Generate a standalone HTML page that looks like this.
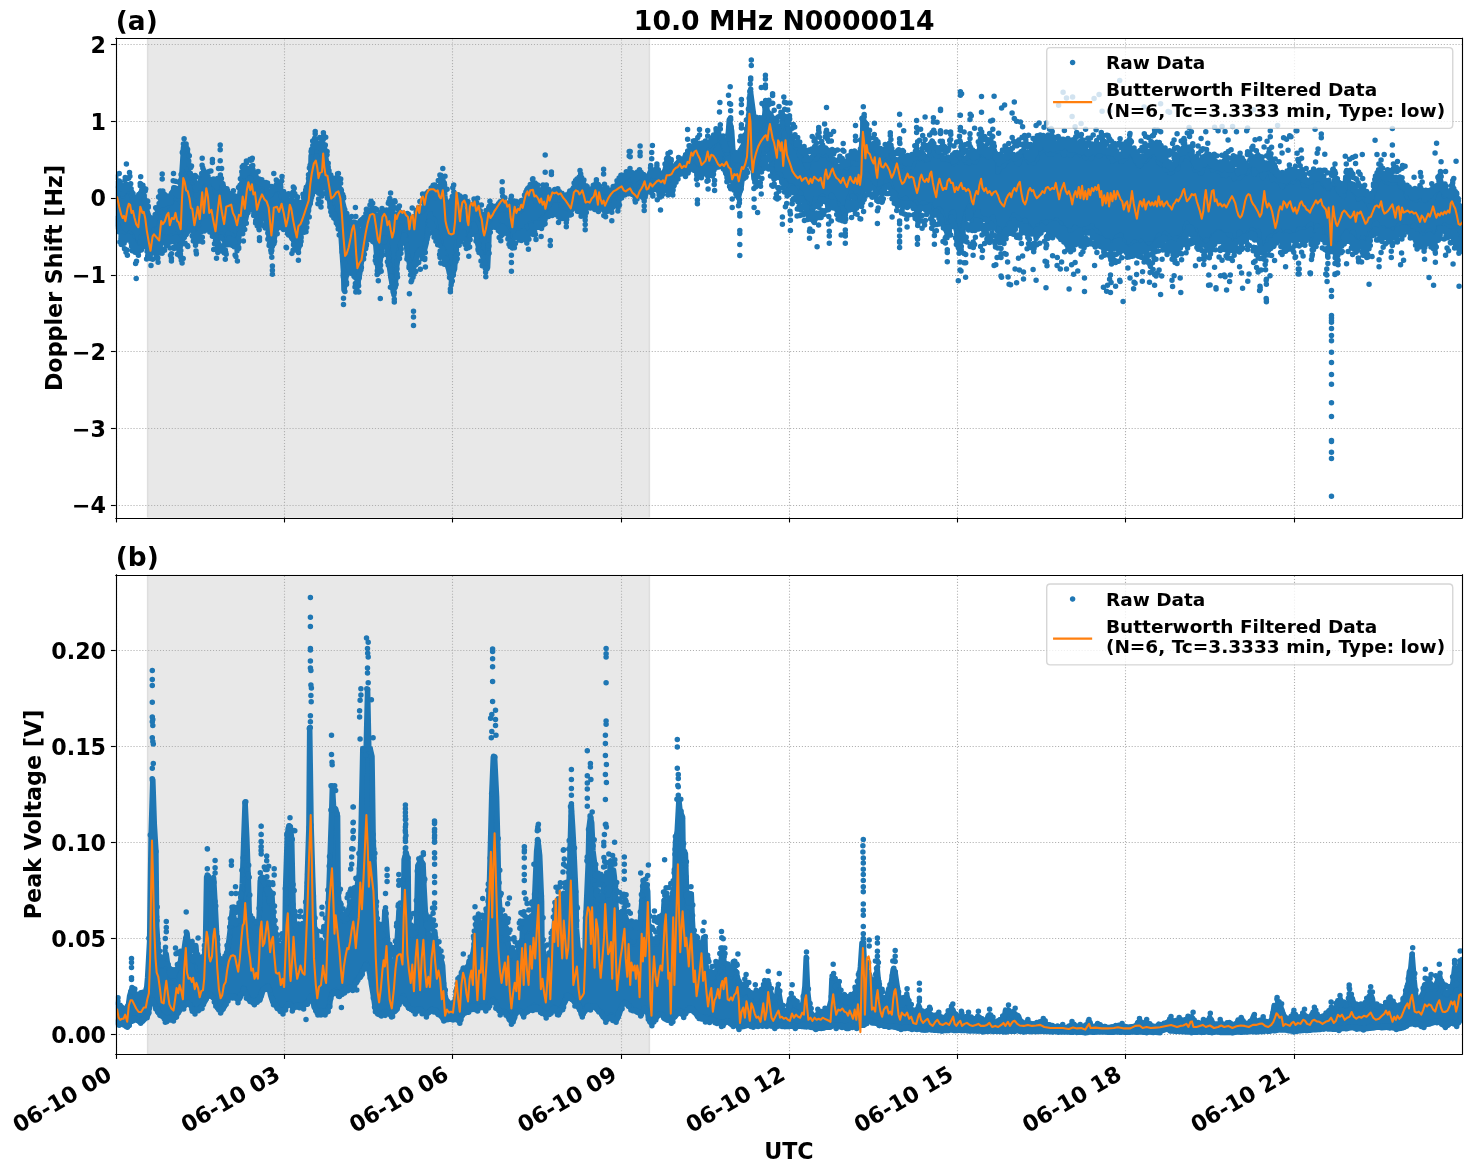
<!DOCTYPE html>
<html lang="en"><head><meta charset="utf-8"><title>10.0 MHz N0000014</title>
<style>html,body{margin:0;padding:0;background:#fff}body{width:1471px;height:1172px;overflow:hidden}svg{display:block}</style>
</head><body>
<svg width="1471" height="1172" viewBox="-0.0161 0.1890 1059.1200 843.8400"><defs><style type="text/css">*{stroke-linejoin: round; stroke-linecap: butt}</style></defs><g id="figure_1"><g id="patch_1"><path d="M 0 845.731138 L 1059.823914 845.731138 L 1059.823914 0 L 0 0 z " style="fill: #ffffff"/></g><g id="axes_1"><g id="patch_2"><path d="M 83.362837 372.871117 L 1052.623914 372.871117 L 1052.623914 27.789 L 83.362837 27.789 z " style="fill: #ffffff"/></g><g id="patch_3"><path d="M 106.1839 372.871117 L 467.6239 372.871117 L 467.6239 27.789 L 106.1839 27.789 z " clip-path="url(#p6ab9ace3d1)" style="fill: #808080; fill-opacity: 0.18; stroke: #808080; stroke-opacity: 0.18; stroke-linejoin: miter"/></g><g id="matplotlib.axis_1"><g id="xtick_1"><g id="line2d_1"><path d="M 83.8639 372.871117 L 83.8639 27.789" clip-path="url(#p6ab9ace3d1)" style="fill: none; stroke-dasharray: 0.8,1.32; stroke-dashoffset: 0; stroke: #b0b0b0; stroke-width: 0.8"/></g><g id="line2d_2"><defs><path id="m1504cfccaf" d="M 0 0 L 0 3.5 " style="stroke: #000000; stroke-width: 0.8"/></defs><g><use href="#m1504cfccaf" x="83.8639" y="372.871117" style="stroke: #000000; stroke-width: 0.8"/></g></g></g><g id="xtick_2"><g id="line2d_3"><path d="M 204.8239 372.871117 L 204.8239 27.789" clip-path="url(#p6ab9ace3d1)" style="fill: none; stroke-dasharray: 0.8,1.32; stroke-dashoffset: 0; stroke: #b0b0b0; stroke-width: 0.8"/></g><g id="line2d_4"><g><use href="#m1504cfccaf" x="204.8239" y="372.871117" style="stroke: #000000; stroke-width: 0.8"/></g></g></g><g id="xtick_3"><g id="line2d_5"><path d="M 325.7839 372.871117 L 325.7839 27.789" clip-path="url(#p6ab9ace3d1)" style="fill: none; stroke-dasharray: 0.8,1.32; stroke-dashoffset: 0; stroke: #b0b0b0; stroke-width: 0.8"/></g><g id="line2d_6"><g><use href="#m1504cfccaf" x="325.7839" y="372.871117" style="stroke: #000000; stroke-width: 0.8"/></g></g></g><g id="xtick_4"><g id="line2d_7"><path d="M 447.4639 372.871117 L 447.4639 27.789" clip-path="url(#p6ab9ace3d1)" style="fill: none; stroke-dasharray: 0.8,1.32; stroke-dashoffset: 0; stroke: #b0b0b0; stroke-width: 0.8"/></g><g id="line2d_8"><g><use href="#m1504cfccaf" x="447.4639" y="372.871117" style="stroke: #000000; stroke-width: 0.8"/></g></g></g><g id="xtick_5"><g id="line2d_9"><path d="M 568.4239 372.871117 L 568.4239 27.789" clip-path="url(#p6ab9ace3d1)" style="fill: none; stroke-dasharray: 0.8,1.32; stroke-dashoffset: 0; stroke: #b0b0b0; stroke-width: 0.8"/></g><g id="line2d_10"><g><use href="#m1504cfccaf" x="568.4239" y="372.871117" style="stroke: #000000; stroke-width: 0.8"/></g></g></g><g id="xtick_6"><g id="line2d_11"><path d="M 689.3839 372.871117 L 689.3839 27.789" clip-path="url(#p6ab9ace3d1)" style="fill: none; stroke-dasharray: 0.8,1.32; stroke-dashoffset: 0; stroke: #b0b0b0; stroke-width: 0.8"/></g><g id="line2d_12"><g><use href="#m1504cfccaf" x="689.3839" y="372.871117" style="stroke: #000000; stroke-width: 0.8"/></g></g></g><g id="xtick_7"><g id="line2d_13"><path d="M 810.3439 372.871117 L 810.3439 27.789" clip-path="url(#p6ab9ace3d1)" style="fill: none; stroke-dasharray: 0.8,1.32; stroke-dashoffset: 0; stroke: #b0b0b0; stroke-width: 0.8"/></g><g id="line2d_14"><g><use href="#m1504cfccaf" x="810.3439" y="372.871117" style="stroke: #000000; stroke-width: 0.8"/></g></g></g><g id="xtick_8"><g id="line2d_15"><path d="M 932.0239 372.871117 L 932.0239 27.789" clip-path="url(#p6ab9ace3d1)" style="fill: none; stroke-dasharray: 0.8,1.32; stroke-dashoffset: 0; stroke: #b0b0b0; stroke-width: 0.8"/></g><g id="line2d_16"><g><use href="#m1504cfccaf" x="932.0239" y="372.871117" style="stroke: #000000; stroke-width: 0.8"/></g></g></g></g><g id="matplotlib.axis_2"><g id="ytick_1"><g id="line2d_17"><path d="M 83.362837 364.1490 L 1052.623914 364.1490" clip-path="url(#p6ab9ace3d1)" style="fill: none; stroke-dasharray: 0.8,1.32; stroke-dashoffset: 0; stroke: #b0b0b0; stroke-width: 0.8"/></g><g id="line2d_18"><defs><path id="m5d545ce8f8" d="M 0 0 L -3.5 0 " style="stroke: #000000; stroke-width: 0.8"/></defs><g><use href="#m5d545ce8f8" x="83.362837" y="364.1490" style="stroke: #000000; stroke-width: 0.8"/></g></g><g id="text_1"><text style="font-weight: 700; font-size: 16px; font-family: 'DejaVu Sans', 'Liberation Sans', sans-serif; text-anchor: end" x="76.362837" y="369.760129">−4</text></g></g><g id="ytick_2"><g id="line2d_19"><path d="M 83.362837 308.7090 L 1052.623914 308.7090" clip-path="url(#p6ab9ace3d1)" style="fill: none; stroke-dasharray: 0.8,1.32; stroke-dashoffset: 0; stroke: #b0b0b0; stroke-width: 0.8"/></g><g id="line2d_20"><g><use href="#m5d545ce8f8" x="83.362837" y="308.7090" style="stroke: #000000; stroke-width: 0.8"/></g></g><g id="text_2"><text style="font-weight: 700; font-size: 16px; font-family: 'DejaVu Sans', 'Liberation Sans', sans-serif; text-anchor: end" x="76.362837" y="314.50013">−3</text></g></g><g id="ytick_3"><g id="line2d_21"><path d="M 83.362837 253.2690 L 1052.623914 253.2690" clip-path="url(#p6ab9ace3d1)" style="fill: none; stroke-dasharray: 0.8,1.32; stroke-dashoffset: 0; stroke: #b0b0b0; stroke-width: 0.8"/></g><g id="line2d_22"><g><use href="#m5d545ce8f8" x="83.362837" y="253.2690" style="stroke: #000000; stroke-width: 0.8"/></g></g><g id="text_3"><text style="font-weight: 700; font-size: 16px; font-family: 'DejaVu Sans', 'Liberation Sans', sans-serif; text-anchor: end" x="76.362837" y="259.240131">−2</text></g></g><g id="ytick_4"><g id="line2d_23"><path d="M 83.362837 198.5490 L 1052.623914 198.5490" clip-path="url(#p6ab9ace3d1)" style="fill: none; stroke-dasharray: 0.8,1.32; stroke-dashoffset: 0; stroke: #b0b0b0; stroke-width: 0.8"/></g><g id="line2d_24"><g><use href="#m5d545ce8f8" x="83.362837" y="198.5490" style="stroke: #000000; stroke-width: 0.8"/></g></g><g id="text_4"><text style="font-weight: 700; font-size: 16px; font-family: 'DejaVu Sans', 'Liberation Sans', sans-serif; text-anchor: end" x="76.362837" y="203.980132">−1</text></g></g><g id="ytick_5"><g id="line2d_25"><path d="M 83.362837 143.1090 L 1052.623914 143.1090" clip-path="url(#p6ab9ace3d1)" style="fill: none; stroke-dasharray: 0.8,1.32; stroke-dashoffset: 0; stroke: #b0b0b0; stroke-width: 0.8"/></g><g id="line2d_26"><g><use href="#m5d545ce8f8" x="83.362837" y="143.1090" style="stroke: #000000; stroke-width: 0.8"/></g></g><g id="text_5"><text style="font-weight: 700; font-size: 16px; font-family: 'DejaVu Sans', 'Liberation Sans', sans-serif; text-anchor: end" x="76.362837" y="148.720132">0</text></g></g><g id="ytick_6"><g id="line2d_27"><path d="M 83.362837 87.6690 L 1052.623914 87.6690" clip-path="url(#p6ab9ace3d1)" style="fill: none; stroke-dasharray: 0.8,1.32; stroke-dashoffset: 0; stroke: #b0b0b0; stroke-width: 0.8"/></g><g id="line2d_28"><g><use href="#m5d545ce8f8" x="83.362837" y="87.6690" style="stroke: #000000; stroke-width: 0.8"/></g></g><g id="text_6"><text style="font-weight: 700; font-size: 16px; font-family: 'DejaVu Sans', 'Liberation Sans', sans-serif; text-anchor: end" x="76.362837" y="93.460133">1</text></g></g><g id="ytick_7"><g id="line2d_29"><path d="M 83.362837 32.2290 L 1052.623914 32.2290" clip-path="url(#p6ab9ace3d1)" style="fill: none; stroke-dasharray: 0.8,1.32; stroke-dashoffset: 0; stroke: #b0b0b0; stroke-width: 0.8"/></g><g id="line2d_30"><g><use href="#m5d545ce8f8" x="83.362837" y="32.2290" style="stroke: #000000; stroke-width: 0.8"/></g></g><g id="text_7"><text style="font-weight: 700; font-size: 16px; font-family: 'DejaVu Sans', 'Liberation Sans', sans-serif; text-anchor: end" x="76.362837" y="38.200134">2</text></g></g><g id="text_8"><text style="font-weight: 700; font-size: 16px; font-family: 'DejaVu Sans', 'Liberation Sans', sans-serif; text-anchor: middle" x="44.495337" y="200.330059" transform="rotate(-90 44.495337 200.330059)">Doppler Shift [Hz]</text></g></g><g id="rawA"><defs><path id="m3a58cf84ba" d="M 0 1.5 C 0.397805 1.5 0.77937 1.341951 1.06066 1.06066 C 1.341951 0.77937 1.5 0.397805 1.5 0 C 1.5 -0.397805 1.341951 -0.77937 1.06066 -1.06066 C 0.77937 -1.341951 0.397805 -1.5 0 -1.5 C -0.397805 -1.5 -0.77937 -1.341951 -1.06066 -1.06066 C -1.341951 -0.77937 -1.5 -0.397805 -1.5 0 C -1.5 0.397805 -1.341951 0.77937 -1.06066 1.06066 C -0.77937 1.341951 -0.397805 1.5 0 1.5 z " style="stroke: #1f77b4"/></defs><g clip-path="url(#p6ab9ace3d1)"><g transform="scale(0.72) translate(-0.0224 0.2625)"><path d="M117.2 190.2 118 187.1 120.3 190.7 121.1 193.1 123 196 123.9 192.1 126.1 190.4 126.7 190.5 127.9 186 129.3 188.5 131.3 192.9 133.6 205.2 134.3 203.9 136.6 205.7 138.2 204.3 138.2 200.1 140.6 192.5 141.9 191.9 144.1 196.1 144.2 200.2 146.5 209.6 147.2 211.5 149.6 218.6 150.6 226.6 153.2 226 154.5 223.5 155.6 218.5 157.2 215.7 157.7 212 159.9 206.5 162 206 163.5 206.1 165 208.5 165.2 206.6 166.9 206.2 169.4 203.9 170.9 202.5 172.4 199.4 173.8 187.7 174.5 193 177.1 198.6 178.5 198.8 180.4 201.6 180.8 188.6 182.6 162.9 183.5 148.2 186.2 148.6 187.5 152.3 187.7 170 190.1 174.5 192.1 177.8 192.9 182 195.4 187.5 196 195.6 198.3 191.3 199.7 191.1 200.1 187.7 201.7 176.6 203.8 173.9 204.3 180.9 206.7 183.4 207.5 182.7 208.7 181 211.6 181.1 211.7 181.3 214.6 185.5 216.1 193.1 216.5 190.7 218.7 184.3 220.6 182.6 222.3 184.7 223.6 198.7 224.6 198.3 225.4 201.8 227.8 205 228.6 202.1 229.8 202.8 231.4 203.6 233.6 203.8 234.2 203.3 236 205.5 238.2 205.2 239.3 198.2 240.7 186.9 243.3 177.6 244.7 176 244.9 175.6 246.2 173.6 248.2 171.7 249.9 173.2 252.2 170.8 253.4 174.2 255.1 174.9 256.5 178.8 257.4 181.7 258.7 186.2 260.6 186.4 262.1 183.3 262.8 184 265.9 188 266.1 188.5 267.9 193.7 269.6 195.7 270.4 194.3 271.8 193.4 273.9 190.7 275.7 188.8 277.9 187.1 278.5 189.7 279.7 190 281.7 197.1 283.3 194.9 284.6 198.4 286.3 201.3 288.2 201.2 289.2 201.9 290.4 203.7 291.2 201.8 293.6 202.9 295.6 205.7 296.9 208.7 298.5 209 298.9 210.3 301.2 208 302 206 303.9 203.6 306.2 198.1 306.4 190.5 308.8 181.9 310.8 171.6 311.1 155.9 312.3 151.4 315.4 150.5 316.1 145.8 317.9 149.3 319.5 151.2 321.4 153.4 322 154.8 324.3 145.3 324.4 147.1 325.7 156.8 327.3 167.3 330.1 179 330.5 182.2 333.4 182.6 333.6 186.8 336.3 185.6 336.2 187.8 339.3 187.3 340 189.4 341.3 197 343.9 207.1 344.5 218.7 346.7 227.6 347.3 223.7 349.4 223.2 350.6 227.6 351.6 230.5 352.8 226.6 354.9 227.2 356.2 231.6 358.6 233.1 359.1 232.6 360.7 231.1 363 229.8 364.2 226.8 366.4 221.3 366.2 217.7 369.2 213.8 369.3 213.5 370.8 212.2 372.4 211.5 374.2 218.8 375.2 221.4 377.7 227 379.5 231.1 379.7 224.1 382.6 221.1 382.8 220.4 385.6 216.1 387.5 215.4 387.7 216.9 388.8 211.3 391.8 208.3 391.9 209.6 393.6 213.6 395.5 219.9 397.2 218 397.9 223.2 400.9 217 401 220.9 403.9 216.9 405.2 218.1 405.4 225.3 407 223.2 409.9 223.9 411.2 225.2 412.5 222.3 413 222.5 414.5 218.7 417.2 215.1 418.8 213.1 418.7 211.3 420.3 210.2 421.9 211.6 423.9 209.6 425.9 202.7 427 198.4 428.3 195.7 429.8 193.9 431.2 193 433 196.4 435.3 197.7 435.4 196.7 437 195.5 439.4 191.8 441 182.7 441.8 183.5 444.1 182.5 444.8 195.5 445.7 203.6 448.7 204.6 450.1 207 450.9 203.4 452.7 201.9 454.7 201.5 454.9 210.5 456.4 211.9 458.8 208.8 459.4 207.3 461.6 205.8 463 209.8 465.2 212.7 466.7 212.9 468.1 210.5 468.9 213.7 471.1 210.2 472.7 206.5 474.3 208.6 475.5 211.6 475.9 211.9 478.9 212.8 480.2 218.4 480.9 217.2 482.2 221.1 484.4 225.2 484.8 223 487.5 220 488.4 215.4 489.2 215.1 490.9 214.1 492.3 210.7 493.8 212 496.5 208.1 498 207.1 499.9 209.5 501.3 205.4 502.1 201.3 503.5 203.3 504.3 209.5 505.8 208.9 508.9 208.5 509.1 210.3 511.5 208.9 512 210 514.5 211.2 515.9 214.5 516.6 209.2 518.1 211.6 520.2 210.7 521.9 209.5 522.9 205.1 523.9 200.2 525.7 204.7 527.6 195 528.5 194.8 530.8 196.3 532.6 191.1 534.3 192 535.8 201.4 536.4 194.7 538.7 194.4 538.9 197.5 540.4 195.9 542.3 195.8 543.5 194.5 545.2 194.3 547 194.5 548 193.7 550.3 194.7 552 193.6 553.8 195.4 553.9 195.6 556.1 194.6 557.1 195.6 559.3 196.1 560 200 562.3 196.4 562.9 198.9 564.2 198.4 566.8 199.7 567.7 199.4 570.3 199.6 571.1 195.6 571.7 192.4 574.9 188.8 576 190 577.4 187.7 579.4 181 579.2 179.9 582 183.6 582.3 185.8 584.7 189.4 585.6 190.7 587.2 191.2 588.7 193.3 591.1 191 592.1 193.5 593 188.9 595.3 187.6 597 186.8 598.9 190.1 599.3 189.1 600.7 192.1 602.8 190.3 603.5 191.3 606.3 191.6 606.5 193.3 609.1 192.2 610 192.8 611.4 192.6 613.8 190.3 615.4 189.1 615.5 186.6 617.4 184.1 619.4 182.8 620.8 180.4 621.5 179.8 623.2 179.8 625.6 177.4 626.9 177.8 627.7 177.4 630.1 175.6 630.3 179.6 632.6 179.6 633.9 181.1 635.2 179.7 637.5 177.9 638.6 177.6 640 177.7 642.4 178.2 642.9 178.7 644.4 180.4 646.2 180.5 647.4 178.9 649.3 176.3 649.9 172.4 651.3 173.9 652.7 175.4 654.7 175.5 656.3 173.7 658.1 175 659.9 178.6 661.7 177.8 662 176.7 663.9 174.8 665.5 168.1 667.6 160.9 668.7 165.1 670.2 160.8 670.7 166.4 673 168.5 674.8 166.7 676.8 166.6 677.4 163.6 679.3 161.7 681 161.6 681.6 159.7 684 159.9 685.3 160.7 687 158.8 687.3 153.4 688.8 150.9 691.8 149.5 691.7 148.4 694.6 146.9 695 148.4 697.9 146.5 697.8 145.4 699.5 146.2 700.9 151.4 702.2 149.9 704.7 150.6 706 151.1 706.8 151.2 708.3 148.7 710.7 148.5 712.5 144.4 713.6 144.9 714.3 143 715.8 140.2 718.3 134.1 719.1 134.9 721.5 142.1 723.4 145.9 723.9 147.7 725 150.1 726.8 153.4 727.9 138.6 729.3 119.5 731.7 131.1 733.5 161.1 733.9 167.2 736.4 165 738.4 169 738.6 170.6 740.3 153.6 741.5 148.2 743.3 145 744.7 140.1 746.2 136 748.7 119.5 749.7 99.8 750.5 91.7 753.4 113.2 754 129.6 756.2 132.4 756.9 132.7 759.2 129.1 760.5 126.4 762.3 125.9 763.7 121.1 764.7 115.5 765.5 105.6 767 109.1 768.6 118.3 771.2 123.6 772.2 122.2 773 126.3 774.7 129.1 775.8 132.9 778.7 136.3 779.2 131 780.8 129.6 782.2 122.5 783.5 118.7 784.8 120 787.2 124.7 787.9 128.9 789.8 132.2 791 140.9 792.5 139.5 793.9 142.7 795.3 147.3 797.6 147.6 799.2 150.9 799.7 155.1 801.2 157.6 802.7 157.8 804.5 160.7 807.4 167.3 808.5 161.8 808.9 162.9 811.2 158.5 812.1 159.9 813.8 154.7 816.2 158.6 817.5 153.6 818.4 151.6 819.4 154.2 822.3 152.5 823.3 154.8 823.9 151.9 825.9 149.5 828.1 155.1 829.2 158.7 830.9 158.7 832.4 160.1 833.3 159.1 834.7 163 836 168.1 837.2 175.8 839.9 171.3 840.8 167.9 843.1 165 843.6 165.7 845.4 164 847.2 167.8 848.9 163.6 850.2 163.7 852.4 158.8 852.8 157.6 854.6 157.5 855.4 163.9 858.4 162.4 858.6 163.5 861.1 151 862.8 131.8 862.8 117.7 865.9 125.6 867.3 135 868.2 140 869.5 148.8 871.4 147 873.3 147.8 873.5 143.5 874.8 143.3 876.9 151.9 879.3 152.4 880.9 157.7 882.4 155.4 882.6 161.3 884 157.2 885.3 156.4 888.2 156.3 889.4 150.6 890.7 151.1 892.8 155.2 892.8 158.2 895.6 159.9 897.2 166 898.6 160.7 899.6 159.7 901.9 165.7 903.3 164.5 904.6 163.6 905.4 163.9 906.8 167.1 907.7 170.1 910.5 164.5 912.2 167.1 913.6 162 914.4 158.6 916.5 152.4 917.9 156.8 919.9 158.4 921.2 156.4 921.2 156.8 924.4 159.6 924.2 158 925.9 158.4 928.9 156.4 928.7 159 930.7 148.9 932.1 141.1 933.7 146.4 935.8 155.5 936.8 155.5 939.1 155.7 940.3 155.3 941.9 155.2 942.7 159 945.4 158.8 945.3 158 948.1 158.1 948.4 159.6 951.3 158.5 952.5 160.4 953.8 163.4 954.3 161.9 956.4 162.2 957.2 157.9 960.1 157.2 961.9 149.3 961.8 158.2 963.7 158.4 965.2 161.7 966.2 159.1 969.2 163 969.2 156.4 972.4 158.3 973.8 160.9 974.9 162.2 976.3 160.8 977.1 158.7 979 150.9 980.3 145.7 982.4 153.2 983.7 154.6 985.7 153.8 986.7 154.8 988 156.5 990.2 156.4 990.7 153.7 991.9 146.7 994.4 150.6 995.7 156.7 997.8 161 997.8 171.7 999.8 167.6 1001.9 166 1003.5 165.9 1005.2 161.2 1006.1 161.6 1008.3 160.3 1009.5 157 1010.3 157.1 1012.3 155.7 1014 158 1015.5 160.3 1016.8 162.3 1018.8 163.6 1019.8 158.7 1020.6 156.5 1022.8 156.6 1024.7 153.2 1025.3 156.3 1026.8 158.4 1029.2 162.1 1029.4 159.7 1031.6 160.5 1033.8 163 1034.5 157.5 1036.4 159.3 1037.6 151.3 1039.7 152.4 1040.1 149.4 1041.7 150.7 1043.2 149.6 1044.3 147.5 1046 149.1 1048.2 153.6 1049.9 154.1 1050.8 151.6 1052.8 153.6 1053.4 149.6 1055.3 150.8 1057.3 150.7 1058.5 150 1059.9 149.5 1061.7 149 1063.9 155.1 1064.6 149 1065.2 147.9 1067.6 149.5 1069 152.9 1070.3 155.1 1072.8 153 1074 150.2 1074.2 151.7 1077.1 151.7 1078.9 150.6 1080 154.4 1081.2 153.5 1081.7 151.6 1084.6 155.9 1085.6 157.7 1086.3 153.6 1088.4 155.5 1089.7 153.9 1091.3 158.4 1092.6 154.9 1095.2 152.4 1095.2 151 1097.3 152.1 1098.8 155.9 1100.5 155.2 1102.4 151.1 1103.9 152.2 1105.9 151.4 1105.9 152.6 1108.1 153.8 1108.8 156.1 1111.8 154.7 1112.7 161 1114.3 157.1 1115 156.1 1116.4 159 1119.2 158.4 1120.5 159.5 1120.8 161.3 1122.5 160.9 1125.3 157.7 1126.4 155.3 1127 157.4 1129.6 151.9 1130.4 152.3 1131.7 154.7 1134.2 156.8 1134.7 159 1136.1 162.1 1137.6 163.1 1140.4 165.3 1140.4 165.2 1142.6 161.2 1143.6 160.6 1145.6 160.8 1146.3 160 1147.8 154.7 1149.3 156.3 1151.2 152.6 1153.5 150.8 1154.8 149.5 1155.4 156.6 1157.8 155 1158.9 162.6 1160.9 160.2 1161.7 164.6 1163.7 163.9 1165.7 167.5 1165.7 169.9 1168.4 167 1169.1 169.5 1170.2 172.8 1172.3 171.7 1174.3 167.4 1174.7 165.5 1177.7 168.3 1178.6 160.4 1180.9 158.6 1180.8 160.2 1182.7 152.4 1184.1 152.8 1185.7 155.3 1187.9 156.5 1189.4 152.8 1190 156.4 1192.1 159.7 1194.1 161.1 1194.9 170 1197.2 167.4 1197.7 168.2 1200.4 173 1201 172.9 1203.2 166.4 1204.1 164.5 1205.6 163.2 1207 164.1 1208.4 164.3 1209.4 165.8 1212.4 167.4 1212.5 169.8 1213.7 166.8 1216.1 166.5 1217.4 170.4 1218.9 169.4 1220.2 171 1222.6 173.7 1222.8 175 1225.4 171 1225.8 175.6 1227.5 169.2 1230.4 174.2 1231.4 172.9 1233.2 173.5 1234.2 178.6 1236.3 170.2 1237.6 172 1238.8 176.3 1239.3 177.6 1241.7 175.4 1242.6 172.4 1243.9 173.5 1246.9 172.7 1247.8 169.2 1249.2 165.3 1250.9 164.3 1251.9 165.6 1253.9 164.7 1254.4 174.2 1256.9 167.6 1258 169.5 1259 170.9 1261.3 171.7 1262.8 177.6 1264.5 174.3 1265.1 171.2 1266.4 168.9 1267.9 169.2 1270.3 171.7 1270.9 174 1272.3 179.4 1273.7 174.4 1276.2 177.1 1277.7 181.1 1279.5 180.8 1280.5 182.6 1282.4 186.7 1283.6 183.9 1285.4 182.7 1286.4 182.8 1288.5 181.5 1289.2 181.1 1291.6 179.8 1292.4 179.7 1293.6 181.6 1295.8 176.2 1297.3 177.8 1299.1 176.8 1300.7 178 1302.2 179.9 1303.2 183.2 1303.7 185.1 1305.2 181.9 1307.7 184.7 1309.1 182.3 1311.1 187.1 1311.2 181.6 1312.7 179.6 1314.6 180.4 1316.7 178 1318.4 178 1320.1 178.9 1321.4 179.8 1322.7 182 1323.2 184.1 1325.2 186 1327.7 186.7 1328.5 189 1329.6 186.4 1331.2 183.9 1333.9 184 1334.2 180.5 1336.6 185 1337.7 188.1 1339.3 190.9 1340.5 193.4 1341.8 194.6 1343.6 196.4 1345 186.8 1345.8 176.9 1348.4 180.4 1349.3 183.7 1350.6 187.8 1352.8 188.1 1353.3 189.9 1356.3 194.7 1357.4 195.6 1358.5 198.9 1359.5 198.4 1361.7 192.3 1362.3 195 1364.5 197 1365.4 199.9 1366.8 201.3 1368.8 202.3 1370.3 209 1371.9 200.2 1373.8 192.4 1375.7 184.9 1376.1 183.9 1378.5 180.1 1379.9 174.6 1381 174.5 1383 177.2 1383.8 177.3 1385.1 181.1 1386.7 182 1388.8 182.8 1390.5 183.2 1392.4 182.3 1393.5 182.7 1395.2 182.1 1395.7 182 1397.5 180.2 1399.6 184.1 1401.2 186.9 1401.7 185.1 1403.2 187.5 1405 188.8 1407.3 197.2 1408.7 192 1408.7 196.3 1410.3 196.7 1412.9 198.5 1414.2 198.7 1416.3 199.8 1416.4 197.6 1419 196.9 1419.5 191.4 1421.2 199.5 1423 197.1 1425 200.5 1426.5 198.6 1427.8 198.8 1429.1 198.4 1430 196.2 1432.3 201.4 1434.4 193.5 1435.1 192 1436.1 191.5 1437.7 188.6 1439 185.9 1441.2 185.8 1443.3 189.7 1444.6 196 1445.3 194.4 1446.9 195 1448.1 195.5 1450 193.8 1451.2 195.1 1453.8 193.6 1455.1 200.6 1455.2 200.9 1457.4 204.1 1460 206.2 1460 210 1460.3 238.4 1458.4 242.5 1458.4 238.1 1455.9 231.1 1454.1 233 1453.4 232.1 1451.2 231.5 1450.2 227 1447.8 229.5 1446.8 228.5 1444.7 225 1443.9 229.2 1442.1 226.7 1440.5 227.6 1439 227.6 1438.9 229.2 1436.7 235.1 1434.2 241.9 1433.8 237.7 1432.5 237.9 1431.2 234.5 1429.9 231.6 1428 230.9 1426.3 236.4 1425.4 237.1 1423.6 237.7 1421.3 234.8 1420.2 235.2 1418.5 230 1417.8 233.4 1414.9 227.3 1413.6 225.4 1411.7 231.1 1410.3 228.9 1409.2 227.6 1407.9 226.9 1406.8 227.1 1404.4 227.7 1403.7 227.9 1402.8 227 1400.5 227.3 1399.9 224.2 1397.1 228.2 1395.4 229.4 1394.7 230.4 1392.9 229.3 1392 235.6 1390.3 230.5 1388.7 231 1387.5 230 1384.7 229.6 1383.2 228.9 1382.9 228.1 1380.5 229.4 1379.8 228.5 1378.1 228.3 1376.9 223.6 1374.5 224.7 1373.3 230.4 1372.3 234.2 1371 230.9 1368.4 238.8 1368.2 237.6 1365.3 242.6 1363.8 243 1362.8 237.8 1361.6 240.3 1360.6 244.3 1357.7 244.6 1357 243.1 1355 239.5 1353.4 239.5 1353.3 232 1351.2 237.7 1348.8 232.5 1348.3 232.9 1347 231 1345.3 234.7 1343.6 238.4 1341.3 238 1340.7 241.3 1339.1 244.6 1336.8 247.9 1336.9 246.1 1334 246.2 1332.4 242.2 1331.6 243.9 1330 245.4 1328.2 242.9 1326.6 242.6 1325.4 238.4 1324.9 236.8 1321.9 234.5 1321.7 228.7 1319.7 229.7 1317.5 225.9 1316.9 229.7 1314.6 234.3 1314.1 241.9 1311.2 244.7 1310.9 224.6 1308.6 226.4 1307.2 229.7 1306.7 229.4 1303.8 231.4 1303.7 229.5 1300.9 230.9 1299.8 230.3 1299.1 229.2 1297.2 233.1 1295.4 235.5 1293.3 237 1292.8 236.3 1290.5 235.4 1289.6 233 1287.2 231.8 1286.3 236.1 1284.3 235.2 1282.8 234.3 1281.8 235.5 1280.7 235.1 1279.6 231 1277.9 231.4 1276.7 232.8 1274.1 235.7 1273.6 236.4 1271.5 236.4 1269.8 237.5 1268.2 239.5 1267.2 242.8 1265.1 246.6 1263.3 243.6 1263.3 244.6 1260.2 243.5 1259.5 241.3 1258.2 231.6 1257.2 237 1254.3 234 1254.2 231.3 1252 229.8 1250.8 234 1248.3 233.1 1247.7 235.1 1245.6 235.9 1244.9 236.7 1242.5 235.7 1241.3 238.5 1239.4 232.3 1238.8 239.6 1237.5 239.2 1236.1 240.8 1234.9 242.5 1233.3 241.7 1231.4 242.6 1229.8 234.7 1227.2 238.8 1226.1 239.4 1225.9 234.9 1222.8 236.2 1221.9 234.7 1219.9 232.1 1219.4 231.7 1218.4 232.1 1216.6 234 1214.7 235.5 1212.8 236.2 1212.2 238 1209.5 241.8 1208.4 243.7 1206.6 240.4 1205.8 244.4 1204.1 244.3 1203.2 243.6 1201.1 244.5 1199.5 239.1 1197.3 238.3 1196.4 234.7 1195 229.7 1193.5 229.9 1192.2 228.7 1190.4 226.8 1188.3 227.4 1186.9 223.6 1185.4 227.7 1184.5 232 1183.1 234 1181.5 236.8 1179.8 239 1178.5 239.5 1176.4 238.2 1176.1 242.6 1173.2 240.6 1172.4 242.6 1171.4 239.6 1169.5 241.6 1167.3 235.6 1165.7 238.9 1164.8 233.5 1163.8 237.4 1162 237 1159.7 237.6 1158.9 235.5 1157.2 239.4 1155.6 242.3 1155.3 244.3 1152.3 244.2 1151.4 243.8 1150 245.6 1148.1 244.5 1146.2 247.2 1144.9 245.7 1143.5 243.8 1142.5 244.6 1141.2 241.6 1140 244 1137.6 243.9 1136.8 245.5 1135 242.2 1134.2 242.3 1132 246.1 1131.1 248.6 1129.9 247.7 1128.2 246.9 1125.8 248.6 1124 246.3 1123.7 241.4 1120.8 239.3 1120.7 235.3 1118.6 236.6 1117 236.7 1115.6 242.9 1113.5 242.1 1111.8 243 1111.4 244.1 1109.8 244.6 1107.8 241.2 1105.8 241.9 1105.7 241.7 1103.2 240.3 1101.3 238.7 1101 238.7 1098.3 232.8 1096.8 234 1096.2 230.8 1094.8 233.7 1093.7 232.5 1091.9 226.1 1089.4 230.5 1089.4 227.8 1086.7 229.4 1085.3 231.7 1084.5 229.2 1082.9 232.9 1081.5 232.6 1078.8 230.7 1078.1 228.9 1076.9 231.2 1074.9 227.3 1073 233 1071.9 231.1 1069.7 233.2 1068.7 231.3 1067.1 230.3 1066.5 231.2 1063.8 230.5 1063.5 228.3 1061.3 226.8 1060.4 223.3 1057.9 222.5 1057.2 224.3 1056.4 220.1 1054.5 221.8 1053.5 223.3 1050.9 222 1050.1 223 1048 224.9 1046.5 222.3 1044.4 228.9 1043.6 225.7 1041.8 223.1 1040.2 227 1039.5 226.6 1037.8 225.9 1036.8 228.8 1034.6 232.9 1033.9 233.9 1032.4 231.6 1030.1 228.6 1028.6 226.5 1026.3 225.1 1024.9 220.4 1024.7 223.5 1022 225.4 1021.8 225.1 1019.7 223.3 1017.9 217.7 1016.7 217.2 1015.5 218.8 1013.7 215.3 1011.3 221.1 1009.8 223 1008.9 224.5 1008.2 225.9 1006.3 230.5 1004.5 233.1 1002.2 233.5 1002.1 235 1000.3 234.4 999 228.9 997.6 231.2 995.3 226.2 994.2 226.2 992.9 217 990.3 220.9 990.4 222.7 988.1 221.7 986.9 221.3 985.7 219.4 982.7 219.1 981.3 220.8 980.9 217.8 978.9 219.7 978.1 211.8 975.2 220.3 974.9 224.1 972.4 224.3 970.9 213.5 970.8 202.3 969.3 207.1 966.2 213.2 965 220.6 963.7 223.6 963.2 229.4 961.3 239.2 958.9 248.8 957.2 240.5 956.6 231.2 954.3 223.5 953.3 211.9 951.3 214.5 951 217.4 949.9 220.6 947.6 228.1 945.9 230.3 944.2 224.1 943.3 218.2 940.9 211.2 940.3 214.1 938.9 209.2 937.2 211.1 936.2 211.1 933.9 211.9 933.3 212.2 930.3 207.4 930.1 204.7 928.2 205.7 926.8 207 924.5 205.6 924.4 203.2 922.9 202.8 920 205.8 919.7 208.3 917.7 218.7 916.3 207.1 915.4 202.3 912.7 204 911.3 204.7 910.9 203.8 908.3 204.1 907.9 202.6 905.5 198.1 904.2 201.9 901.8 200.5 900.3 202.4 898.9 204.9 898.6 200.1 895.9 195.6 895.7 193.7 893.3 193.5 892.1 190.8 891 187 889.7 181.9 887.2 182.1 886.3 181.6 885.2 186.6 883.6 186.8 881.1 189.6 879.9 189.2 878.4 190.9 877 193.9 874.7 185.7 874.5 179.8 872 183.2 871.3 187.9 869.9 180.1 867.3 175.2 866.8 173.8 865.4 179.4 862.7 195.3 862 200.6 861.3 203.4 859.7 203.6 857 196.6 856.3 200.5 853.8 198.1 853.3 196.6 850.9 193 850.5 195.8 849.4 197.2 847.9 202.9 846.2 211.7 844.1 215.6 842.2 215.1 841.9 207.8 839.3 209.8 838.1 204 837.1 206.3 834.7 200.8 834.1 200.1 831.5 195.2 830.2 200.9 828.6 209.6 826.8 201.2 826 197.8 825.4 198.9 822.7 196.2 821.4 196.8 819.5 199.7 818 198.9 817.6 199 815.5 198.8 813.5 206.9 811.7 212 810.3 211.6 809.3 212.2 808 207.8 807.2 203.7 804.2 201.9 803.3 200.7 802 199.2 800.3 192.6 799.9 193.6 797.7 193.8 796.8 187.8 794.1 190.6 793.3 188.2 791.9 186.3 789.2 189.9 789.3 186.5 787.2 185.9 784.7 181 784 183 781.8 182.6 781.9 179.6 780.4 174.6 777.4 174.5 776.3 175.4 775 178.3 774 179.3 771.5 165.8 771.4 158.5 768.4 151 767.6 146.9 766.6 150.4 764.9 149.2 762.8 158.3 762.2 163.5 759.2 168.2 759.2 169.5 758 170.5 755.6 177.5 754 178.9 753.1 167.6 751.1 160.6 749.2 157.5 747.4 156.7 746.3 163.6 744.5 168.2 744 173.4 742.4 176.3 741.3 186.1 738.3 197.8 737.8 193.4 735.7 186 734.1 184.8 733.5 181.2 731.4 180.3 730.2 173.1 729.1 173.5 727.6 172.1 725.7 172.1 724.4 166.2 722.5 162.3 721.1 157.7 719.9 160 717.8 159.7 716.5 162.9 715.7 165.1 712.9 164.8 712.2 167.7 710.6 168.2 709.3 168 707.4 170 705.9 166.7 704.3 167.2 703.5 162.4 701.8 167.2 699.7 167.7 697.7 170.7 697 174.3 696.3 169.6 693.8 166.2 692.2 163.9 690.6 162.4 689.8 165.3 688 165.9 686.1 169.6 685.1 171.5 683.5 170.2 682.5 171.7 681.1 171.1 679.6 172.4 676.7 175.3 676.3 178.4 673.7 178.5 673.5 186.2 671.7 186.1 670 185.8 668.2 184.2 666.8 184.9 665.2 187 663.6 186.6 662.4 187.2 660.8 188.6 659.5 189.9 658.1 190.1 657.1 187.5 655.3 189.5 653.7 188.7 651.8 187.7 651.3 189.7 649.3 189.9 648.4 190.7 646.9 190 644.9 194.7 643.4 194.1 641.3 190.9 639.8 186.8 639.4 189.6 637.4 193.2 635 195.4 633.5 195 631.8 189.6 630.4 189.6 630.4 187.4 627.5 190.2 626.7 190.8 624.4 189.7 623.5 191.2 621.3 191.2 620.6 193.3 618.4 197.5 616.7 202.6 616.1 199.8 613.9 200.8 612.9 203.7 611.9 206.6 610.2 203.4 609 205 607.5 206.5 606.1 209 604.2 208.1 602.4 203.8 601.9 206.5 600.3 204.3 598.1 204.4 597.2 203 595.7 199.9 593.2 201 592.7 204 591 201.2 588.7 205.9 586.8 205.4 586.4 207.1 584.3 206 583 207.8 581 206.8 580.3 201.7 578.1 201.6 576.2 201.1 574.8 203.2 573.8 205.9 573 206.8 571.8 209.9 569.8 212.5 568.4 213.3 566.5 214.8 564.4 211.8 563.3 209.2 562.7 211.3 561.2 211.2 558.5 210.5 556.7 210.3 555.2 204.6 555.2 204.8 553.9 209.1 551.4 210.2 550 213.1 549.4 213.1 546.8 214.8 544.7 217.6 543.3 217 542.3 220 540.6 219.7 539.1 222.1 538.3 222.2 536.6 222.9 535.6 222.7 532.9 225.3 532.8 222.7 530.1 227.6 529.9 223.8 528.2 229.7 526.9 226.7 525.3 230.7 523.7 230.9 521.9 232.1 520.3 231.7 518.2 232.3 517.9 232.1 514.7 228 514.8 232.3 512.6 235.8 511.6 242.8 509.2 235.4 508.3 233.4 507.1 228.4 504.4 228.2 502.7 227.4 502 226.6 499.7 231.4 499.9 227.3 498.1 222.7 495.7 219.9 494.3 221 492.9 224 491.5 227.4 489.2 228.2 488.8 240.7 487.6 267.5 485.3 265.5 484.3 258.9 483 256.8 481.4 253.5 479.5 250.5 477.4 242.6 476.3 233.5 474.3 225.1 472.9 224.3 471.3 229.7 470.1 234.6 468.3 239.6 466.9 244.5 466.3 238.1 464.1 234.3 463.4 231.3 462.4 232.2 460.3 237.1 459.3 241.3 457.1 241.6 455.4 254.4 454.6 268.9 452.4 274.5 451.8 277.2 449.3 272.7 447.8 264.7 446.1 256.4 444.2 255.1 444.1 251.6 442.6 248.3 440.7 242.3 439.8 235.5 437.9 236 435.9 229.5 434.8 220.6 433.9 219.4 431.9 221.6 430.3 214.1 428.4 223.1 427.3 230.9 426.3 242.7 423.9 252.1 423.4 250.8 421 248.9 418.9 250.5 417.4 253.5 417.1 254.5 415.6 260.2 413.4 269.1 412.6 268.1 410 266.4 408.2 257.1 407.4 253.9 405.2 234.8 404.4 232.4 403.1 238.5 400.9 243.4 400.7 244.5 398.7 252.6 396.8 265.5 395.4 283.1 393.2 292.6 392.7 287 390.9 277.4 389.1 264.3 388.6 253.7 387.4 245.5 385.4 237.9 382.7 238.2 381.7 250.1 380.5 258.3 378.6 271.7 377.9 268.7 376.7 255.8 375.4 240.3 373.3 232.8 371.1 226.9 369.7 232.1 369.2 234.4 366.6 238.1 364.9 242.1 364.1 246.2 362.9 255.6 361.5 261.4 359.9 272.3 357.8 283.6 357.2 280.6 354.9 270.5 352.9 262.8 351.7 262.8 350.1 258.5 348.9 258 347.6 264.1 345.5 280.6 344 290.2 343.6 273.6 341.5 242.7 340.7 230.2 337.9 222.3 337.1 220.1 336.4 218.8 333.7 215.2 332.5 206.4 330.6 207.6 329.7 201.6 328.6 196.8 326.5 186.5 325.3 185.1 323.6 185.6 322.8 184.6 321.1 180.5 319.8 185.8 317.2 182.2 316.2 179.7 315.5 174.6 312.9 184.2 311.8 191.6 310.7 200.4 308.5 208.3 307.4 214.8 305.7 219.8 304.9 223.9 302 228.4 300.4 237.6 300.4 242.5 298.4 248.6 296.4 244.8 295 242.5 293.7 241 291.6 234 289.8 227.5 288.5 227.6 286.9 218.1 285.7 221.9 285.4 220.7 283.5 219.5 281.1 218.2 279.8 220.6 279.2 218.7 276.2 223.8 275.8 227.4 274.8 235.4 273.2 244.4 270.5 240.7 268.9 236.1 268.8 226.8 266.1 221.9 265.2 217.9 263 216.2 261.2 215.3 261 216.8 259.4 224 257 219.4 256.4 214.1 255 211.4 253.2 207.8 251.5 201.5 250.3 202.1 248.2 204.4 247.9 208.1 245.7 219 243.7 222.8 243.4 226.1 241.6 225.3 240.1 225 238.3 242.7 237.2 247.3 235.2 242.3 233.5 239 231.6 234.8 230.2 234.9 228.3 233.5 227.6 237.5 225.4 241.5 225.4 243.7 223.5 238.1 221.4 234.3 220.5 235 218.5 236.1 217 242.2 216.4 239.1 213.6 232.7 212.5 223.4 211.8 221.8 209.3 221.1 207.9 218.6 206.9 220.1 204.6 221.6 203 223.8 201.3 226.4 200.6 224.3 199 232.7 197.6 234 196.9 233.5 193.9 232.5 192.5 229.3 191.7 221.9 190.1 220.7 187.7 226 187.4 229.6 185.6 234.9 183.9 233.5 182.5 239.3 180.3 246.6 179.2 244.3 178.7 237.1 176.1 237.1 175.2 234.3 173.1 238.8 171.9 236.3 170.5 239.5 168.9 239.4 167.8 237.5 166.6 237 164 237.5 162.4 236.6 161.4 239.9 160.9 242.6 159.1 248.6 157.1 245 155.6 247.6 153.7 247.1 153 250 151.4 253.3 149.1 250 147.4 247.2 146.9 243.8 144.7 236.9 142.7 236.8 141.7 237.8 141.4 236.3 139.8 247.3 138.1 247.1 135.3 250.3 135 243.6 132.7 241 132.2 236.6 129.6 233.5 128.7 235.4 126.8 236.6 125.8 234.8 124.6 238 123.4 233.8 121.6 233.9 119 228.4 117.2 223.8 117 215.6Z" style="fill:#1f77b4;stroke:#1f77b4;stroke-width:5.50;stroke-linejoin:round"/><path d="M115.8 177.3h0m0 41.3h0m.7 4.1h0m.4-39.5h0m.1 42.1h0m.2-39.8h0m.1 41.7h0m.3-.5h0m0-40.6h0m.1-2.8h0m.3 41.6h0m.6-36.9h0m.6-14.4h0m.1 7.3h0m0 51.2h0m.4-47.6h0m.2 57.5h0m.2-59.2h0m.2 5.4h0m.6-.6h0m.1 50.9h0m.1-2.3h0m.2 8.4h0m.8-3.8h0m.4-52.2h0m.1 5.3h0m0-.4h0m.7 48.9h0m.3-56.8h0m.2 3.8h0m.2-2.5h0m.1 56.3h0m.4 5.5h0m.3-58h0m.1-10.3h0m.2 57.2h0m.1-60h0m.5 61.5h0m.3 13.1h0m.4-88.1h0m.2 20.5h0m.1 55.5h0m.2-50.9h0m.1 60.8h0m.1-10h0m.3 15.2h0m.3-66.8h0m.1 47.8h0m.8-57.9h0m.3 59.2h0m.4-52.1h0m.2-12.8h0m.4 3.6h0m.3 61.5h0m0-1h0m.4-52.9h0m.1-.1h0m.4 59.1h0m0-54h0m.5 57.4h0m.2-53.2h0m0-1.1h0m.4 58.9h0m.4-10.1h0m.4-47.1h0m.3 7.7h0m.3-1.5h0m.2 44.1h0m.8-40h0m.3 42.5h0m.2 5.8h0m0-50h0m.1 43.7h0m0-48.8h0m.4 66.3h0m0-64.4h0m.1 6.9h0m.5 72.5h0m0-25.8h0m.3 8.7h0m.2-62.1h0m.3 49.5h0m0-48.6h0m.2 3.3h0m.6 44.6h0m.5-45.4h0m.1 52.7h0m.1-3.6h0m.2-2.7h0m.1-54.4h0m.4 2.3h0m.9 45.1h0m.1-58.4h0m.1 2.2h0m.4-9.1h0m.6 73.2h0m.5-60.4h0m0 .2h0m.4-2.9h0m.1 55h0m.4 3.9h0m.2-7.9h0m0-52.6h0m.3 60.6h0m.4-50.6h0m0 42.6h0m.4-42.8h0m1 4.7h0m.3-8.9h0m.3 53.1h0m.1-55h0m0 53.4h0m0 4.8h0m.5-43.4h0m.4 55.2h0m.1-56.2h0m.1 4.3h0m.3 44.5h0m.1-6h0m.5 10.3h0m0-54.5h0m.2 51h0m.4-46h0m0 .9h0m.2 43.4h0m.4 1.6h0m.9 1.8h0m0-36.6h0m.2 1.4h0m.2 38.5h0m.4 1.2h0m.2-40.7h0m.2 47.6h0m.3-40h0m.1-5h0m.2 38.4h0m.9-38h0m.2 38.4h0m.3-8.1h0m0-26.4h0m.2 27.3h0m.3-2h0m.2-1h0m.3-25.9h0m.2 24.7h0m0-23.6h0m.4-5h0m.6 33.5h0m0-38.3h0m.5-6.6h0m.3 46.7h0m0-37.7h0m.3 41h0m0-49.7h0m.5 .4h0m.2 .9h0m.1 38.9h0m.7 9.8h0m.3-6.4h0m0 10.6h0m.5-65.4h0m.2 56.4h0m.3-47.5h0m0-2.2h0m.7 47.8h0m.1-6.1h0m.1-49.9h0m.2-4.3h0m0 55.7h0m.1-51.4h0m.1 3.6h0m.9-1.6h0m.6 4.5h0m.2 51.3h0m.1-4.2h0m0-75h0m0 5.1h0m.6 12h0m.1 5h0m.1 46.6h0m.1-37.9h0m0 33.3h0m.2-36.5h0m.6 38.1h0m.3-40.3h0m0-5.3h0m.4 46.7h0m0 9.4h0m.3-51.6h0m.7 41.4h0m.2-39.2h0m.6 2.8h0m.2 42h0m.6-49.6h0m.1 1h0m.3 41.6h0m.1 7h0m.2-48.7h0m.3 43.7h0m.2-.3h0m.2-1.1h0m.2-42.6h0m.4 42.3h0m.1-35.8h0m.8 44.9h0m.1-5.9h0m.2-43.1h0m.1 56.2h0m.5-53.3h0m.2-7.3h0m.2 2.7h0m0 61h0m0 2.7h0m.1-67.8h0m0 47.6h0m0 12.9h0m1.1-61.8h0m.2 46.7h0m.4-57.9h0m.3-7.1h0m.4 73.7h0m.2 1.3h0m.1-60.6h0m.1-7.1h0m.1 61.2h0m.5-2.9h0m.4-51.3h0m.1-6.6h0m.5 55.7h0m.1-47.2h0m.6 5h0m.6 43.2h0m.1-47.1h0m.1 63.4h0m0-8.1h0m.5-6.6h0m0-45.6h0m.6 2.1h0m.1-14.1h0m.4 68.8h0m0-54.8h0m.5 56.4h0m.1-64.5h0m.6 68.7h0m.2-2.5h0m.1-73.7h0m.3 70.1h0m0-66.7h0m.3-9.3h0m.2 85.8h0m.7-2.4h0m.1 5.1h0m.2-110.5h0m.6-.9h0m.3 106.9h0m.2-114.4h0m.1 3.5h0m.1 95.6h0m.5-94.9h0m0-9.5h0m.2 98.8h0m.4 6.2h0m.4-.5h0m.3-9.4h0m.7 .5h0m0-90.3h0m0 2h0m.5 87.3h0m.4-84.8h0m.4 97h0m.2-96h0m.2 96.8h0m.3-15h0m.6-70.5h0m.1 68.1h0m.3-64.4h0m.2-8.8h0m.5 70.3h0m.4 1.5h0m.1-54.4h0m.5-5.8h0m.5 10.6h0m.2-2.7h0m0 54.5h0m0-63.7h0m.7 69.6h0m0-5.6h0m.5 6.5h0m.4-5.5h0m.2 9.8h0m.1-64h0m.4-.1h0m0 56.9h0m.7 .3h0m.1-53.8h0m.1 6.6h0m.4-11.2h0m.4 69.7h0m.2-6.6h0m.2-48.4h0m0 52.5h0m.1 8.3h0m.3-74.4h0m.1 77.1h0m.7-70.5h0m.3 51.4h0m0-51h0m.1 3.7h0m.6 47.4h0m.4-49.8h0m.6 49.2h0m0-46.3h0m.3-1h0m0 49.7h0m.3 4.4h0m.7-10.5h0m.1-50h0m.2 .4h0m.1 51.2h0m.3-49.2h0m.6-9.4h0m.3 56.3h0m.1-55.9h0m0-8.7h0m.1-6.9h0m.1 78.9h0m.3 4.7h0m.2-13.5h0m0-60.5h0m.5 55.5h0m.4-53.1h0m.1 1.2h0m.6 59.6h0m0-53h0m.1 2.6h0m.9 40.9h0m.3-45.2h0m.6 49.7h0m.3-51h0m.2 3.7h0m.2 44.9h0m.1 4.9h0m.6-48.3h0m.3-4h0m.1 44.7h0m0-43.1h0m0 51.1h0m.9-57.4h0m.6 56.1h0m.2 4.4h0m.3-52.6h0m0 .8h0m.8-9.3h0m.1 55.3h0m.2-3.3h0m.1 1.8h0m.4-44.5h0m.2 .1h0m.1-1h0m.4-19.8h0m0 2.8h0m0 73.8h0m.3-3.6h0m.2-52.5h0m.8 69.5h0m.1-70.5h0m.7 6.2h0m0 58.4h0m.1-60.3h0m.3 .7h0m.3 59.8h0m.3-3.4h0m.3-60.8h0m.3 .8h0m.4 77.8h0m.3-70.9h0m.7-9h0m.1 68.2h0m0-3.7h0m.2 9.7h0m0-68.6h0m.3 65.9h0m.3-66.4h0m.1-15h0m.1 74.8h0m1.1 6.9h0m.2-67.2h0m.3-38.1h0m0 4.9h0m0 10.9h0m.2 14.2h0m.4 61.9h0m.5 9.4h0m.1-67.7h0m.2-10h0m.1 14.2h0m.3 55.8h0m.3 12.8h0m.4-5.5h0m.2-62h0m.4 2h0m0 63.8h0m.5-62.2h0m.3 7.3h0m.2 58.3h0m.1-55.4h0m0 47.5h0m0-52.3h0m.9 57.3h0m0 9.2h0m.2-64.3h0m.2 4.4h0m0-2.6h0m.1 55.7h0m.4 1.8h0m.7-65.5h0m.2 53h0m.3-51.6h0m.2 54.6h0m.1-52.8h0m.4 50.4h0m.6-4.2h0m.4-40.5h0m.4 2.5h0m.1 37.7h0m.2 4.9h0m.2-49.2h0m.2 51.2h0m.5-3.8h0m.3-42.8h0m.3 1.2h0m.2 42h0m.1-40.7h0m.9 44.7h0m.2-5.7h0m.2-39.8h0m.5-9.2h0m.4 49.6h0m.4 6.4h0m.4-50.9h0m0 46.1h0m.5-44.5h0m0 57.5h0m.2-12.6h0m.4-43.8h0m.2 2.9h0m0 55.1h0m1.2-5.8h0m.2-52.4h0m0 1.6h0m.1 61h0m.5-13.4h0m.3-47.7h0m.3-12.2h0m.1 10.7h0m.1 50.3h0m0-1.2h0m.8-60.9h0m.2 47.5h0m.1-46.9h0m.3-1.8h0m.1 47.8h0m.2-54.3h0m.1 49.8h0m.3 .1h0m.4-42.1h0m.4 42.7h0m.2-57.5h0m.3 54.6h0m.1-59.4h0m0 8.1h0m0 1.2h0m.5 57.4h0m.6-68.2h0m.1 75.5h0m.4-69h0m.6 1.7h0m.3 55.8h0m.2-54.9h0m.1 45.6h0m.2-44.8h0m1.1 47.8h0m0-55h0m.1-7.1h0m0 2h0m1.3 48.1h0m.1-1.9h0m0-36.6h0m.3 39.9h0m.3-4.3h0m.1-39.5h0m.3 37.6h0m.6 .6h0m.7-47.8h0m.3 48.9h0m.3-47.8h0m.8 47.4h0m.1-41.7h0m.1-6.2h0m.4 49.7h0m.2-51.2h0m.5 7.2h0m.2 4.1h0m0 38.8h0m.6 2.7h0m.1 4.4h0m.1-2.7h0m.1-38.5h0m.8 38.8h0m.6-38h0m.3 47.9h0m.1-2.2h0m.2-48.4h0m0 4h0m.1-3.2h0m1.2 52.6h0m.5-.4h0m.2-43.1h0m.2-10.8h0m.2 9.5h0m0 .8h0m.1-.4h0m.4 47.1h0m.3-49.6h0m0 47.9h0m.1 3h0m.3 8h0m0 2.7h0m.3-56.8h0m.2 37h0m.4 .4h0m.5-37.4h0m.3-.6h0m.1 34.2h0m.3-35.3h0m0 32.5h0m.1 1.5h0m.1-36.3h0m.3 2.3h0m.8 2.1h0m.2 40.9h0m1-40.9h0m.1 32.4h0m.3 10.1h0m.1-8.7h0m.1-32.8h0m.2-.3h0m.4 43.2h0m.7-45.4h0m.4 41.3h0m.1-.4h0m.2 4.6h0m.3-39.4h0m.5 4h0m0-9.8h0m.3 50.1h0m.1 6.3h0m.3-48h0m.7-5.3h0m.2 59.4h0m.1-.6h0m.2-3.7h0m.2-46.9h0m1.1 .8h0m.1 55.2h0m.4 2.4h0m.4-4.6h0m.2-61.6h0m0 70.8h0m0-6.6h0m.3-59.3h0m.2 55.2h0m.1 19.6h0m0 4.1h0m0 4.1h0m.2-85.1h0m.5-.8h0m.1 55.4h0m.4-55.1h0m.2-15.1h0m0 68.7h0m0-53.9h0m.2 55.1h0m.4-55.6h0m.2 53.3h0m.7-51.9h0m0 41.2h0m.5-1.1h0m.5-49.5h0m.1 4.6h0m.1 45h0m.3-5.8h0m.2-41.6h0m.2 51.6h0m1.1-10.3h0m0-.7h0m.2-33.6h0m.3-2.1h0m.3 37h0m.9-36.9h0m.1-.1h0m.1 39.8h0m.1 .7h0m.3-42.8h0m.2 2.3h0m.8 34h0m0-40h0m.3 41.6h0m.1-46.2h0m.4 50.7h0m.1-34.7h0m.8 32.8h0m.1-30.7h0m.1 35.1h0m.1-38.1h0m.2 35.3h0m.3-30.3h0m.1 1.6h0m.6 25.2h0m.3 1.2h0m.4-25.6h0m.1 29.3h0m.4-1.4h0m.1 20.5h0m.4-51.5h0m0 51.9h0m.4-52.1h0m.6 34.1h0m0 3.8h0m0-33.7h0m0 1.5h0m.4 28.9h0m.5-36.4h0m.2 41.2h0m.3-5h0m.2-35.6h0m.5 6.9h0m.4 .6h0m.5-7.9h0m.1 42.1h0m0-3h0m.6 3h0m.1-36h0m.2 37.3h0m.3-38.4h0m.1 54.4h0m.1-55.9h0m0 40.9h0m1.1 11.8h0m.2-58.4h0m0-4.8h0m.2 57.7h0m.1-.4h0m.2-48.8h0m.4-7.3h0m.4 57.5h0m0 3.4h0m.1 .9h0m.1-56.3h0m0 8.3h0m1.1 3.7h0m.2 43.4h0m.8 1h0m.1-49.9h0m.2 3.5h0m.3-6.6h0m.4 52.8h0m.2 .4h0m0-46.4h0m.3 56.4h0m.1-7.8h0m.5-45.3h0m0 38.2h0m1-40.2h0m.3 39.9h0m.1-41h0m.1-.1h0m.2 34.1h0m.3 3.2h0m.1-38.7h0m0 34.9h0m1.3-33.8h0m.4 26.8h0m.2-36.3h0m0 36.6h0m.6-33.1h0m.1 4.1h0m.2 25.3h0m.4 5.1h0m0-30.1h0m.1 26.5h0m1 2.3h0m0-8.6h0m.3-32.3h0m.3 41.7h0m.2-39.3h0m.1-5.2h0m.4 40.2h0m0-37.2h0m.1 31.5h0m.2 .9h0m.5-32h0m1-15.9h0m0 3.7h0m.1 32.2h0m.6-30.9h0m0 37.3h0m.2-49.1h0m.1 35.4h0m.6-.1h0m0-37.9h0m.1 3.5h0m.1 34.6h0m.8-52h0m.4-1.8h0m.1 47.3h0m.2-44.6h0m.5 42.7h0m0-.6h0m.4-53.5h0m.1 4.6h0m0 44.4h0m.2-.6h0m.5-48.8h0m.5 46.6h0m.2-41.3h0m.3-.3h0m.2-7.3h0m.2 47.5h0m.3-54.1h0m0 2.1h0m.3 12.1h0m.1-6.9h0m.6 52.7h0m0-4.3h0m.1 3.2h0m.7-43.2h0m0 38.5h0m.2-42.8h0m.1 42.1h0m.6 18.6h0m.7-4.8h0m.1-5.7h0m.1-45.9h0m.2 43.6h0m.5-48.1h0m.1 3.6h0m.2-8.9h0m.3 52.4h0m.7-40.8h0m0 40.1h0m.2 12.7h0m0 5.2h0m0-60.1h0m.1 43.5h0m.8 5.5h0m.6-9.5h0m.1-40.7h0m0-6.3h0m.4 3.4h0m.3 43.8h0m.1-54h0m0 6.4h0m.3 48.3h0m0 6.3h0m0-58h0m1.5 51.5h0m.1-42.3h0m.2 40.7h0m0 1.5h0m.2-49.8h0m1.3 17.4h0m0 37h0m.1-40.3h0m.2 41.7h0m.1 5h0m.4-32.4h0m.4 30.2h0m0-32.7h0m0 3.7h0m.1 29h0m.5-18.9h0m.2-6.3h0m.9 36.4h0m.2-31.7h0m.2 28.3h0m.1 3.8h0m.4-32.5h0m0 36.7h0m.3-4.5h0m.2-26.7h0m.5 34.7h0m.3-36.3h0m0 3.1h0m0 28.6h0m.8 4.1h0m.3-36.7h0m.2 36.3h0m.2-30.2h0m.2 33.8h0m.5-38.8h0m.2 35h0m.5 3.6h0m0 0h0m.1-36.7h0m.1 5.5h0m.3 33h0m.1-35.1h0m.7 38.6h0m.6-38.1h0m.1 37.8h0m.2-45.4h0m.4-3.5h0m.1 51.3h0m.2-39.3h0m.2-4.5h0m0 44.1h0m.1 3.6h0m.2-55.4h0m.2 8.4h0m.6 53h0m1-56.1h0m0 51.1h0m.3-.2h0m.1-46.6h0m.1-4.1h0m.3 10.3h0m.4 1.1h0m.6 57.5h0m.1 3.9h0m.1-2.7h0m.5-54.7h0m.5 80.9h0m.2-1.9h0m0 3.6h0m.1-80.4h0m0 101.5h0m0 6.2h0m.1-106.2h0m.3 20.5h0m.3-2.5h0m.6-6.5h0m.1 81.7h0m.4-67.4h0m1 58.7h0m.2 1.6h0m0-1.8h0m.2-65.9h0m.1 58.4h0m0-61.5h0m.6 4.7h0m.9 49.2h0m.2-1.2h0m.6-7.5h0m.3-41.3h0m.2 2.8h0m.1 40.5h0m.3 9.7h0m.1-48.4h0m.1-5.1h0m.7 7.1h0m.2 36.6h0m0 3.6h0m.5 9.2h0m.1-56.8h0m.6 47.5h0m.3 6h0m.2-42.2h0m.3 43.2h0m.5-3.4h0m.1-42.2h0m.2-3.6h0m.1 54.3h0m.2-49.7h0m.2-4.2h0m.5 54.9h0m.1 9.9h0m.2-64h0m.2-15.7h0m0 76.1h0m.4-67.1h0m0 75.6h0m.6-64.1h0m.3 55.4h0m.2-60.3h0m.1 65.6h0m.2-5.5h0m.1-50.5h0m.7-5.7h0m.2 58.9h0m0-2.3h0m.4 2.2h0m.2 6.3h0m.4-14.2h0m.2-2.8h0m0-1.1h0m.4-43.2h0m.1 2.8h0m.5-12.8h0m.6 49h0m.3-49.8h0m.1 47.7h0m.5-42.5h0m.4-5.8h0m.6 39.5h0m.3-3.3h0m.4 3.6h0m.3-41.5h0m.4 6.7h0m.1 29.9h0m1.2-5.4h0m.1-.3h0m.1-27.6h0m.1-1.7h0m0-5.7h0m.4 32.3h0m.1-36.6h0m.1 35.1h0m.4-27.3h0m.4 0h0m0 20.4h0m.2 2.4h0m1.1-27.9h0m.1 22.3h0m.3 3.6h0m0-24.5h0m.4 26.3h0m.3-28.2h0m.3-6.5h0m.2 26.9h0m.5-21.8h0m.4-8.7h0m.1 3.8h0m.4 32.3h0m.3-5h0m0-24.6h0m.3 1h0m.4 1.8h0m.1-7.3h0m.1 38.1h0m.3-31.4h0m.1 25.2h0m.1-2.1h0m.7-21.2h0m1 31.3h0m0-34.7h0m0 34.4h0m0-34.4h0m.3 52h0m.3-4.1h0m.6 6.6h0m.2-53.8h0m.3 9.5h0m.2 4.3h0m.2 51.5h0m.1-59.2h0m.1 55.5h0m0 3.4h0m1 6.6h0m.2-54.2h0m.2 46h0m.5-1.2h0m0-48.7h0m.2 49.2h0m.2-51.9h0m.5 48.9h0m.1-56.6h0m.1 4h0m0 7h0m0 75.2h0m.3-33.3h0m.6 6.1h0m.5-19.6h0m.2-32.4h0m.1-10.9h0m0 47h0m.7-42.5h0m.3-2.9h0m.2 6.5h0m.2 25.2h0m.2 .1h0m.7-3.4h0m.3-25.2h0m0 28.2h0m.8 5.9h0m.1-33.5h0m.9 40.7h0m.1-44.6h0m.1 4.6h0m.4 1h0m.2 35.4h0m.2 10.9h0m.3-49.2h0m.5 2.5h0m.1 49.9h0m0-61.7h0m.2 54.7h0m.4-56.5h0m.5 63.1h0m0 .4h0m.2-.3h0m0-61.7h0m.2-4.4h0m.6 88.6h0m.1-83.8h0m.1-10.3h0m.3 83.2h0m.1-69.3h0m.6-5.6h0m.2 80.6h0m.3-78.5h0m.1 83.8h0m.7-81.7h0m.4 81.7h0m.5 5.5h0m.1 1.9h0m.4-1.9h0m0 6.4h0m0 2.8h0m.2-94h0m.2-7.2h0m.3 6.9h0m.1-5.9h0m.1 13.4h0m0 72.1h0m.9-2.8h0m.8-15.4h0m.1-52.3h0m.2 57.2h0m.2-56h0m.1 59h0m.1-62.8h0m.5-5h0m.2 8.3h0m.1-8.3h0m.3 44.1h0m.4 .7h0m.3-48h0m.1 52.4h0m.1-4.2h0m.1-35.9h0m.6 35h0m.6 .1h0m.2-40.6h0m.1 36.1h0m.9-33.6h0m.6 27.6h0m.2-29.4h0m.2 3.7h0m.1 21.2h0m.6 2.8h0m.2-6.1h0m.4-21.1h0m.1 1.4h0m.1 19.9h0m1.1-18.8h0m.2 23.7h0m.3-21.9h0m.1 21.8h0m.3-22.2h0m.3 41.1h0m.1-37.4h0m.3 35.2h0m0-43.2h0m.6 42.2h0m0-37.1h0m.7-4.2h0m.4 53.3h0m.1-1.5h0m.1-43.2h0m.2 70.7h0m.2-71h0m.1 42.8h0m.4-44.9h0m.3 1.3h0m.2 48.2h0m0 4.9h0m.2-56.5h0m.3 63.2h0m.1-12.8h0m.3 3.7h0m.2 7.6h0m.4-59.8h0m.1-12.5h0m.8 69.3h0m.1-56.8h0m.3-.7h0m.1 91.4h0m0 5.7h0m0 8.6h0m.5-51.2h0m.1-57.8h0m.2 55.6h0m0-53.3h0m.3 44.1h0m.4-45.4h0m.7 53.9h0m.1-55.8h0m.4-3.7h0m0 52.6h0m0-6.2h0m.1-46h0m.2-2h0m.8 43.6h0m.2-41h0m.8 .1h0m.3-5.6h0m.1 55h0m0-9h0m.2-1.3h0m.1-43h0m.2 44.7h0m.3-42h0m.4-10.4h0m.4 67.8h0m.3-19.2h0m.8-42.1h0m.1 48.1h0m0-45.6h0m.3 45.2h0m.1-2.7h0m.2 5.5h0m0-57.3h0m.2 53h0m.3-60h0m.9 59.1h0m.2-56.7h0m.2 5.5h0m.2 .9h0m.6 56.7h0m.1-1.4h0m.2-62.8h0m.3 48.7h0m0-1h0m0 9.5h0m.1 14.5h0m.5-65.4h0m.6-8.2h0m.2 42.8h0m.4 2.7h0m.3-44.5h0m.3 42.1h0m.1-42h0m.3-2.9h0m0 38.4h0m0 3.1h0m0-37.9h0m.7-3.2h0m.3 41.4h0m.2-12.6h0m.3 4.1h0m.6-33.3h0m.4 2.6h0m.5-3.6h0m.1-2.7h0m.1 39.5h0m.1-4.1h0m.5-35.8h0m.3 35.8h0m.4 9.3h0m.1-40.1h0m.4 35.8h0m.1-43.1h0m.4 41.2h0m.2-32.6h0m.2-2.6h0m.1 45.9h0m.4-45h0m.3-7.3h0m.3 46.3h0m.4 4h0m.4 6.1h0m.2-48.2h0m0 38.8h0m.6-42h0m.5-3h0m.1 53.2h0m.4 4.7h0m.5-49.9h0m.1-14.4h0m0 56.7h0m0-50.4h0m.2 54.2h0m.1-54.5h0m1 67.9h0m.1-9.4h0m.2-70.1h0m.1 70.7h0m.1 11.8h0m.1-6.3h0m.6 11.9h0m0-85.6h0m0-2.2h0m1.2 75.5h0m.3-2.8h0m.4-68.7h0m0 .6h0m.1 70.9h0m0-82.2h0m.5 88.8h0m.1-79.6h0m.4 6h0m.5-.1h0m0 69.5h0m0 11.1h0m.2-3.4h0m.1-75.7h0m.4-8.9h0m.2 13.7h0m1.3 69.4h0m.5 5.8h0m.1-75.9h0m.1 14.1h0m.6 63h0m.4-61.4h0m0-2.7h0m.1 65.7h0m.1-63.2h0m.8-.6h0m.3 73.5h0m.3-75.6h0m0 71.8h0m.3-69.8h0m.3 85h0m0 2.7h0m.7-6.8h0m.1-4.9h0m.1-76.8h0m0 79.9h0m.2-81.7h0m.2-1.4h0m.3 76.1h0m.3-79.6h0m0 84.6h0m.5-93.4h0m.5 79.9h0m.1 7.5h0m0-7h0m.3-83.2h0m.1 7.2h0m.5 4.7h0m.5 4.5h0m.2 61.3h0m.1-66.1h0m.7 60.1h0m0-52.2h0m.3 56.9h0m.2-63.4h0m.1 51.9h0m.1-44.9h0m.7 53.8h0m.3-4.8h0m.6-59.2h0m.4 4.3h0m.7 42.1h0m0 4.2h0m0-40.2h0m.3-1.5h0m.3 33.7h0m.2-41.3h0m.5 43.9h0m.2 2.2h0m.3-42h0m.2 31.5h0m.2 3.7h0m.6-33.4h0m.3 31h0m.1-1.1h0m.5-31.2h0m.3 .8h0m.2 33.3h0m.1-3h0m.6-30.2h0m.3-3.6h0m.5 41.4h0m.2-42.6h0m0 47.7h0m.3-41.3h0m.4 41h0m.6 4.5h0m0-47.3h0m.2 44.3h0m0-40.5h0m1.3-3.5h0m.1 45.7h0m.1-37.3h0m.1-2.7h0m0 36.3h0m.1 4.2h0m.2-39.1h0m.1-2h0m.1 40.4h0m.1 9.1h0m.3-47.7h0m.5 38.4h0m.4-40.1h0m.1 32.9h0m.1-4.5h0m.3-29.4h0m.7-.9h0m.2 1.3h0m.5 28.2h0m.1-3.6h0m.1-23.2h0m.7-1.4h0m.5-2h0m.3 19.7h0m.4-24.9h0m.2 5.1h0m0 22.5h0m.6-20h0m.1-5.2h0m.2 25.5h0m.4-26.1h0m.1 28.2h0m0 .3h0m.4 11.6h0m.2-37.3h0m.3 33.2h0m.2-31h0m.1-2.7h0m.3 33.1h0m.3-29h0m.2-9h0m.3 9.8h0m.1 41.2h0m.1 .8h0m.1-40.4h0m.3 34.2h0m.5 8.8h0m.1-.7h0m.4-38h0m.1-3.5h0m0 40.9h0m.6-40.6h0m.2 42.1h0m.5-35.9h0m.1-1.7h0m0 45.9h0m.2-8.3h0m.2-47.9h0m.4 13.1h0m.1 1.6h0m.3 46.2h0m.3-48.6h0m.7 39.6h0m.1 1h0m.4 4.4h0m.2-44h0m.1-3.7h0m0 47.6h0m.5 .4h0m0-46.5h0m.9 52.5h0m.1-52.4h0m.1 56.2h0m.1-51.4h0m.1 55.8h0m.3-66.3h0m.1 59.1h0m.3-1.5h0m.4 1.1h0m.2-51.5h0m.2 .4h0m.4-7.5h0m.7 34.8h0m.1-35.2h0m.2-2.3h0m0 3.7h0m.2 34.4h0m.2 7.3h0m.2-46.9h0m0 2.2h0m.5 22.8h0m.1-24.2h0m0-5.8h0m.4 30.9h0m.5-21.6h0m.2 16.1h0m.2 .9h0m.3-22h0m.2 21.1h0m.6-17.8h0m.6-1.5h0m.2 4.4h0m.4-4.5h0m.1 19.3h0m0-2.7h0m.1 1.3h0m.1-14h0m.6-.3h0m.1-1.4h0m.4 17.8h0m.4-1.9h0m.1-17h0m0 11.9h0m.6 .8h0m0-.2h0m.1-15h0m.3 .2h0m.5 18.5h0m.2 1.8h0m.9-21h0m0 20.5h0m.2-21.5h0m.1 26.1h0m.2-24.9h0m.2-2.2h0m.5 34h0m0-8.2h0m.8-26.7h0m0 .2h0m.1-1h0m.5 30.2h0m.2 8.9h0m.3-5.1h0m.6-3.9h0m.3-.7h0m.2 3.6h0m0-53h0m0 8h0m0 2.4h0m.1 9h0m.4-4.9h0m.1 30h0m.5 .8h0m0-23.9h0m.4-2.4h0m.2 26.7h0m.5 .7h0m.1-24h0m.2 .9h0m.1-7.3h0m.2 32h0m.6 1.7h0m.3-.4h0m.1 2.1h0m.3-26.9h0m.1 24.6h0m.1-27.6h0m.8-.3h0m.2 5.5h0m.2 25.5h0m.1-27.7h0m0 28.2h0m.1 4.7h0m.8-35.2h0m.3 40.3h0m.1-36.4h0m.2 1.7h0m.1 0h0m.5 31.5h0m.2 5.5h0m.7-47.2h0m.1 46h0m.1-37.2h0m.2 38.5h0m0-1.2h0m.2-40.9h0m0-8.3h0m0 59h0m0 7.2h0m0 8.8h0m.5-65.4h0m.5 42.2h0m.5-42.2h0m.3 41.3h0m0-38.3h0m.1 33h0m.6-33.9h0m.4-7h0m.1 46.9h0m.2-4.6h0m.7-7.4h0m.1 7.7h0m.2-6.2h0m.4-29.8h0m.2 2.1h0m0-6.7h0m.5 4.3h0m0 28.6h0m.4-34h0m.2 34.8h0m.4 .6h0m.5-4h0m.6-22.8h0m.2 29.7h0m0-7.4h0m.1-24.4h0m.3 27h0m.2-32.9h0m.5 32.5h0m0-25.6h0m1.2-1.4h0m0-3.8h0m.1 36.5h0m.2-40.1h0m.1 32.5h0m.7 6.4h0m.6-8.6h0m.1-30.6h0m.2 34h0m.3-29.4h0m.1-3.6h0m.1 29.6h0m.6 8.1h0m.1-43.8h0m.5 .7h0m.7 44h0m.2-47.8h0m.3 5.4h0m.1 43.1h0m.3-3.9h0m.2 6.3h0m0-53h0m.2 49.8h0m.3-4.8h0m0-40.5h0m.1 39.4h0m.3-45.3h0m.6 5h0m.1 41.4h0m0 14.4h0m.4-61.9h0m.1 51.8h0m.6-49.1h0m.4 41.8h0m.4-47.5h0m.3 47.8h0m.4-42.7h0m.3 35.7h0m.3-36.2h0m.3-2.9h0m.4 40.9h0m.2-47.7h0m0 49.3h0m.4-49.8h0m.2 55.6h0m0-51.4h0m.2 7.1h0m.5 38.9h0m.1-38.5h0m.3 36.8h0m.4-37.5h0m.1 42.5h0m.3-49.3h0m.1 5.5h0m.3 46.1h0m.3-7.6h0m.3 12.5h0m.1-16.5h0m.5-30.4h0m.1 34.4h0m.2-41.7h0m0 2.9h0m0 39.2h0m.8-42.4h0m.6 9.3h0m.2 29.4h0m.1-30.2h0m0 30.9h0m.5 .1h0m.1-1.7h0m.2 1h0m.3-33.9h0m.1 2h0m0-1h0m.6 36.9h0m.5-35.6h0m.2 2.5h0m0 41.7h0m.2-9.8h0m.2 2h0m.1-36.1h0m.3 30.9h0m1.1-35.3h0m0 32h0m0-35.2h0m.3 40.2h0m0-38h0m.4 6.9h0m.3 .2h0m.1-6.5h0m.3 34.5h0m.2-.7h0m.3-27.7h0m.2 25.5h0m0 4.5h0m0-32h0m.1-36.7h0m0 17.2h0m0 45.3h0m.6-31.1h0m.5-1.6h0m.2 31.1h0m.4-.6h0m.2-22.1h0m.2 22.8h0m.2-22.9h0m.2-2.2h0m.6 25.1h0m.1-2.2h0m.1 2.5h0m.5-27h0m.1 2.9h0m.3 2.1h0m0 18.5h0m0 1.8h0m.6-22.9h0m.3 48.7h0m0 5.1h0m.3-30.7h0m.5-2.5h0m.2-18.4h0m.1-22.1h0m0 2.5h0m0 37.1h0m.3-18.3h0m.5 22.3h0m.1-6h0m.4-17.1h0m.2-.6h0m.1 17.6h0m.4-15.6h0m.2 19.4h0m.4-2.1h0m.5-20h0m0 15.2h0m.1 2.1h0m.1-18.9h0m.7 15.8h0m.4-12.2h0m.4 13.7h0m.5-15.3h0m.1-2.3h0m.1 25.7h0m.3-3.4h0m0-21.4h0m.6-1.4h0m.3 2.3h0m.2 21.3h0m.2 10.1h0m.1-5.3h0m.1-.3h0m.6-25.4h0m.1 1.1h0m.1 .3h0m.4 19.9h0m.5-16.1h0m.8 21.9h0m0-23h0m.5-.4h0m.1 16.6h0m.1-18.5h0m.1 .4h0m.1 24.9h0m1.2-2.3h0m0-20.6h0m.1 18.2h0m.6-17.9h0m.5 17.6h0m0-16.1h0m.2 20.9h0m.2-20.9h0m.9-.2h0m.2 17.3h0m.3 7.9h0m0 4.4h0m.3-32h0m.1 24.6h0m.5-21.9h0m0-1.9h0m.3 20.2h0m.1-19.2h0m.6 18.5h0m.2-18.2h0m.6-3.7h0m.8-2.3h0m0 21.2h0m0-17.4h0m0 18.9h0m.6-1.9h0m0 3.4h0m.4-22.8h0m.3 2.9h0m0-3.2h0m.2 22.5h0m.6-8.8h0m.7-16.4h0m.1 1.4h0m.5 17.5h0m.3-20.4h0m.1 17.3h0m.5-22.1h0m.1 24.9h0m.1-2.3h0m.3-16.9h0m.7-5.5h0m.2 24.4h0m.1-27.1h0m.1 27.6h0m0-.9h0m.4-21.5h0m.9-6.7h0m0 30.2h0m.1-27.6h0m.3 29.7h0m.5-32.8h0m.1 27.8h0m.3 5.1h0m.1-33.1h0m.9-1.4h0m.7-6.3h0m.3 34.3h0m.2-27.2h0m0-.1h0m.1 27.9h0m.1-31.5h0m.4 42.3h0m.1-3.5h0m.4-35.4h0m.1 3.7h0m.1 25.8h0m.2 1.8h0m.3-26.4h0m.3 26.6h0m.5-26.2h0m.3 25.8h0m.1-25h0m.3 23.6h0m.1-27.2h0m.3 30.5h0m0-22.4h0m.2 0h0m.1 22.7h0m.5 2.9h0m.2 2.7h0m0 3.7h0m0 4.5h0m0 5.2h0m.1-41.3h0m.6 22.7h0m.2-25.3h0m.2 26.7h0m.5-4.9h0m.3-21.1h0m.3 21.4h0m0-18.5h0m1 1.1h0m.3 .4h0m.2 16.6h0m.9-2h0m.4-15h0m.1 .4h0m.1 17.2h0m.1-.5h0m1.3-4.5h0m.1 1.5h0m0-15.5h0m.2-.7h0m.5 2.3h0m.2 14.7h0m.5-20.1h0m.2 17.1h0m.2 5.8h0m.3-20.9h0m.4 16.2h0m.4 5.9h0m.7-21.8h0m0 .2h0m.4 17h0m.4-22.2h0m.1-2.8h0m.2 3.4h0m.4 1.2h0m.3 21.3h0m.4 1.2h0m.6-19.9h0m0-2.4h0m.1 2.5h0m0 24.4h0m.4-6h0m.1 1.9h0m.1-1.1h0m.5-18.4h0m0 .8h0m.1-2.4h0m1 20.7h0m.6-16.4h0m.1 .1h0m.4 15.9h0m.3 2.3h0m.6-18.2h0m.1 18h0m.2-19.4h0m.1 18.2h0m.1-18.6h0m.5-19.6h0m0 4.7h0m0 15.3h0m.1 19.8h0m.1 6.5h0m.1-24h0m.3 19.2h0m.3-26.5h0m.7 5.3h0m.4 21.3h0m0-19.3h0m0 25.1h0m.3-6.8h0m1.1-22.1h0m0 18.5h0m.1 5.1h0m0-21.1h0m.1 18.6h0m.1-18.3h0m.5 19.7h0m.4-19.8h0m.5 16.6h0m.3-15.9h0m.4 13.6h0m.4-12.3h0m.1 13.6h0m.5-.1h0m.3-13.9h0m.1 .9h0m.2 13.8h0m.1-14.9h0m.3 17.2h0m.3-19.3h0m.1 22.4h0m0 8.5h0m0-12.5h0m.8-1h0m.3-16.4h0m.2-1.9h0m.1 17.5h0m0-19.8h0m.6 .2h0m.2 2h0m.1 12.7h0m0 3.1h0m1-15.2h0m.5 15h0m.6-18h0m0 18.7h0m.3-1h0m.2-18h0m.3-5.4h0m.4 1.3h0m.2 22h0m.3 7.1h0m.2-3.7h0m0-23.4h0m.7 18.9h0m.3-25h0m.3 21.6h0m.1 5.6h0m0-25.9h0m.7 16.9h0m.7-20.9h0m0 5.9h0m.1 15.3h0m.6 1.7h0m.2-5.8h0m.4-12.1h0m0-2.8h0m.1-2.2h0m.7 17.3h0m.2 1.6h0m.2-17h0m.1 1h0m.7-.1h0m.1 15.9h0m.3-2.2h0m0-15.4h0m.2 18.8h0m.4-16.9h0m.7 12.2h0m0 3.2h0m.4-21.9h0m.1 5.4h0m.4-4.9h0m.8 3.8h0m.2 16.7h0m.4-20.1h0m.1 21.2h0m0-20.1h0m.9-22.3h0m0 4.5h0m.3 35.6h0m.1-.5h0m.2 2.6h0m.2-25.1h0m.1 3h0m.1-19.9h0m0 5.1h0m.1 18.3h0m.2-.7h0m0 .5h0m.6 15.4h0m.4-15.3h0m.1 15.5h0m0 1.1h0m.3 2.7h0m.7-21.5h0m.1 19.7h0m.5-18.6h0m0 19.4h0m.1 1.4h0m.1-.3h0m0-15h0m.2-2.5h0m.5-2.1h0m.9 25.2h0m.2-3.4h0m.2 5.6h0m.4-22.9h0m.1-4.4h0m.3 22.7h0m.2-4.4h0m.4-14.7h0m.2 20.5h0m.2-1.7h0m.2-25.2h0m.8 20.8h0m.2-15.3h0m.2 15.3h0m0-15.6h0m.3-.7h0m.6-6.8h0m.4 21h0m.1-15.2h0m.1-29.4h0m0 6.1h0m0 3.5h0m0 19.6h0m.3 17.4h0m.4 2.6h0m.1-.8h0m0-21h0m.3-1.1h0m.8 20.3h0m.3-.9h0m.1 5.3h0m.3 .4h0m.1-3.5h0m.4-15.3h0m.4-4.3h0m.5 25.2h0m0-3h0m.1 4.5h0m0 4.8h0m0 4.5h0m.6-30.3h0m.2-1.6h0m.2 18.5h0m.2-5.2h0m.1 3.1h0m.2-15.4h0m.2-.6h0m.7 .2h0m.3 12.2h0m.3-13.7h0m.1 0h0m.3 0h0m.1 12.9h0m.5 1.2h0m.2-16.3h0m.4 14.2h0m.4 .2h0m.5 .7h0m0-16.5h0m.6 14.7h0m.2-20.6h0m.2-2.5h0m.1 25.2h0m.1-20.8h0m.3 19.9h0m.2 2.9h0m.3-40.2h0m0 6.2h0m.3 30.3h0m.4-43.6h0m0 28.3h0m0 15.1h0m.3-17.5h0m.1 24.6h0m0-24.5h0m.1 23.6h0m.6-22.4h0m.3 16.9h0m.1-13.4h0m.7-4h0m.1-1.9h0m.3 1.8h0m.1 16.5h0m.1 .6h0m.6-20.2h0m.3 19.3h0m.4 1h0m.2-20.6h0m.2-4.8h0m0 1.7h0m.4 34.1h0m.8-26.3h0m.2-3.6h0m.4 20.1h0m.1 2h0m.1-15h0m.2 18.1h0m.7-3.2h0m.2-1.3h0m.1-11.8h0m.4-3.1h0m0 21.4h0m0 13h0m.2-15.9h0m.1-20.6h0m.6 16.7h0m.2 6h0m.2-21.3h0m1 19.3h0m.1-19.1h0m0 13.4h0m.2-11.4h0m.2 10.3h0m.1 1.1h0m0-13.5h0m.4-2.9h0m.3 .1h0m.5 16.1h0m.4-24.3h0m.4 24h0m.5-23.8h0m.1 26h0m.3-4.3h0m.1-.8h0m.1-26h0m.3 1.9h0m.3-3h0m.4 33h0m.2-4.4h0m.3-33.2h0m.1 41.5h0m.2-37.2h0m0 1.8h0m.1 31.1h0m0-1h0m1-29h0m0 30.1h0m.1-5.3h0m.1-26.2h0m.6-6.9h0m.3 35.4h0m.7-28.1h0m0 1.2h0m.5 27.7h0m.2-.9h0m.3 1.1h0m.2 1.4h0m0-23h0m.1 24.4h0m.3 3.4h0m.3-5h0m.2-21.7h0m.5 14.4h0m.2-16.5h0m0 19.2h0m.1 .3h0m.3-19.9h0m1.6 16.6h0m.2-17.4h0m.4-1.1h0m0 16.3h0m.1-1.4h0m.8-15h0m.1 12.5h0m.4 2.9h0m.1-16.3h0m0-.6h0m.3 12.9h0m.2-17.7h0m.5 3h0m0 2.1h0m.6 10.9h0m.4-12.1h0m.2-.3h0m0 11.6h0m.5-11.9h0m.1 13.3h0m.7-15h0m.2 12.5h0m.3-10.7h0m.1 10.4h0m.6-10.3h0m.2 12.2h0m.9-13.3h0m0 12.8h0m.1-12.9h0m.1 14.3h0m.3-3.1h0m.7-14.4h0m.3 1.4h0m.1 18.6h0m.1-21.8h0m.2 16.9h0m.2-16.2h0m.1 16.6h0m.8-3h0m0 1.4h0m.4-14.8h0m.3-26.1h0m0 9.8h0m.1 11.8h0m.1 18h0m.3 4h0m.5-21.2h0m.2-.1h0m.2 18.8h0m.1-24.9h0m.8 .1h0m.3 23.5h0m.5-4.9h0m.1-15.7h0m.4 17.1h0m.4-.3h0m.1-19.6h0m.3 20.5h0m.1-19.5h0m.8 .1h0m.2 18.9h0m.1-19.5h0m.1 .8h0m0-6.3h0m.2 27.2h0m.7-27.4h0m.1 29.9h0m1.3-25.1h0m.1-4.7h0m0 28.8h0m.3 0h0m.2-.8h0m0-26.4h0m.2 4h0m.1 32.9h0m.4-3.9h0m.5 9.3h0m0 15.4h0m0 3.7h0m.3-28.7h0m.1-37.6h0m.2 8.7h0m.5 28.3h0m.2-28.1h0m.3 26.9h0m.3-29.7h0m.1-.2h0m.1-13.9h0m0 5.4h0m.2 40.5h0m.4-5.3h0m.3-26h0m.3 28.3h0m.2-24.2h0m0-2.2h0m.5 31.8h0m.3-5.7h0m.7-29.2h0m.3 30.5h0m.1-5.5h0m.1 2.1h0m.6-22.7h0m.2 1.1h0m.1-4.8h0m.2 26.2h0m.3-22.3h0m.1-2.3h0m.1 23.9h0m.1-.9h0m.8 4.3h0m0-31.4h0m.6 2.5h0m.3 24.5h0m0 6.4h0m.7-32.4h0m0 39.2h0m.4-8.8h0m.3-42h0m0 5.4h0m0 38.9h0m.1 1.6h0m.1-31.3h0m.2 35.5h0m0 8.5h0m.7-45h0m.4 1.2h0m.1 28.6h0m0-4.7h0m.3-23.7h0m.1 27.2h0m.3-4.3h0m.7 2.8h0m.1-3.4h0m.1-27.2h0m.3 0h0m.6 27.9h0m.4 1.9h0m.4-27.4h0m0 32.9h0m.1-36.2h0m0-2.5h0m.8 37h0m.1-39.1h0m.2 35.4h0m.1-31h0m.3 44.9h0m.2-48.5h0m.1 32.9h0m.1 11.8h0m0 9.9h0m.4-53.8h0m0 4h0m.3 27.5h0m.7-39.5h0m.2 1.7h0m.5 34.1h0m.6-.6h0m.4-4.4h0m.2-27.4h0m.5-2.2h0m.2 2.5h0m.2 33.3h0m0-6.8h0m0 8.1h0m.2-4.4h0m.5-50.5h0m.4 16.3h0m0-25.9h0m.1 56.3h0m.3-29.8h0m0-4.3h0m.3 36.7h0m.3-23.3h0m.6 24h0m0-24.4h0m.8 26.3h0m.2-21.9h0m0 21h0m.3-24.2h0m.3-2.8h0m.2 31.6h0m.1 1.2h0m.2-2h0m.2 0h0m.4-21.3h0m.1 .9h0m.8 24.4h0m.1-27.7h0m.2 5.4h0m.2-2.5h0m.1 27.1h0m.6 .7h0m.3 .8h0m.3 7.1h0m.1-4.1h0m0-27.4h0m.3-1h0m0-.9h0m.7-9.5h0m.1-4.3h0m.4-39.3h0m.2 84.2h0m.3-48.1h0m.2 44.8h0m.4-72.7h0m0 82.9h0m.6-99.7h0m.4 94.4h0m0-76.9h0m0 6.5h0m0 7.1h0m0 8.2h0m0 9.2h0m0-16.5h0m.1 70h0m0-69.2h0m.1 9.6h0m.2 52h0m.1-54.2h0m.6 60.3h0m.5 11.8h0m0 8.5h0m.2-58.6h0m.6 2h0m.1 34.4h0m.1 3.3h0m1 1.6h0m.2-1.3h0m.1-32.8h0m.4 3.7h0m0 28.8h0m.6 2.6h0m.2-2.3h0m.2 5h0m.5-35.2h0m.1-6h0m.3 43h0m.1-.6h0m.7-29.3h0m.1-5.5h0m.5-.7h0m.3 46.2h0m.8-50.6h0m.1 47.7h0m.1-3.1h0m.2-44.6h0m.1 58.2h0m0 2.7h0m0 14.4h0m0 3h0m0 10.9h0m0 11h0m0-114.6h0m.3 9.6h0m.3 40.2h0m.1 0h0m.3-54.3h0m.4 52.6h0m.2-89.5h0m0 5.1h0m0 8.2h0m0 12h0m0 3.4h0m.1 52.7h0m.2-40.7h0m.1 37.6h0m.9-40.2h0m.7 1.9h0m0-3.3h0m.4 38.6h0m.1 1.5h0m0 2.2h0m1.2-6h0m.5-37.8h0m0 1h0m.1 41.7h0m.4-.9h0m.3-47.3h0m0-9.1h0m.3 50.4h0m.9 2.1h0m.4-54.1h0m.2 42.4h0m.2-51.9h0m.1 48.1h0m0-41.5h0m.7-17.2h0m0 62.1h0m.5-1h0m.1-68.2h0m.4 4.1h0m0-11.3h0m.3 7.4h0m.1 73.5h0m.1-87h0m0 1.7h0m0 9.6h0m.2 77.3h0m.4-106.4h0m0 5.5h0m1 102.9h0m.1-56.8h0m0 54.9h0m.3-53.8h0m1.2 75.6h0m.2 10.6h0m0 8.5h0m.2-83.6h0m.2-6.6h0m.3 64.9h0m.1-2.4h0m.7 7.1h0m.5-60.4h0m.2-9.2h0m.1 10.2h0m.2 48.9h0m.5-46.3h0m.4 52.8h0m.1 29.5h0m.2-30.2h0m.1-60.8h0m.2 3.5h0m0 51.5h0m.1-3.8h0m1.6-54.9h0m.1 7.6h0m.4 57.2h0m.3 3.8h0m.7-98.8h0m0 106.5h0m.2-29.9h0m.1 7.9h0m.3 6.5h0m0-57.5h0m.1-17.6h0m.4 14.6h0m.5 45.1h0m.6-45.8h0m.1 41.6h0m.1 9.7h0m.2-10.6h0m.5-51.7h0m.5 55h0m.3-53.1h0m.2-33h0m0 3.7h0m0 6.2h0m0 2.7h0m.2 12.7h0m.2 63.5h0m.5-63.2h0m.3 64.6h0m.5-16h0m.5-43.8h0m.1 51.2h0m.3-54h0m.5 66.2h0m.4-68.8h0m.2 12.8h0m.3-8.8h0m.3 55.8h0m.4-38.1h0m.3-7.4h0m0 44.5h0m.1 17h0m.5-7.2h0m0-54.2h0m.7 2.1h0m.1 68.5h0m.1-15.8h0m.7-75.7h0m0 1.9h0m.1 7.6h0m.1 17.3h0m.1 65.7h0m.4-66h0m.9 63.7h0m0-73.6h0m.1 14.3h0m.4 53.3h0m.3-59.5h0m0 6.7h0m.8 73h0m.6-73.5h0m0 69.3h0m.7-16.5h0m.1-56.7h0m.1 78.2h0m.5-11.2h0m.3-70.8h0m.2 12.5h0m.1-.9h0m.3 69.4h0m.3-91.4h0m0 84.7h0m.1-3.4h0m.3-71.5h0m1.5-4h0m.2 3h0m.3 64.5h0m0-64.7h0m.3 64.6h0m.1-63.3h0m.4-3.6h0m.2 104.3h0m0 7.2h0m0-106.4h0m.4 64.2h0m0 5.5h0m1-90.6h0m.2 85.8h0m.5 9.1h0m0-89.7h0m.2 7h0m.2 7.1h0m.4 1.8h0m.1 88.7h0m.3-22.2h0m.2-.4h0m.6 6.2h0m.1-87.4h0m.1 100.6h0m.4-7.5h0m.5-74.6h0m.2-11.5h0m.2 14.2h0m.6 69.7h0m.2-72.3h0m.2 72.9h0m.1-.4h0m.4-78.3h0m.2 3.3h0m.2 72h0m.1 20.2h0m0-108.3h0m0 88.7h0m.4 22.4h0m0 6.1h0m0 10.3h0m1.6-41.2h0m0-52.6h0m.2 67.1h0m.1-75.5h0m.3 59.4h0m.1 12.6h0m.1-62.3h0m.5-13.6h0m.2 74.3h0m.5-5.7h0m.5-3.6h0m.2-62.4h0m.3 7.7h0m.2 63.9h0m.6-7.4h0m.2 6.2h0m.3-54.2h0m.1-1h0m.2 3.1h0m.5 70.8h0m.1-19.2h0m.1 12.2h0m0-66h0m.4-5.6h0m.1 64.2h0m.3-56.8h0m1 61.6h0m0-5.2h0m.4-55.7h0m.2-3.5h0m.3 73.3h0m.1-9.3h0m0 2.2h0m.4-57.9h0m.4 59.5h0m.2-62h0m.4 60.1h0m.3-56.1h0m.2-4.3h0m0 50.7h0m.2 1.4h0m.1-50.9h0m.6 57.9h0m.5 8.1h0m.2-61.5h0m.2 49h0m.1-50.1h0m.2-5.6h0m.3 73.8h0m.1-60.3h0m.3 53.1h0m.1-61.2h0m.1-1.2h0m.2 53.3h0m.6-46.4h0m.4-7.4h0m.1 58h0m0 1h0m.2-53h0m.3 50.8h0m.8 3.9h0m.2 8.5h0m.5-60.1h0m.1-.4h0m0 58.6h0m.3-66.3h0m.7 64h0m.1 16h0m0 6.9h0m.1-78.8h0m.2-9.6h0m.1 79.3h0m.5-77.4h0m.2 63.2h0m.3 4.4h0m.5-61.7h0m.2 57h0m.2-65.6h0m.1 1.2h0m.3-13.6h0m.3 78h0m0 16.7h0m.4-16.1h0m.4-65.4h0m.2 71.5h0m.6-80.2h0m.2 12.6h0m0 53.3h0m0 15.6h0m.4-76.2h0m.2 .1h0m.1-7.4h0m.1 79h0m0-71.4h0m0 72.7h0m1.2-6.3h0m.1-7.7h0m0-54.5h0m0-7.8h0m.3 71.8h0m.3-64.7h0m.1 96.6h0m.8-112.3h0m.7 90.4h0m.1-97.3h0m0 2.7h0m0 87.3h0m.2-10.3h0m.2-3.5h0m0-71.3h0m.3 4.8h0m.2 10.5h0m.1 3.4h0m.4 61.6h0m.2-13.4h0m.1 4.9h0m.6-56.4h0m.1 69.7h0m.1-2.7h0m.2-72.4h0m.3-1h0m.6 68.9h0m.3-65.3h0m.7 56.2h0m0-48.8h0m.2 46.5h0m.3-47.5h0m.1-2.3h0m0 65.4h0m0-13.8h0m.3-.8h0m.4-75.9h0m.6 12.9h0m.4 11h0m.3-15.4h0m.1 .4h0m.2 77.3h0m.2-8.1h0m.1-94.7h0m0 22.8h0m.8 8.5h0m.1 10.9h0m.4 56.3h0m.3-72.1h0m.1 67.1h0m.4 23h0m0-82.8h0m.1 10.5h0m.1 64.8h0m.3-63.2h0m.2 78h0m0 4.8h0m0 7.2h0m.5-35.2h0m.8-73.7h0m.1 20.9h0m0 46.8h0m.6 18.8h0m0-79.8h0m.5 9.8h0m.3 53.3h0m.1-54.8h0m.4 55.3h0m.1 2.3h0m.8 .9h0m.1-76.5h0m0 22.6h0m0 5.8h0m.4 42.7h0m.4 3.5h0m.4-1h0m.2-53.8h0m.8 12.7h0m.8 4.1h0m.1 46.6h0m.1-4.8h0m.2-42.1h0m.3-7.4h0m.2-10.2h0m.3 60.8h0m.1-43h0m0 40.8h0m.1 10.4h0m.9-5.8h0m0 2.7h0m.3 3.7h0m.7-63.4h0m0 4.5h0m.2 6.5h0m.3 52.8h0m.2-1.4h0m.1-52.7h0m.5 69.1h0m.5-69.6h0m.1 1h0m.1 53.8h0m.2-1.9h0m0-54.6h0m.1-5.3h0m.1 62.2h0m.5-70.4h0m.4-6.7h0m.2 75.6h0m.3-57.7h0m.2 57h0m0-67.2h0m.5 9.8h0m0 59h0m.5-58.1h0m.1 59.6h0m.3 8.4h0m0 3.4h0m0 2.7h0m0 7.2h0m.1-28.1h0m.4-50.3h0m0 54.2h0m.6-58h0m.9 44.5h0m.1 .6h0m.2-41.9h0m0-2.6h0m.2-5.6h0m.1 .3h0m0 46.2h0m1.3 3.2h0m.4 4.2h0m0-54.2h0m.7 47.7h0m.2 4.4h0m.1-52.4h0m.4-1.5h0m.4 48.2h0m0-50.7h0m.2 66.1h0m0-59.7h0m.1 46.3h0m.2 3.5h0m.5-11.8h0m.5 7.9h0m.1-50.4h0m.2 56.1h0m.3-56.5h0m.7 54.4h0m.3-56.5h0m.3 4.3h0m.2 2.6h0m.1 45.4h0m.1-5h0m.1-41.6h0m.1-2.7h0m0 59.7h0m.1-88.1h0m0 10.7h0m0 4.4h0m.8 12.2h0m.2 55.5h0m.6 6h0m.2-9.4h0m.3-47.7h0m.2 2h0m.6-1.9h0m0 47.4h0m.4 1.4h0m.8-47h0m.2-6.7h0m.2 66.4h0m.3-67.9h0m.1-1.8h0m.1-9.1h0m.2 79h0m.1-13h0m.3 0h0m.5 .6h0m.3-88h0m.7 83.9h0m.1-72.9h0m.6-22.8h0m.3 104.7h0m.5-94.7h0m.1 0h0m0 82.8h0m0-85.2h0m1.1 81.5h0m.1-.4h0m.1-7.1h0m0-62.4h0m.1-3.1h0m.3 8.9h0m.6 57.7h0m.3-5.2h0m0-60.1h0m.1 5.4h0m.7 51.7h0m0-42.1h0m.9 45.5h0m.1-51h0m.1 58.2h0m.1-61.1h0m.2 7.4h0m.4 45.2h0m.2-53.2h0m.4 64.8h0m.3-6.6h0m.1-50.5h0m.5 66.8h0m0-57.8h0m.3-2.4h0m0 43.5h0m.2 5.9h0m.3 1.5h0m.5-8h0m.1 9.9h0m.1-10.1h0m.4-39.7h0m.4-.4h0m.4-9.5h0m0 57h0m.1-6.3h0m.6-53.8h0m.1-11.3h0m.2 73.4h0m.3-53.7h0m.6 48.7h0m.1 3.8h0m.4-56h0m.4 5.7h0m.2 4.3h0m.1 49.4h0m.1 1.7h0m.6 10.3h0m0 12.6h0m.5-81.6h0m.1 9.1h0m.1 50.5h0m0-57.8h0m.1 64.4h0m.5-7.7h0m1.4-1.8h0m.3 1.6h0m.1-51.7h0m0 4.3h0m.8 46.9h0m0-44.5h0m.1-1.6h0m.2-3h0m.1 43.7h0m.2 8h0m.5-.9h0m0-10.6h0m.7-34.2h0m.1-3.3h0m.1 45.6h0m.8-49.4h0m.1 38.3h0m.2 2.9h0m.1-35.6h0m0 33.5h0m.7-44h0m.2 48.8h0m.2-42.8h0m.6 4.5h0m.2-4.8h0m0 43.3h0m.1-7.7h0m.4-37.2h0m.2 38.5h0m.1-40.2h0m0 3.8h0m1 36h0m.2 6.8h0m.1-45.9h0m.3 38h0m.6 2.1h0m0-44.5h0m.4 49.8h0m.5-60.3h0m0 2.8h0m.6 4.1h0m0 53.8h0m.1-48.2h0m.1 1.9h0m.1 43.7h0m.5-38.2h0m.1-4h0m.2 50.2h0m.1 18.3h0m.1-23.6h0m.2-37.8h0m.8 2h0m0-5.4h0m.2 40.1h0m.4-38.9h0m.2 44.4h0m.1-5.3h0m.2 10.6h0m.1-6h0m.1-37.7h0m.3 35.5h0m.9-41.4h0m.1 5.9h0m.4 40.3h0m.5 10.8h0m.3-6.5h0m0-44h0m.4 45.9h0m.4-52.5h0m0-3.1h0m.2 50.6h0m.7-51.3h0m.2 1.8h0m0 8.3h0m.7 82.4h0m0-127.9h0m0 10.8h0m0 13.7h0m0 3.8h0m0 78.5h0m0 2.7h0m0 6.2h0m0 6.1h0m0 5.1h0m0 6.2h0m.2-42.3h0m.1-61.5h0m.3 61h0m.5-2.5h0m.4-45.1h0m.1 4.6h0m.2-6.2h0m.1 57.7h0m.3-9.4h0m.3 6.4h0m.4-56.5h0m0 7.4h0m.1-10.6h0m.9 1h0m.2-20.7h0m0 75.3h0m0 .6h0m.5 7.5h0m.1-53.2h0m.2-2.7h0m.5 44.7h0m.6-39.4h0m.2 50.9h0m.4-57.3h0m.2 47.4h0m.3 14.5h0m.4 8.1h0m.1-19.6h0m.3-50.5h0m.2-1.4h0m.6 51h0m.2-48.6h0m.2 1h0m.2 56h0m.1-51.5h0m.6-7.6h0m0 46.9h0m.2-39.1h0m.5-2.6h0m.3 43.4h0m.5-43.5h0m.7 43.3h0m0-46.3h0m.1-3.6h0m.4 50.3h0m.4-46.3h0m.4-3.5h0m.2 53.6h0m0-49.6h0m.2 46.1h0m.1 9.9h0m.3-.1h0m.9-69.1h0m.2 62.3h0m.1-53.8h0m.1 64.3h0m.1-4.1h0m.1-63.2h0m.5 65.7h0m.3-3.2h0m0-66.5h0m.3-1.9h0m.1-24.9h0m0 7.2h0m0 4.8h0m.4 16.3h0m.4 88.8h0m0 .7h0m0 6.1h0m.1-24h0m.1 18.9h0m0-97.4h0m.1 83.6h0m.2-1.9h0m.7-3.9h0m0-65.5h0m.8 55.9h0m.1-69.7h0m0 11.9h0m.9 54.7h0m.2-77.7h0m0 24.5h0m.4 54.3h0m.3-50.6h0m.1-1h0m.6 51.4h0m.1 20.5h0m0-7.4h0m.1-5.5h0m.3-67.1h0m.2-12.8h0m.1 17.8h0m.5-9.1h0m.1 10.3h0m.1 54.1h0m.2 12.3h0m.1-76.9h0m.8 81.1h0m.2-69h0m.3-39.1h0m0 22.5h0m.2 8.6h0m0 72.4h0m.5-10.3h0m.1-51.7h0m.7 48.2h0m.1 7.7h0m.2-54.8h0m.1-12.2h0m.5 2.6h0m.2-3.3h0m.1 65.8h0m.6-67.2h0m.3 64.1h0m.3-2.8h0m.2-55.9h0m.3 60.9h0m.1-76.6h0m1 8.6h0m0 75.5h0m1 9.1h0m.1-84.8h0m.2 73.9h0m.2-84.7h0m0 90.6h0m.1-81.9h0m.2 73.3h0m1-96.8h0m0 4.3h0m0 99.4h0m.1-76.7h0m.2-14.5h0m.1 13.3h0m.2 81.3h0m.4 10.5h0m0 8.9h0m.5-111.2h0m0 98.2h0m.3-16.3h0m.7-67.7h0m.2 .2h0m.3 83.3h0m0-20h0m.2-62.2h0m.5 76h0m0-102.3h0m.6 27.5h0m.4 62.4h0m.3-60.8h0m.4 .4h0m.2 66.7h0m0-66.4h0m.7 71.8h0m.2-1.4h0m.1-75.1h0m.3-6.1h0m.2-32.1h0m0 1.4h0m0 20.1h0m0 2.7h0m0 82.9h0m.9-74.7h0m.7 81.9h0m.1-3.4h0m.1-78.8h0m.2 1.7h0m.3 5.1h0m.2 93.5h0m.2-91.5h0m.2 77.8h0m1-81.4h0m.4 5.9h0m.4 85.9h0m.1-11.6h0m.1 16.4h0m.3-91.9h0m.2 85.8h0m.2-104.9h0m.4 19.5h0m.1 80.2h0m.4 5.9h0m.1-4h0m.1-82.5h0m.1 98.6h0m0 2.7h0m0 9.2h0m0-32h0m.6-72.6h0m.2-6.7h0m.6-2.2h0m.2 78.5h0m.5 4.3h0m.3-90.4h0m.3 3.8h0m.6-12.5h0m0 7.6h0m.2-5.1h0m0 100.7h0m.5-18h0m.1-58.6h0m.1 62.3h0m0 .4h0m.1 5.6h0m.9-70.2h0m.1-1.9h0m.2 5.3h0m.1 60.8h0m.2 .1h0m.1-59h0m.3 61.3h0m.5-77.1h0m.4 14.1h0m.3 64.8h0m.1-72.3h0m.3 73.4h0m.4-65.7h0m.1 77.6h0m.8 6.5h0m.3-102.5h0m.2 10.4h0m.1 88.6h0m.4-86.5h0m.6-.9h0m.1 91.8h0m.1 1.9h0m.1 33.5h0m.1-37h0m.7 9.4h0m.4-116.9h0m.4 112.3h0m0-107.9h0m.1 121.3h0m0 7.9h0m0-154.6h0m.1 26.2h0m.1 107.3h0m.1-106.8h0m.1-50.3h0m0 3.5h0m0 20.1h0m0 12.3h0m0 2.7h0m.2 118.4h0m.3-101.8h0m.1 124h0m.2-21.5h0m.1-2.8h0m.3-152.8h0m.1 51h0m.2 89.5h0m.1-80.6h0m.5 76.7h0m.1-83.5h0m.1 93.5h0m.1-87.3h0m.1 79.1h0m.3-80.8h0m.2-.5h0m.2-5.5h0m.2 90h0m.1-83.8h0m.1 73.9h0m.1-93.4h0m0 95.1h0m0 35.5h0m0-9.2h0m.2-12.6h0m.3-81.5h0m.2 .7h0m0 64.3h0m.2-79.6h0m.6 132.4h0m.1-22.6h0m0 8.1h0m0-112.8h0m.5 1.1h0m0 86.2h0m0-11.5h0m.1-67.7h0m.3-5.8h0m.2 74.9h0m.2-2.7h0m.1 17.5h0m.6-85.3h0m0 59h0m.4-3.6h0m0-68.4h0m.1 75.1h0m.1-8h0m.1 2.9h0m.2 16.5h0m.5-86.9h0m.1 9.3h0m.4 53.8h0m.1 10.1h0m.2-70.1h0m.1-26.9h0m0 14.3h0m0 4.8h0m.1 108.1h0m.1-132.3h0m.1 97.6h0m.3-64.5h0m.2 6.9h0m.2 61h0m.1 9.4h0m.2-109h0m.2 37.1h0m.2 2.8h0m0-1.3h0m.4 72.3h0m.2 17h0m0-13h0m.3-80.6h0m.1 7.2h0m.4 98.1h0m.1-13.2h0m.1 5.3h0m.1-19.4h0m0-70h0m.2 70.6h0m.5-70.6h0m.2 70.1h0m.1-75.2h0m.2-24.6h0m0 116.1h0m0-19h0m.1-73.8h0m.1 78.2h0m.1-74.1h0m.1 74.7h0m.4 6.9h0m.4-17h0m.1-63.6h0m.1-4.1h0m0 70.7h0m.4-2.2h0m.2-64.3h0m.4-2.4h0m.1 68.9h0m0-69h0m.2 65.5h0m.1 2.9h0m.6-71h0m.3-9.9h0m.2 87.2h0m0-7.2h0m.7-76.9h0m0 80.6h0m0-91.2h0m.3 17.4h0m.2 71.3h0m.6 1.7h0m0-90.8h0m.2 89h0m0-93.6h0m0 9.4h0m0 82.5h0m0-76.4h0m.1 101.6h0m.3-105.5h0m.6 86.5h0m0-130.9h0m0 15.7h0m.2 19.9h0m.1 12.4h0m.2-6.4h0m0 96.9h0m.1 22.6h0m.3-108.5h0m.1 101.4h0m.1-23.8h0m.1 2.4h0m.4-3.7h0m0 1.2h0m.2-74h0m.2-.3h0m.3 78.7h0m0-85.1h0m.4 5.9h0m.3 .2h0m.1 91.6h0m.1-107.2h0m.1 89.1h0m.2-78.8h0m.4 81.4h0m.2-88.3h0m0 93.9h0m.4-78.7h0m.2 73.7h0m.1 3.8h0m.5-93.3h0m.1 9.5h0m0 90.4h0m.3-85h0m.3-.1h0m.3 72h0m0-82.6h0m.1 13.7h0m.2 79h0m0-85.9h0m.3 77.7h0m.5 .6h0m.5-1.9h0m.1-84.5h0m.1-8.5h0m0 109h0m.2-6.2h0m.2-93.9h0m.1 10.6h0m.2 74.7h0m.3-85h0m.1 96.2h0m0-118h0m.3 18.5h0m.1 100.8h0m.1-16.9h0m.2-72.8h0m.6-14.5h0m0 96.9h0m.1 1.4h0m0-9.3h0m.1-81.7h0m.4-23.1h0m.1 16.3h0m.1-7.3h0m.4 96.8h0m.1-77.9h0m.1-3.1h0m.2-1.8h0m.1 84.6h0m.4-131.6h0m0 169.2h0m0-38.5h0m0 .9h0m.2-81.7h0m.2 89.2h0m.5 5.8h0m0 2.2h0m.2-85.7h0m.2-.7h0m.1 90h0m.3-93.6h0m0 111.4h0m.4-28.3h0m.8 1.2h0m.1-77.8h0m0 97.6h0m.1-17h0m0-83.1h0m.5 90.7h0m.1-92.1h0m.3-.3h0m.2 79.8h0m.1-80.4h0m0 81.8h0m.2-103.7h0m.2 108h0m.3-77.4h0m.2 76.5h0m.2-78h0m.4 80.4h0m0-6.5h0m.1-.2h0m.5-74h0m.1-3.3h0m.2-4.7h0m0 3.3h0m.1-2.4h0m.1 98.9h0m0 3.8h0m0 18.5h0m0-27.6h0m.1-9.1h0m.3-77.9h0m.2-53.6h0m0 169.4h0m.4-39.2h0m.2-78.6h0m0 77.2h0m.2-77.7h0m.1-9.1h0m1 89.7h0m.1-80.6h0m.1 74.3h0m.1-73.3h0m0 73.2h0m0 6h0m0-6h0m.1-76.1h0m.1 86.3h0m.2-85.1h0m.3 75h0m.1-128.4h0m0 148.5h0m.4-107.3h0m.2 .5h0m.3 .8h0m0 10.3h0m.1 72.2h0m.5 24.4h0m0-15.6h0m0-7.1h0m.1-79.2h0m0 2.4h0m.3 80.3h0m.6-5.9h0m0-75.3h0m.3 74.9h0m.2 33.1h0m.5 15.2h0m.1-47.6h0m0-71.9h0m.1-1h0m.1 76h0m.1-82.8h0m.2-6.4h0m0 12.4h0m.1-6.4h0m.1 81.1h0m.2 53.8h0m.6-51.1h0m.2-83.4h0m.2 74.4h0m0-72.7h0m.2 2.8h0m.2-1.5h0m.1 132h0m0-62h0m0 .4h0m.6 5.5h0m.5 3.2h0m0-76.3h0m.3-7.3h0m.1-35.4h0m.1 24.6h0m.1 89.6h0m.1-78.9h0m.2 84.7h0m.2-76.4h0m.5 77.8h0m.3-92.9h0m0 81.3h0m0-68.3h0m.1 76.1h0m.4-10.4h0m.2-118.1h0m0 16.4h0m.3 103.8h0m0-66.3h0m0 68.1h0m.1-78.2h0m.1 13.2h0m.2 69.6h0m.1 40.5h0m.2-112.2h0m.1 72.4h0m.7-71.4h0m.5-36.6h0m0 161.4h0m0-45.4h0m.3-2.4h0m.2-89.2h0m.1 79.6h0m0-81.7h0m.1-2.2h0m.2 81.4h0m.7 14.8h0m.1-14.1h0m.1 34.7h0m0-104.2h0m.3-.2h0m.1-13.7h0m.5 16.5h0m0-.5h0m0-.5h0m.1 114.3h0m.2-45.4h0m.2-.6h0m.1 14.1h0m.2-3.4h0m.3-112.5h0m.6 29.6h0m.1-7.1h0m.2 82.8h0m.1-75.8h0m0 79.4h0m0 12.6h0m.1-18h0m.3 5.7h0m.1 .2h0m.2-94.3h0m.5-10.4h0m0 129.3h0m.2-118.6h0m.2 94.1h0m.1-4.2h0m0-76.9h0m.4 121.5h0m0 7.1h0m0-51.1h0m0-83.9h0m.2 88.4h0m.4-5.7h0m.1-78.4h0m.3-12.9h0m.2 8.2h0m.1 86.8h0m.1-.2h0m.1-2.9h0m.5 1.1h0m.3-81.2h0m0-7.6h0m.1 2.1h0m.1 13.8h0m.2 70.6h0m.4 1.6h0m.2-70.8h0m.2 74.2h0m.1 17.5h0m0-14.7h0m.3-80.9h0m.3 4.5h0m.1-5.2h0m0 85.2h0m.1-90.5h0m.6 80.9h0m0-83.4h0m0 99.1h0m.1-108.5h0m.1 21.5h0m.5 82.5h0m.2-9.6h0m0 9.8h0m.2-82.6h0m.7 2.5h0m.1 74h0m.2-88.7h0m0 15.2h0m.5-4.2h0m.3 78.3h0m.1-82.9h0m.1 96.8h0m.1-.2h0m.4-89.3h0m.1-1.6h0m.1 76h0m0 11.7h0m.4-85.8h0m.3-10.7h0m0 10.9h0m.1-20.4h0m0 131h0m.4-23.5h0m.2-90.2h0m0 96.1h0m0-6h0m.1-2.4h0m.2 5.2h0m.1-.6h0m.4-92.7h0m.2-3.6h0m.1-11.6h0m.3 103h0m0-99.1h0m0 89.7h0m.2-81.9h0m.3-1.1h0m0 3.1h0m.1-4.3h0m.2 88h0m.2-112h0m0 154.8h0m0-41.7h0m.1-9.1h0m.3 5.3h0m.4 10h0m.1-8.3h0m0-97.2h0m.1 4.2h0m.2-7.7h0m.1 100.5h0m.5-100h0m.4 97.2h0m.1-89.7h0m0 3.9h0m.1 82.3h0m.3-83h0m0 86.5h0m.3-110.5h0m.2 111.3h0m.4 8.9h0m.2-14.8h0m.1 4.2h0m.2-97.5h0m0 13.5h0m.4 81.1h0m.3-89.8h0m.1 93.1h0m.6-89.3h0m.2 81.7h0m.1-83.5h0m.1-5.5h0m0 90.7h0m.3 2.5h0m.6-90.8h0m.2 91.3h0m0-2.9h0m0 1.6h0m.1-93.4h0m.8-8.1h0m.1 101.5h0m.1-84h0m.2 84.6h0m.1 11.8h0m0-104.3h0m.2 1.6h0m.4 122.8h0m0-33h0m.1-87.5h0m.8 .3h0m0 106.6h0m0 40h0m.2-144.9h0m0 5.6h0m0-6.9h0m.2 95.5h0m0 7.2h0m.2-121.3h0m0 139.2h0m.1-16.9h0m.3 20.6h0m.2-29.7h0m.2-93.8h0m.5 96.3h0m0-1.2h0m.2-90.1h0m.1 2.3h0m0-14.6h0m.3 96.3h0m.2 2.8h0m.3-7.6h0m.3 10.3h0m.3-107.5h0m.3 103.8h0m.1-94.4h0m.2 7.9h0m0-11.4h0m.1 3.7h0m.3 86h0m.1-79.6h0m0-1h0m.1 84.2h0m.3-100h0m.6 99.7h0m.1-93.3h0m.3 89.7h0m.1-93.2h0m.1 9h0m.2 92h0m.1 23.3h0m0-18h0m.2-88.9h0m.3-3.8h0m.1 4.7h0m.2 85.5h0m0-12h0m.2-74.6h0m.3-6.3h0m.5 6.6h0m.2 76.5h0m.6-76.6h0m.4-11.2h0m.3 10.4h0m0 75.8h0m.3-.3h0m.1 8.7h0m.2 2.6h0m0-4.8h0m.3-86.1h0m.3 121.6h0m.1-40.8h0m.1 32.9h0m.1-110.2h0m.1 0h0m0 79.8h0m.7-89.3h0m0-1.4h0m.2 89.9h0m.2-121.1h0m.1 131.4h0m.2-4.8h0m.1-91h0m.3 95.6h0m.2 .9h0m0-90.3h0m0 85.6h0m.4-84.5h0m.2-2.9h0m.2 123.6h0m.1-37.4h0m.1-86.9h0m.1 84.5h0m.2 10.4h0m.2-3.7h0m0-92.8h0m.4 86.4h0m.2 32.6h0m.3-31.8h0m0-91h0m.1 8.3h0m.1-3.9h0m.5 88.7h0m.2 2.3h0m.3-142.3h0m0 51.7h0m.2 83.8h0m0-88.6h0m.2 6.7h0m0 88.6h0m.4 7.5h0m.1-100.9h0m.1-1h0m.3 100.1h0m0-109.8h0m.2 121.4h0m.1-22.2h0m.2 2.4h0m.2-87.9h0m.3 94.4h0m.6 5.1h0m0-97.3h0m.1 93.3h0m0-94h0m.1-.3h0m.1-.3h0m.2-47.1h0m0 171h0m0-34.5h0m.5 4h0m0 6.7h0m.1-102.8h0m.5 3.8h0m.1 97.8h0m.2 4.4h0m.1-109.8h0m.4 105.5h0m.1-101.3h0m0-3.2h0m.1 3.8h0m.4 5.2h0m.1 140.6h0m0-39.1h0m0-14.1h0m.8 6.7h0m.2-94.1h0m0 92.6h0m.2-90.8h0m.2-2.1h0m.1 103.6h0m.2-8.1h0m.1-8.1h0m.2-90.8h0m.4 .5h0m0 101.6h0m.1 17.9h0m.2-24.4h0m.1-91.5h0m.2-32.3h0m.2 23.4h0m.3 95.6h0m0-138.7h0m.1 140.3h0m0-87.8h0m.8 100.3h0m.1 24.5h0m0-127.6h0m0 3.4h0m.1 85.4h0m0-91.3h0m.1 3.7h0m.3 94.6h0m0-2.8h0m.5-5.9h0m.1-88h0m.3 92.4h0m.1-111.4h0m0 135.8h0m.1-120.7h0m.1-3.6h0m.3 106.5h0m.2-108h0m.3 106.1h0m.1-8.1h0m.1-97.8h0m.4-4.5h0m.1 4.2h0m.2 7.8h0m.3 4.2h0m0 84.1h0m.1-89.9h0m0 88.8h0m.2 6.5h0m.2 32.8h0m0-119.7h0m.3-7h0m.2 4.5h0m.4 91.1h0m.1-8.1h0m.5-1.3h0m0 .5h0m.1-81.3h0m0 .3h0m0 92.2h0m.2-92h0m.2 79.9h0m.2-81.3h0m.3 3.2h0m.4-15.9h0m0 5.1h0m.2 105h0m.1-11.6h0m.1-111h0m0 130.8h0m.2-18.9h0m.1-100.8h0m.4 18h0m.2 90.7h0m0-94.8h0m0 85.5h0m.7-88.1h0m.2 105.9h0m.2-111.7h0m.1 100.1h0m.1-.5h0m.4-89.9h0m.1 93.4h0m.3 4.6h0m.4 30.3h0m0 13.3h0m0-52.2h0m.1-94.8h0m.1 7.4h0m.1-2.7h0m.1 1.9h0m.3-2.7h0m0 91.6h0m.1-1.7h0m.1-89.9h0m.1 93.4h0m.1-112.4h0m.6 21.5h0m.1 87.7h0m0-5.3h0m.5-87.9h0m0 8.1h0m.4 91.1h0m.1-90.4h0m0 77.8h0m.4-77.9h0m.1-10.9h0m.1-4.9h0m.1 93.6h0m.1-79.1h0m.4 79.2h0m.5-88.8h0m.1 89.8h0m.3 7.5h0m.1-87h0m.2 89.2h0m.6-89h0m.1 90.2h0m.1-105.7h0m.1 95.1h0m.3-86.7h0m.2 3.5h0m.1-3.5h0m.7-2.5h0m.1 93.9h0m.1-4.5h0m0 1h0m.2-2.9h0m.6-82.9h0m.1-2.5h0m.2 87.8h0m0-99h0m.1 101.5h0m.3 6.8h0m.2 1.6h0m.1-100.4h0m0 92.7h0m.2-138.6h0m.2 137.5h0m.3 29.6h0m.1-113h0m.1-7.9h0m.1 5h0m.4 97.3h0m.6-8h0m.1-89h0m.1-20.2h0m.1 16.9h0m.3 98.4h0m.2-104.5h0m.2 96h0m0 15.9h0m.4-104.1h0m.3 88.8h0m.3-93h0m0 2.6h0m.1 96.7h0m.6-98.7h0m0 6.5h0m.1 88.3h0m.2 .9h0m.2-145.9h0m0 42.6h0m.3 102.3h0m.3-88.9h0m.2-.6h0m.2 91.5h0m.2 5.1h0m.1-97.7h0m.5-3.1h0m.3 92.5h0m.1-105.9h0m.2 124.7h0m.1-108.9h0m.1 92.7h0m.2-93.4h0m.2-36.2h0m.2 31.7h0m.1 96.2h0m.2 8.2h0m0-107.6h0m.4 7.1h0m.3-11.4h0m.1 151.8h0m.1-43.2h0m.2-92.3h0m.1 100.3h0m.1-1.6h0m.3 1.3h0m.1 3.5h0m.2-14h0m0-95.5h0m.2-4.3h0m.2 100.8h0m.4 3.3h0m.2-102.8h0m.1 7.9h0m.5 93.8h0m.1-94.5h0m0 95.6h0m.1-94.4h0m.3 140h0m0-147.6h0m.1-8.4h0m0 106.5h0m.8 43.6h0m0-133h0m.2 102.5h0m.3-8h0m0-2.7h0m.1-90.8h0m0-17.7h0m.1 106.7h0m.4-105.3h0m.4 112h0m.3-4.4h0m.3-133.7h0m0 168.3h0m0-140.1h0m.2 13.7h0m.2-4.7h0m0 97.8h0m.1-99.1h0m.2 110.1h0m.1-108.2h0m.1 126.3h0m0 17.4h0m.3-32.7h0m.1-6.4h0m0-105.2h0m.2 134.4h0m.2-141.6h0m.2 107.2h0m0 15.9h0m.2-118h0m.1 101.4h0m.1 1.1h0m.7-94.5h0m.1-2.5h0m0 93.5h0m.3 3.4h0m.1-97.5h0m.5 104.2h0m0-6.1h0m.1-102.5h0m.5 7.5h0m.1 105.9h0m.2-116.5h0m.4 98.1h0m.1 1.9h0m.2-95.7h0m.3 4h0m.1 110.7h0m0 23.9h0m.4-40.5h0m.2-92.5h0m0 3.3h0m0 97.4h0m.2-12h0m0 12.2h0m.2-11.2h0m.1-1.8h0m.2-89.8h0m.1 3.8h0m.4 1.3h0m.4 0h0m.3 83.9h0m.2 2.1h0m.2-99h0m0 106.2h0m.1 11.5h0m.2-14.1h0m.3-89.6h0m.1-3.1h0m.2-10.1h0m.2 95.4h0m.1-159.2h0m0 199.7h0m0-27.4h0m.4-114h0m0 142.7h0m0-136.3h0m.4 98.3h0m.1-99.8h0m.4 3.9h0m.2 .2h0m.2 97.1h0m.1 6h0m.3 6.9h0m.2-101.7h0m.3 90h0m.2-1.5h0m0 1.3h0m.4-93.2h0m0 .8h0m.2 148.1h0m0-157.3h0m.4 102.2h0m.1-90.9h0m.4 .2h0m.1 92.5h0m.3-1.7h0m.4-98.8h0m.2 99h0m.1 .4h0m.1-97h0m.5 98.6h0m.4-93.1h0m.2 96.7h0m.1-4h0m0-.3h0m0-106.2h0m.4 7.3h0m0 .2h0m.2-2.9h0m.2 110.8h0m.2-104.4h0m.2-6.2h0m.3 2.5h0m0 118.9h0m.1-13.6h0m.3 1.5h0m.1-104.3h0m.2 97.5h0m.4 7.8h0m.1-106.3h0m0 102.3h0m.3-113.8h0m.1 110.8h0m.2-114.9h0m.2 12.2h0m.1-13.9h0m0 144.7h0m0-126.6h0m.1-8.2h0m.3 106h0m.3-108.5h0m.2 112.4h0m0-4.8h0m.1 6.2h0m.4-112.9h0m.1 111.5h0m.2-2.2h0m.2-102h0m0 99.9h0m.2 7.3h0m.7-105.2h0m.2 3.5h0m.2 101.4h0m0-103.2h0m.1 98h0m.3 38.1h0m.1-133.9h0m.1 96.1h0m.3 31.2h0m0-134.1h0m.3 99.3h0m.4-90.7h0m0 89.4h0m.3 37.1h0m.2-32.4h0m.1-4.2h0m0-88h0m.1-3.8h0m.3 92.9h0m.1-2.2h0m.1-84.5h0m.1-7.8h0m.1 2.4h0m.4 118.9h0m.2-19.6h0m0 8.1h0m.8-17.9h0m0 .4h0m.4-89.4h0m0 6.7h0m0-11h0m.3 10.5h0m.1 93.9h0m.5-90.9h0m.1-5.2h0m.2 95.6h0m.2-6.4h0m.4-83.8h0m.1-15.1h0m.3 103.2h0m.3-89.6h0m.1 92.2h0m.2-96.6h0m.2 4.9h0m.1-23.4h0m0 109.3h0m.1 6.8h0m0-107.3h0m.5 98.4h0m.2-.4h0m.1-100.3h0m.3 12.9h0m0 120.7h0m0-125.4h0m.1 89.2h0m.2 26.7h0m.1-121.5h0m.5 94.3h0m.1 2.5h0m.6 2.2h0m.2-142.3h0m0 155.2h0m0-105.6h0m.2-22.8h0m.1 25.5h0m.3-2.3h0m.1 95.3h0m.1 8.8h0m0-14.5h0m.1-102.8h0m.6-7.1h0m0 121.8h0m.3-104.5h0m.1 100.5h0m0-108.5h0m0 4.3h0m.3 97.8h0m.1 3.5h0m.3-95.4h0m.3 96.6h0m.4-100.5h0m.4-.2h0m0 110.2h0m.1-13.2h0m0-97.9h0m.5-13.7h0m.1 123.3h0m.6-5.4h0m0-103.9h0m0 2.5h0m.2-8.4h0m.2 136.7h0m.1-19h0m0-8.4h0m.2-101.3h0m.1 111.2h0m.2 7.9h0m0-119.6h0m.1 94.9h0m.3 18.7h0m.5-125.1h0m.2 107.4h0m.1-.3h0m.5-106.3h0m.1 111.9h0m.2-105.2h0m.2-13h0m.2 15.6h0m0 111.1h0m.3-16.7h0m0 9h0m.1-119.5h0m.1 111.5h0m.1 22.5h0m.3-134h0m.6 122.6h0m0-111.2h0m.2 99.5h0m.4-116.7h0m0 144.9h0m0-141.7h0m0 152.4h0m0-36.6h0m0 2.6h0m.2-105.8h0m.1 4.8h0m.4-4.6h0m.2 97.7h0m.1 .2h0m.3-96.6h0m.1 104.4h0m0 7.8h0m.1 16.8h0m0-129.9h0m.6 7.2h0m.1-11.1h0m.1 11.9h0m.1-8.7h0m.1 99.5h0m.1-3.5h0m.1-92.2h0m.3-19.1h0m0 142.9h0m.4-32.3h0m.2 4.7h0m.3 5.6h0m0-101.3h0m.2 89.9h0m.1 1.4h0m0-83.3h0m.3 112.3h0m.2-127.4h0m.2 9h0m.2 91.5h0m.3 0h0m.6-139.4h0m0 190.7h0m.1-162.7h0m0 113.3h0m.1-86.5h0m.2 80.3h0m0-85.1h0m0-8.2h0m0 11.7h0m.1 88.3h0m.6 30.6h0m.2-118.6h0m.2-9h0m0 110.7h0m.1-17.4h0m0-82h0m.2 82h0m.2-85.7h0m.2 93.8h0m.1-92.7h0m0 84.7h0m.6-89.7h0m.1 84.8h0m.2-81.4h0m.4 83.6h0m0-90h0m.2 90.3h0m.2 5.7h0m0-80.2h0m.5-17.1h0m.3 89.9h0m.4-79.2h0m.4 2.5h0m0 89.3h0m.1-85.3h0m.4-.8h0m.2-3.6h0m.2 84.9h0m0 8.8h0m.2-102.6h0m.8 14.6h0m0-54.9h0m0 132.8h0m.1-81.5h0m.1 80.4h0m.5 4.2h0m.1-92.5h0m.1 96.1h0m.5-1.8h0m.1-136.9h0m.1 38.5h0m.3 91.7h0m0-80h0m.1-.1h0m.1 83.7h0m.1 .6h0m.5-.1h0m0-79.5h0m.1 1.9h0m.1-15.4h0m0 14.6h0m.2 74h0m.1 9h0m.7-3.4h0m0 32.4h0m.1-21h0m0-12h0m.3-95.9h0m0 13.7h0m.1 3.3h0m.1-24.7h0m0 143h0m.5-31.5h0m.1-88h0m.6 82.4h0m.3-109.5h0m0 135.8h0m0-23.5h0m0-94.8h0m.3 86h0m.1-90.1h0m.1 5.8h0m0 86.4h0m0-97.2h0m.2 111.9h0m.3 2.2h0m0-14.4h0m.1 7h0m.3-90.6h0m0-1.8h0m.1 81.5h0m.7-81h0m.3 92.1h0m0-100.5h0m.2 89.3h0m0-83.9h0m.1-12.4h0m.2 115.6h0m0-129.7h0m.1 13.9h0m.5 98.7h0m.2 6.3h0m.4 0h0m.1-97.2h0m0 94.4h0m.2-94.2h0m.4-6.2h0m.4 .9h0m.1 93.3h0m.1-3.1h0m.3-88.8h0m.1-2.4h0m.1 5h0m.1 123.8h0m0-24.8h0m.1-5h0m.5 44.1h0m.1-142.1h0m.2 2.2h0m.1-11.4h0m.1 97.9h0m.3 20.8h0m0-6h0m.3-102h0m.4 87h0m.4-87h0m.3-3.6h0m.1 91.5h0m.2 2.2h0m0-98.5h0m0 9.7h0m.1 91.6h0m.2-4.9h0m.4-101.2h0m.3 97.7h0m.1 3.9h0m.1-99.9h0m.1 3.3h0m.1 91.3h0m.6-82.3h0m0-4.9h0m.5 .2h0m.3 104.9h0m0-105.1h0m0 89.2h0m.5-5.7h0m.2 9.1h0m0-93.3h0m.1 96.7h0m.1-9.4h0m0-84.4h0m.2 82.5h0m.1-99.5h0m.3 115.2h0m.2-20.8h0m.1-77.7h0m.3-.7h0m.3 82h0m.5-2.7h0m.1-100.8h0m.1 21.8h0m.3 80.7h0m.1-2.5h0m0-91h0m0 10.6h0m.1 1.9h0m.5 95h0m.5-89.5h0m.1-6.3h0m.2-.1h0m0 79.4h0m.1 12.9h0m.2-90.3h0m.1-18.3h0m.1 103.2h0m.3-1.6h0m.3-79.9h0m.1 75.6h0m0-77.4h0m0 91.6h0m.4-86.6h0m0-10.5h0m.2-2.4h0m.3 13.4h0m.1 74h0m.1-70h0m.2 78.1h0m.1-78h0m.6 72.3h0m0 .7h0m.3 1.4h0m.1-71.9h0m.6 74.9h0m0-4.2h0m.1-76.6h0m.2 108h0m.1-101.2h0m0 73.9h0m.4-71.7h0m0 72.7h0m.8-78h0m0 81.7h0m.1-3.1h0m0 7.4h0m0-91.2h0m.6 89h0m.1-5.9h0m.1-80h0m.3 7.4h0m.1-20.8h0m0 103.2h0m.2-95.7h0m.4 10.2h0m0 78.5h0m.4 6.6h0m.2 10.4h0m.1-90.4h0m.1-6.7h0m.4 81.2h0m.3 2.6h0m0-79.7h0m.5 77.6h0m0-.1h0m.3-.4h0m.1-104.7h0m0 12.2h0m.2 14.5h0m.1 79.2h0m.1-84h0m.4 90h0m.2-5.2h0m0-84.4h0m.3 84.2h0m.2-88.1h0m.3-8.3h0m.8 115.8h0m.2-9.6h0m0 2.5h0m.1-108.5h0m.1 110.5h0m.4-98.2h0m.1 93.6h0m.2-90.3h0m.4 91.8h0m.2-100.5h0m.1 7.4h0m.2-5.7h0m.1-25.8h0m.2 118.8h0m.1-4.5h0m.5-96.4h0m.2 96.6h0m0-92.3h0m.1 7.5h0m.5 87.5h0m.2 .8h0m.2-92.8h0m0-13.7h0m.3 15.4h0m.1 88.2h0m.4 38.5h0m0-125.2h0m.1 85.6h0m.1 .3h0m0-86.1h0m0 115.1h0m.1-120.8h0m.3 103.3h0m.1 .2h0m.1-96.5h0m.3-1.6h0m.4 125.4h0m.4-30.9h0m0-10.6h0m0 7.2h0m.1-90.4h0m0-1.1h0m.9 6h0m.1 77.4h0m0-82.7h0m0 .8h0m.1-5.3h0m.1 87.9h0m.1-3.8h0m0 6.1h0m.4-3.4h0m.1-79h0m.4-5.7h0m.1 8.7h0m.8 83.4h0m.1-10.7h0m0-1.6h0m.3-72.4h0m.2-10.6h0m.1 81.5h0m.2-108.6h0m0 140h0m.1-22.6h0m.3-88.2h0m.5 93.4h0m.3-88.4h0m.1 78.5h0m.1-77.1h0m0 124.9h0m.1 1.2h0m.2-54.6h0m0-69.5h0m0 3h0m.4 69.3h0m.1-81.3h0m.1 81.2h0m0-71h0m.7 1.5h0m.1 67.5h0m.1-68.4h0m.3-35.9h0m0 103.1h0m.2 7.6h0m.2-6.2h0m.3-68h0m0 .1h0m.2-1.5h0m.1 91.3h0m0-88.9h0m.3 64.6h0m.3 2.4h0m.2-67h0m.3-6.1h0m.1 88.3h0m.1-14h0m.1-69.4h0m.1 108.8h0m.1-27.8h0m0-6.6h0m.3-75.5h0m.6 3.6h0m0 67h0m.2-1.2h0m.1-70.8h0m0-9.3h0m.1 92.4h0m.1-121.2h0m0 133.9h0m.7-25.6h0m.1 1.7h0m.3 6.4h0m.1-76.5h0m0 68.9h0m.1-73.6h0m.1 5.5h0m.1 69.9h0m.6 38h0m.3-25.5h0m.1-2.8h0m.2-3.7h0m.2-85h0m.1-26.6h0m0 145.3h0m.1-117.6h0m.4 2.9h0m.1-8.4h0m.1 85.6h0m.3 16.8h0m.1-102.3h0m.1 14.2h0m.3 122.2h0m0-122h0m.1-7.1h0m.1 89.1h0m.2-4.7h0m.3-80.7h0m0 81.4h0m.1-76.3h0m.1 88.2h0m.1-95.1h0m.2 90.7h0m.3-113.5h0m.2 11.3h0m0 13.9h0m.6 75.3h0m.1-82.6h0m.5 84.5h0m.1 38.9h0m.5-117.3h0m0 5.3h0m.1 80.5h0m.1-6.3h0m0 31.4h0m.4-16.6h0m0-100.1h0m.1 5.5h0m.3-14.1h0m0 96h0m.2-82.2h0m.1 86.8h0m.2-80.7h0m.4 78.7h0m0-81.2h0m.4 78.7h0m0 14.6h0m.1-15.6h0m0-76.7h0m.1-41.7h0m.6 37.6h0m.2-8.2h0m0 6.6h0m.8 92.8h0m.3-3.1h0m0-2.5h0m.1-87.6h0m0 83.3h0m.1-85.1h0m.1-1.2h0m.5 84.1h0m.2 1.2h0m.2-1.2h0m.3-78.5h0m.3-3.4h0m0-4.3h0m.2-25.2h0m0 31.8h0m.1 78.8h0m.1 6.2h0m.1-7.2h0m.6-69.9h0m.1 69.9h0m.2-78.6h0m.1 78.4h0m.2-67.6h0m.1 68.1h0m.5-68.6h0m.1 75.9h0m.2-86.3h0m.1 88.3h0m.2-84.3h0m.2 85.4h0m.2 14.8h0m.2-27.6h0m.1 1.9h0m0-74.2h0m.1-6.2h0m0-3.2h0m.1-4.3h0m.5 85.3h0m.1-74h0m.3 1.2h0m.2 79h0m.3-5.6h0m.1 10.5h0m0 23.4h0m.1-112.9h0m.1 82.4h0m.3-72.4h0m.1-12.1h0m.1 .4h0m.1 9.3h0m.2 120.6h0m.2-50.8h0m0 10.8h0m0-10.3h0m.2 .6h0m.6-66.6h0m.2 63.9h0m.1 2.8h0m.1-77.7h0m0 77.7h0m.7-69.1h0m0-3.9h0m.5 72.9h0m.2-75.6h0m.1 2.7h0m.1 1.8h0m.1-1.2h0m.2 70.3h0m.4-.4h0m.1 5.5h0m.3-111h0m.1 107.9h0m.3-72.5h0m.3 77.8h0m0-89.4h0m0 90.5h0m.2-117h0m0 23.7h0m.1 97.8h0m.1 31.7h0m.3-45.8h0m.8-80.6h0m.1 90.9h0m.1 28.3h0m.3-28.6h0m.1-80.3h0m.2 70.9h0m0-84.1h0m.1 8.4h0m.8 76.9h0m.4-79.5h0m0 77.6h0m0-74.5h0m.1-5.4h0m.1 81h0m.2-3.4h0m.2 2.1h0m.3-87.4h0m.1 90.4h0m.1-79.4h0m.3-.5h0m0 77.6h0m0-75.1h0m.5-14.5h0m0 2.7h0m.3 101.8h0m.3-87.7h0m.1-53.3h0m0 152.7h0m0-15.2h0m.3-82.8h0m.3 .4h0m.1 69.2h0m0-72h0m.4 78.1h0m.4-100.4h0m0 121.6h0m0-25.7h0m.1-74h0m0-4.8h0m.4 93.2h0m0-89.6h0m.1 88.5h0m.4-1.2h0m.3-97h0m.1 97.6h0m0 6.4h0m.1 12.9h0m0-106.1h0m.5 3.2h0m0-8.8h0m.5 6.3h0m.1 90.6h0m.1-4.5h0m0-8h0m.1-85.5h0m.2 117.1h0m.1-14.7h0m0-91.2h0m0-8.7h0m.9 11.2h0m.1-11.4h0m.2 84.6h0m.2-103h0m0 151.7h0m.2-47h0m.1-86.8h0m.1 102h0m0 27.7h0m.1-44.6h0m.1 45.7h0m0 2.1h0m.3-119.6h0m.2-4.7h0m.1 87h0m.1-84.8h0m.2 102.5h0m.2-108.4h0m.2 89.1h0m.2 .6h0m0-2.2h0m.4-1.3h0m.1-90.6h0m.3 5.3h0m.2 4.7h0m.1 86h0m.1-3.1h0m0-88.3h0m.3 89.1h0m.2 8.3h0m.2-1.7h0m0-92h0m0 .9h0m.3 84.6h0m0-82.3h0m.2-21.7h0m.4 108.8h0m.7 8.8h0m0-99.9h0m.3 85h0m.1 20.1h0m0-101.7h0m0 1h0m.1 81.6h0m.2 10.1h0m0-93.1h0m0 87.7h0m.3 24.9h0m0 18.4h0m.1-130.5h0m.1 111.1h0m0 5.1h0m0 15.4h0m0 2h0m.2-56.8h0m.1-79h0m0-3h0m0-7.2h0m.4-14.5h0m.2 107h0m.5 .3h0m.2-2.6h0m.1-81h0m.1 .7h0m.5 84.5h0m.2-92.6h0m0-5.1h0m.2 94.8h0m.1 7.7h0m.1-105.6h0m.6 15.6h0m0 82.1h0m0-78.9h0m.1-.9h0m0 80.9h0m.1 27.6h0m.2-145h0m0 6.1h0m.3 106h0m0-82.3h0m.1 88.1h0m.2-90.5h0m0 82.4h0m.1 2.1h0m0-88.8h0m.2 85.9h0m0-77.3h0m.4-15.2h0m0 108.2h0m.6-85.3h0m.2 75.3h0m0-2.6h0m.2-73.7h0m.3-5.5h0m.7 82.8h0m.1-80.4h0m.1 .6h0m.2 79.3h0m.3-81.4h0m.2 76.4h0m.1 19.6h0m.2-88.3h0m.2 65.2h0m.2-78.3h0m.1 7.9h0m.3 69.2h0m.1 .1h0m.5-66.6h0m.2 73.2h0m0-.5h0m0-67.7h0m.1-.5h0m.6 67.7h0m0-69.3h0m.2-1h0m0 .9h0m.3-47h0m.4 115.6h0m.1-2.6h0m.4-65.8h0m.1 62.4h0m.2 2.6h0m.3-75.9h0m.1 72.7h0m.4-57h0m.1 2.2h0m.3-2.6h0m.2 60.5h0m.4-91.8h0m0 106.7h0m.3-14.3h0m0-3.3h0m0 11.5h0m.1-70.9h0m0 4.3h0m1.1-26.7h0m0 101.5h0m0-74h0m.1 62.3h0m.1-5.9h0m0-64.4h0m0 7.2h0m.2 63.7h0m.5-66.6h0m.1 64.5h0m.2-1.7h0m.2-63.1h0m0-2.2h0m.1-36.6h0m.6 112.2h0m.1-13.9h0m.3 3.1h0m.1 1.1h0m.3-4.8h0m.3-54.6h0m.2-5.6h0m.1 75.9h0m0 15.6h0m.1-20.9h0m0-64.3h0m.1 60.6h0m.6-63h0m.1-.3h0m.1-39.6h0m.1 96h0m0 13.3h0m.4-77.7h0m.2 9.5h0m.1 55h0m.1-56.1h0m.2 60.7h0m.2 9.4h0m.1-68.9h0m0-.5h0m.1-29.7h0m.2 24.4h0m.4 69.8h0m.4-3.8h0m0 7.9h0m.3-83.7h0m.3-29.1h0m0 38.8h0m0-5.5h0m.3 67.9h0m.2 2.6h0m.4-63.1h0m0 71.4h0m.3-11.4h0m0 12.2h0m.1-111.9h0m.3 36.4h0m.1 75.6h0m.3-75.9h0m.1 .9h0m.4 63.7h0m.1 1.9h0m.1-66.2h0m.1-3.7h0m.3 80.8h0m.2-14.7h0m.2-57h0m.1-5.3h0m.3 67.8h0m.2 11.2h0m.1-75.9h0m.4 61h0m.1 1.7h0m.2 6.8h0m.1-76.6h0m.1 69h0m.3 19.3h0m.4-91.3h0m.1 90.5h0m.1-82.6h0m.2 63h0m0 4.7h0m.2-111.2h0m.1 45.2h0m0 68h0m.2-8.9h0m.1-61.3h0m.1 67.2h0m0-4.7h0m.3-60.1h0m0-45.4h0m.2 22.5h0m.2 84.3h0m.3-61.8h0m.2-4.1h0m.1-12h0m.2 114.5h0m.1-97.4h0m.1 58.1h0m0 34.1h0m0 5.1h0m.3-10.7h0m0-101.8h0m.1 73.9h0m0-1.8h0m.5 12.3h0m0 23h0m0 5.1h0m.1-98.2h0m0 .5h0m.2 63.3h0m.2-62.1h0m.2 59.5h0m.2-1.4h0m.1-69.9h0m.2 9.1h0m.3 58.4h0m.5-83.1h0m.2 82.6h0m.1-.1h0m.1-74.3h0m0 94h0m0-78.9h0m.1 60.9h0m.1-64.8h0m.4 9.1h0m.1 65.7h0m.3-70.3h0m0 65.9h0m0-61.1h0m.2-8.2h0m0 9.6h0m.3 75.8h0m0-23.6h0m.3 11.1h0m.9-67.6h0m.1-1.5h0m.1 58.1h0m.3 3.6h0m.1 9.2h0m.2-65h0m.6 54.4h0m0 .4h0m.3-53.5h0m.2-13h0m.1 72h0m.3-60.9h0m.5 .8h0m.1 57.6h0m.3-.5h0m0 .5h0m.1-6.9h0m.3-51h0m.4 2.3h0m.2 53.6h0m.3-53.8h0m.1-9h0m0 59.4h0m.5-51.1h0m.1 51.7h0m.1-2.4h0m.4 42.1h0m.1-99h0m0 8.6h0m.1-8.6h0m.2 60.5h0m0 39.2h0m0-43.2h0m.1 42.5h0m.1-43.4h0m.4-47.8h0m.3 52.7h0m.1-62.2h0m.1 87.1h0m.2-80.8h0m0-4.5h0m.4 1.6h0m0 80.4h0m.1-6.4h0m.2 4.9h0m.2-4.3h0m.4-7.4h0m.4-64.9h0m0 67.7h0m.1 4.1h0m.1-80.9h0m.4 74.3h0m.1-71.7h0m.5 .2h0m.3 5.3h0m0 68.5h0m.2-116.3h0m0 113h0m.2-70.3h0m0 68.3h0m.3-78.1h0m.1 80.5h0m.4-66.4h0m0 70.4h0m0-11.3h0m.3 7h0m0-4.6h0m.1-63.6h0m.2-2.4h0m.1 7.2h0m.4-25.7h0m.2 18.5h0m.2 70.9h0m0-63.7h0m.1 52.3h0m.1 5.2h0m.3-87.4h0m0 24.5h0m.1 57.5h0m.4-58.8h0m.2-2h0m0 4.3h0m1 56.4h0m.1-1.1h0m.1-50.7h0m0 54.3h0m.1 3.3h0m.2-66.4h0m.4 66.4h0m.1-61.9h0m.3 64.1h0m.2-104.8h0m0 3.7h0m.1 37.1h0m0 63.7h0m.2-60.9h0m0 59.7h0m.2 .9h0m0-1h0m.5-59.5h0m.1 70.1h0m.5-8.2h0m.3-69h0m0 10.3h0m.2 57.3h0m.4-62.4h0m.1-5.7h0m.2 8.9h0m.2 59.4h0m.1-58.8h0m.1 58.3h0m0-.7h0m.3-83.1h0m.1 95.2h0m.1-9.2h0m0 2.6h0m.1-72.6h0m.4 12.1h0m.1 1.7h0m.2 90.1h0m.2-92.9h0m.1 58.8h0m.3-58.1h0m.3 3h0m.1 84h0m0 6.1h0m.3 6.6h0m.1-30.3h0m.4-68.4h0m0 65.1h0m0-75.3h0m.1 82.3h0m0 1.6h0m.2 6.9h0m0-82.9h0m0 7.1h0m0 64.4h0m.1 5.1h0m.7-70.3h0m.2-6.7h0m.1 69.4h0m.4-63.6h0m0 60.9h0m.1-61h0m.4 62.8h0m0 2.7h0m0-65.3h0m1-13.1h0m.1 77.4h0m.5 40.1h0m0 6.1h0m0 18.9h0m0 2.6h0m0 2.7h0m0 1.4h0m0 6.2h0m0 7.1h0m0 5.2h0m0 11.6h0m0 10.3h0m0 11.8h0m0 9.9h0m0 18.4h0m0 13.7h0m0 24h0m0 1.2h0m0 10.7h0m0 6.1h0m0 37.9h0m0-252.3h0m0 1.1h0m0 45.3h0m0 6.1h0m.1-121.2h0m.1 76.1h0m0-76.4h0m1.1-5.5h0m.1 5.9h0m.2 .5h0m.2-6.8h0m.2 80h0m.2-4.2h0m.1 1.8h0m.1 4.2h0m.2-3.3h0m.2 .9h0m.2-71.6h0m.1-3.9h0m.2-1.7h0m.2 102.8h0m0-110h0m0 99.4h0m0 11.1h0m.2-95.5h0m0 78.7h0m.2-3.6h0m.1 8.7h0m0-89.7h0m.3 77.9h0m.1-2.1h0m.3-67.9h0m.3-2.9h0m.9 .6h0m.1 10.1h0m.1 84.1h0m0-21.2h0m.1 3.9h0m0-71.4h0m.4 80.5h0m0-4.6h0m.2-11.7h0m.1-2.2h0m.5-56h0m.2 56.7h0m0-64.4h0m.1 8.8h0m.5-.5h0m.1 57.3h0m.2-4.4h0m.3-56.6h0m.1 3h0m.4 53.3h0m.2-55.4h0m.2 64.6h0m.1-69.1h0m.4 62.6h0m0-57.2h0m.2 2.2h0m.1-2.2h0m.3 62.6h0m.1-8h0m.2-54.6h0m.5 48.6h0m.1-47.2h0m.3-.2h0m.2 51h0m0-2.4h0m.1-48h0m.4 53.2h0m.2-9.1h0m0 5.6h0m.1-55h0m.3 .5h0m.4-2.5h0m.1-27.2h0m.1 84.9h0m.4-63.8h0m.3-5.5h0m.2-7.8h0m.1 69.8h0m.2 29.9h0m0-31.2h0m0 .4h0m.1-62.5h0m.4 2.6h0m.2 68.1h0m.2-4.1h0m.2-62.7h0m.3 61.1h0m.1 15.9h0m0-72.3h0m.2-2.3h0m.1 .4h0m.4 61.6h0m.1-65.5h0m.1 67.2h0m.3-4.7h0m.1-60.4h0m.2-16.2h0m.1 82h0m0-65.4h0m.3-.3h0m0 61.5h0m.5-66.8h0m.1 69.2h0m.8 8.5h0m0-73.7h0m.1-1.9h0m.2 64.9h0m0-53.5h0m.2 54.5h0m0 5.4h0m.7-86h0m0 96.8h0m0-77.2h0m.2 6.9h0m0 3.4h0m.1-13.6h0m0 69.5h0m.3 1.5h0m.1-5.4h0m0-49.3h0m.1 55.8h0m0-68.5h0m.3 71.4h0m0-63.8h0m.2 .4h0m1.1 55.8h0m.3-52.1h0m.2-32.9h0m.1 7.1h0m.3 21.7h0m.1 67.1h0m0-10.5h0m0-63h0m.2 71.5h0m.2-57.2h0m0-7.4h0m.5-6.1h0m.5 71h0m.3-6.4h0m0-1.5h0m.5 2.1h0m0-61.9h0m0 64.2h0m.1 10.9h0m0-66h0m0-1.1h0m.1 3.7h0m.1 52.4h0m.1-74.8h0m0 87.3h0m0 2.3h0m.7-68.8h0m.4 .5h0m.2 51.4h0m0-59h0m.2-11.5h0m.1 72.6h0m.2-1.1h0m.3-54.5h0m.4 .7h0m.3 1.5h0m.2 68.6h0m0-15.4h0m.1-57.5h0m0-.7h0m.1 53.7h0m.4 9.7h0m.1-97.3h0m0 88.9h0m.1-56.6h0m0 5.5h0m.1 55h0m.2-68.9h0m.3 64.1h0m0 12.6h0m.1-63.3h0m.3 54.5h0m.2-58.9h0m.3 55.7h0m.1 11h0m.2-5.1h0m.4-55.3h0m0-2.6h0m.1-6h0m.6 69h0m0-7.5h0m.3-52.5h0m.3 50.1h0m.6 5.9h0m.1-55.2h0m.1-2.6h0m0-1h0m.1 66h0m.2-57.5h0m0-6h0m0 56.1h0m.6 7.3h0m.1-2.9h0m.4-54.5h0m.2-.6h0m0 44.4h0m.2-4.7h0m.4-38.4h0m0 .3h0m.1 47.9h0m.1 35.5h0m0-88.7h0m.2 45.2h0m.4-44.8h0m.2-1h0m.4 50.4h0m0-4.6h0m.2-43.6h0m.6 39.1h0m.1-35.4h0m.1-2.6h0m0-4.7h0m.1 3.6h0m.2 .6h0m.1 36.4h0m0 0h0m.4 22.4h0m.1-23h0m.1-37.6h0m0 39.8h0m.6-2.7h0m.5-1.9h0m.1-45.2h0m0-1.9h0m.6 6.7h0m.1 44.2h0m.4-5.2h0m.2-50.3h0m.3-39.3h0m0 88.6h0m.2 2.6h0m.1-51.9h0m.1-3.6h0m.2 9.7h0m.5 44.8h0m.2-52.7h0m.2 62.2h0m.4-85.3h0m.1 18.2h0m.1 67h0m0-63.4h0m.3-1h0m0 .1h0m.3 54.5h0m0 .9h0m.2 9h0m.5-67.2h0m.1-2.9h0m.2 64.5h0m.1-70.2h0m.2 95.6h0m0 7.1h0m.1-91.8h0m0-4.4h0m.3 61.5h0m.5 5.5h0m.1-2.6h0m.1-62.2h0m0 65.8h0m.1-9h0m.1-58.8h0m.1 64.7h0m.3-70h0m.1 66.5h0m.2 20.6h0m0-92.5h0m0 9.8h0m.3-2.4h0m0 61.9h0m.7 12h0m.4-2.9h0m.1-2.7h0m.1-67.6h0m.1 5.2h0m.1 3.2h0m.1-1h0m.2 71.6h0m.2-15.2h0m0-54h0m.6 56.8h0m0-59.9h0m.2 55.7h0m0-76h0m0 82.7h0m0-62.5h0m.7 2.5h0m.5 66.8h0m.2-70.9h0m0 61.8h0m.4-3.7h0m.3-51.9h0m.6-.4h0m.2-1.2h0m.1 57.3h0m.1 2.9h0m.2-6.5h0m.2 .4h0m0-62.1h0m.1 8.2h0m.3 64.1h0m.3-68.4h0m.2 2.3h0m.3 56.8h0m.2-57.4h0m.1 55.5h0m.3-57.9h0m.3 2.3h0m.1-.8h0m.2 59.8h0m0 .3h0m.2-1.2h0m.4-58.5h0m0 60.7h0m.6 5.8h0m0 9.9h0m0 6.3h0m.1-19h0m.3-68.4h0m.5 7.8h0m0-5.5h0m0 63.4h0m.1-55.7h0m.1 65.4h0m0-117h0m0 16.4h0m0 10.2h0m.5 88.4h0m.4-10.7h0m.1-68.8h0m.1 69.8h0m.1-54.6h0m.1-11.4h0m.2-.1h0m.1 65h0m.2 .3h0m.4-55.6h0m.1-7.2h0m.1 65.1h0m.2-55.5h0m.4 52.3h0m.2-54.9h0m.4 1.1h0m.1 56.2h0m.2-67.4h0m.3 72h0m.1-69.5h0m.3 59.8h0m0-57.9h0m.2 6.9h0m.2 63.5h0m0-8.5h0m.1-72.1h0m.5 18.4h0m.2 50.7h0m.5-60.6h0m0-1h0m.1 65.8h0m0-4.7h0m.3-59.9h0m.4-.9h0m.2 60.4h0m.2-52.5h0m.1 57.7h0m0-.9h0m.1-51h0m0-.5h0m.3-.4h0m0 51.6h0m.2 31.2h0m.5-31.8h0m.5 19.9h0m.3-14h0m.2-70.7h0m0 9.6h0m0 49.8h0m.1-45.5h0m.2 3.3h0m.2 48.5h0m0-68.4h0m.1 67.5h0m.1-50.4h0m0 47.5h0m.2-42.8h0m.3 .3h0m.1 43.8h0m.2 28.9h0m0-75.9h0m.4 50.6h0m.1-5.4h0m.1-42.7h0m.3 2h0m.1-1h0m.5-21.6h0m0 63h0m.1-2.2h0m.1-39.5h0m.4 40.2h0m.1-42.4h0m.1 43.2h0m.4 1.3h0m.1 .1h0m.5-44.6h0m.1 4.6h0m0 38.4h0m.1-43.2h0m.4 7.4h0m.2 35.6h0m.2-40h0m.2 3.9h0m.3 38h0m.1 1h0m0-41.2h0m.3 42.3h0m.2-45.2h0m.2 2.9h0m.3-.9h0m.5 43.1h0m.3 5.8h0m.2-49.2h0m.1 46.2h0m.1 .1h0m0-1.3h0m.2-37.6h0m.2-.6h0m.5 39.4h0m.2-43.1h0m.3 2.7h0m0 41.6h0m.2-38.7h0m0-.2h0m.1 .9h0m.4 32.7h0m0 1.7h0m.8-43.2h0m.2 4.8h0m.2 41.3h0m0-1.6h0m0-36.3h0m.1-20.3h0m.1 57.6h0m.1-37.4h0m.7-8.9h0m.1 51h0m.3-42.4h0m.1 37.9h0m.1 10.3h0m.1-47.7h0m.1 43.5h0m.1-4.7h0m.5-42.9h0m0 3.4h0m.3-5h0m.3 41.9h0m0 2.2h0m.1 13.1h0m.6-54.4h0m.1 44.4h0m.2-2.6h0m.2-47.5h0m.1 5.1h0m.3 1.1h0m.4 49.5h0m.1 1.2h0m.1-50h0m.3-4.3h0m.1 47.8h0m.4-53.8h0m.1 61.1h0m.1-5h0m.1-5.4h0m.1-63.7h0m.3 15.3h0m.3-11.5h0m.1 62.5h0m.3 2.9h0m0-3.6h0m.1-48.6h0m.2 57.1h0m.5-55.1h0m0-9.7h0m.2 13.9h0m0 47.4h0m.3 3.2h0m.5-2.9h0m0-4.6h0m.2-45h0m.4-2.9h0m.3 60.3h0m.1-52.4h0m.3 .7h0m0 39.1h0m.1 20.5h0m.2-11.6h0m.1-1.9h0m.2-5.9h0m0-42.9h0m.2 .2h0m0-.3h0m.4 40.7h0m.1 7.1h0m0-54.3h0m.2 2.6h0m.1 49.2h0m.6-2.9h0m.5-41.1h0m.3 43.4h0m.2-.1h0m.2-45.7h0m.2 1.3h0m.1 38.1h0m.1-39.2h0m.3 39.3h0m.2-42.4h0m.3 84.8h0m0-87.2h0m0 4.9h0m.1 45.4h0m.4-6.7h0m1-44.1h0m0 5.9h0m.2 48.3h0m0-8.1h0m.2 10.9h0m0-54.1h0m.1 45h0m.1-43h0m.1 44.4h0m.1-47.2h0m.1 2.1h0m.1 45.3h0m.2-55.7h0m.1 56.6h0m.4 2.3h0m.4-50h0m.2-5.6h0m0 53.1h0m.1-49h0m.1 50.2h0m0-52.4h0m.3 57.4h0m.1 2.4h0m.1 36.6h0m.3-94.4h0m.6-4.6h0m0 3h0m.2-.1h0m.3 53.8h0m.1-90.1h0m.1 92h0m0 7.1h0m.1-3.7h0m.1 5h0m0 9h0m.1-72h0m.4 46.3h0m.4-46.7h0m0 57.2h0m.3-103.9h0m0 93.9h0m.4-.6h0m.2-48.1h0m0 .3h0m.2-3.4h0m.5-8h0m.2 56.2h0m.2 6.8h0m.2-6.3h0m0-55.6h0m.3-.5h0m.1-.2h0m.1 3.2h0m0 4.8h0m.1-9.8h0m.4 52.2h0m.4 .4h0m.2 10h0m.1-3.8h0m.1-54.9h0m.1 48.3h0m.1-56.5h0m0 1.8h0m.1 57.4h0m.1-49.9h0m.4-19.1h0m.1 14.7h0m.3 51.9h0m.1-45.1h0m.2 46.2h0m.2-42.9h0m.1 44.2h0m.3-40.7h0m.1-2.3h0m.2-1.4h0m.1 43h0m.4-.2h0m.3-39.2h0m.5-1.9h0m.1 4.5h0m0 46.3h0m.6-10.3h0m0 3h0m.2-.7h0m.1-46.8h0m.6-12.7h0m0 83.8h0m0-61.2h0m0 .3h0m.4-8.2h0m.1 49.4h0m.1-4.9h0m.1 7.5h0m.4-6h0m.4 16h0m0-15.8h0m.2-41.1h0m0 40.7h0m.1-40.7h0m.2 3.2h0m.3 43h0m0-1.3h0m.2-5.4h0m.5 20h0m0-56.7h0m.3 42.8h0m.1-42.6h0m.1 1.3h0m.6-4.7h0m0 43.7h0m.1-43.4h0m.1 44h0m.3-40.9h0m.2 48.4h0m.1-48.2h0m.2 39.6h0m0 9.1h0m.5-51.1h0m.1 41.6h0m0-1.4h0m.1-46.5h0m.2 50h0m.4-1.9h0m.2-42.2h0m0-6.7h0m.4 1.3h0m.1-3.1h0m.1-2.6h0m0 55.6h0m.3 27.9h0m0-32.7h0m.2 4.5h0m.1-43h0m.1-3.3h0m0 49.3h0m.3-50.4h0m0-10h0m.1 53.9h0m.1 9.7h0m.5-9.6h0m.1 15.5h0m.4-54.3h0m.2 46.7h0m.1-48.8h0m.3 52.7h0m.5-83h0m.2 73.3h0m.1 0h0m.1-35.7h0m.1-5.8h0m.1 .2h0m.1 .7h0m.6 53.4h0m.3-49.1h0m.4 4.1h0m0 37.7h0m0-36.8h0m.1 35.8h0m.1-40.3h0m.1 2h0m0 42.1h0m.1-36.3h0m.2 .3h0m.2 46.5h0m.1-4.1h0m.1 37h0m.1-39.4h0m.6 5h0m.7-44.4h0m.1 40.1h0m.2-37.9h0m0-.3h0m.1 35.7h0m.1-38.6h0m.3 35.6h0" style="fill:none;stroke:#1f77b4;stroke-width:5.50;stroke-linecap:round"/></g></g></g><g id="filtA"><g clip-path="url(#p6ab9ace3d1)"><g transform="scale(0.72) translate(-0.0224 0.2625)"><path d="M117.2 197.5 119.2 206.7 121.3 214.9 122.7 218 123.9 215.9 125.4 221.1 127.4 208.8 128.8 203.7 130.1 204.7 131.5 212.9 132.9 210.8 134.6 218 136.2 224.1 138.3 227.2 140.3 206.7 142.4 212.9 143.8 211.9 145.2 218 146.9 231.3 148.9 242.6 150.5 250.8 152.6 236.4 154 234.4 156.7 237.5 159.2 240.5 161.2 221.1 162.8 224.1 164.9 221.1 166.9 214.9 168.4 212.9 169.8 225.2 171.8 218 173.9 219 175.5 212.9 177.2 221.1 178.6 222.1 180.7 229.3 182.1 196.5 183.3 178.1 184.7 182.2 186.2 190.3 187.8 191.4 189.5 198.5 190.9 207.8 192.3 208.8 194.4 225.2 196 217 197.7 206.7 199.7 219 202.2 192.4 203.8 212.9 206.3 188.3 207.9 196.5 209.3 212.9 211.4 209.8 213.4 221.1 215.5 231.3 217.5 212.9 219.6 195.5 221.6 210.8 224.1 224.1 226.3 206.7 228.8 205.7 231.2 204.7 232.9 212.9 234.9 217 237 225.2 239 214.9 240.7 215.9 242.7 196.5 244.8 208.8 246.8 190.3 248.4 182.2 250.3 190.3 251.9 184.2 253.4 194.4 255 192.4 257 209.8 259.5 200.6 262 194.4 264.6 199.6 266.7 201.6 268.7 207.8 271.4 235.4 272.8 221.1 273.8 207.8 276.9 206.7 279 211.9 281.6 203.7 283.7 212.9 286.1 226.2 288.2 217 289.8 204.7 291.3 208.8 293.3 221.1 295.4 231.3 296.8 237.5 298.4 226.2 300.5 224.1 302.5 219 304.6 212.9 306.6 206.7 308.7 200.6 310.3 184.2 311.7 174 313.8 163.7 315.8 160.7 317.3 167.8 318.5 178.1 319.9 172.9 322 171.9 323.2 153.5 324.2 165.8 325.5 175 327.5 176 329.2 186.3 331.2 198.5 333.7 196.5 336.3 192.4 338.4 191.4 340.4 198.5 341.8 212.9 343.5 237.5 345.1 255.9 346.6 253.8 348.6 247.7 350.7 237.5 352.1 229.3 353.7 225.2 355 233.4 356.2 253.8 357.4 268.2 359.5 263 361.5 260 363.6 245.6 365.6 233.4 367.7 223.1 370.1 214.9 372.6 213.9 374.2 214.9 375.8 225.2 377.9 239.5 379.3 242.6 380.8 229.3 382.4 217 384.4 213.9 386.1 217 387.5 225.2 389.2 221.1 390.6 229.3 392.2 237.5 393.9 231.3 395.3 214.9 396.7 219 398.4 213.9 400.4 210.8 402.5 212.9 403.9 210.8 405.9 214.9 408 217 409.4 229.3 411.1 217 412.7 214.9 414.3 229.3 416 212.9 417.6 205.7 419.3 212.9 421.3 198.5 422.9 196.5 424.6 204.7 426.4 194.4 428.5 190.3 430.5 189.3 433.6 189.3 436.1 191.4 437.7 190.3 439.3 196.5 440.8 198.5 442.8 190.3 444.2 202.6 445.5 221.1 446.9 227.2 449 233.4 451 234.4 453.7 233.4 455.1 221.1 456.5 192.4 458.2 204.7 460 221.1 460.6 212.9 462.3 202.6 464.3 200.6 466 204.7 467.4 221.1 468.4 225.2 469.9 206.7 471.5 202.6 473.1 205.7 474.6 201.6 476.2 210.8 477.6 208.8 478.7 205.7 480.3 214.9 481.7 219 483.2 231.3 484.2 235.4 485.8 229.3 487.3 221.1 488.5 212.9 490.5 218 492.6 214.9 494.6 210.8 496.7 207.8 498.7 204.7 500.8 201.6 502.8 199.6 504.5 202.6 505.7 200.6 507.3 206.7 509.4 204.7 510.6 217 512.3 227.2 513.5 214.9 514.7 206.7 516.4 212.9 518 208.8 519.6 209.8 521.3 204.7 522.7 207.8 524.1 201.6 525.8 194.4 527.4 191.4 528.8 195.5 530.3 190.3 532.9 189.9 534.4 196.5 536 195.5 538.1 198.5 539.7 202.6 541.1 198.5 542.6 204.7 544.2 201.6 545.4 208.8 546.9 202.6 548.3 195.5 549.5 200.6 551 196.5 552.4 192.4 554.4 193.4 556.5 192.4 558.5 194.4 560.6 193.4 563 197.5 565.7 200.6 568.4 204.7 570.8 208.4 572.5 200.6 573.9 192.4 575.9 190.3 578 191.4 579.4 194.4 581.1 192.4 582.3 190.3 584.1 196.5 585.6 202.6 587.6 201.6 589.7 202.6 591.7 198.5 593.8 196.5 595.4 190.3 596.6 196.5 597.9 204.7 599.1 192.4 600.5 198.5 602 203.7 603.6 200.6 605 205.7 606.7 201.6 608.7 197.5 610.8 194.4 613.4 191.4 616.3 189.9 619 187.9 621.6 186.3 623.7 190.3 625.7 191.4 627.8 189.9 630 188.3 632.3 192.6 634.7 194.6 637.4 197.7 639.5 191.5 641.5 188.5 643.1 185.4 644.6 181.3 646.6 189.5 648.3 188.5 650.3 183.4 652.4 186.4 654.8 183.4 656.9 181.3 658.9 180.3 661 182.3 663 180.3 664.6 183.4 666.7 175.2 669.2 175.2 671.6 174.1 673.7 170 675.7 168 677.8 167 679.8 163.9 681.8 168 683.9 165.9 685.9 167 687.6 161.9 689.2 162.9 691.3 152.6 692.9 155.7 694.5 151.6 696.2 150.6 697.8 154.7 699.9 158.8 701.5 164.9 703.6 162.9 705.6 160.8 707.7 151.6 709.3 160.8 711.3 154.7 713.4 155.7 715.4 158.8 717.9 163.9 719.9 165.9 722 163.9 724 165.9 726.5 161.9 728.5 167 730.6 169 732.2 179.3 734.3 174.1 735.9 175.2 737.3 174.1 738.8 181.3 740.4 173.1 741.9 167 743.3 169 745.3 163.9 747 156.7 748.2 138.3 749.4 113.7 750.5 121.9 751.5 154.7 752.7 172.1 754.1 160.8 756.2 152.6 758.2 146.5 760.3 142.4 762.3 139.3 764.4 136.3 765.8 135.2 767.5 140.3 768.7 130.1 769.9 124 771.1 130.1 772.6 138.3 774 142.4 775.6 150.6 776.9 157.8 778.1 140.3 779.3 142.4 780.6 150.6 781.8 142.4 783.2 165.9 784.4 150.6 785.5 140.3 786.9 154.7 788.3 158.8 790.4 164.9 792.4 171.1 795.1 175.2 797.8 178.2 800 176.2 801.9 180.8 803.9 178.8 806 177.8 807.4 180.8 808.8 183.9 810.5 178.8 812.1 182.9 814.2 176.7 816.2 178.8 818.7 180.8 820.7 177.8 822.4 184.9 823.6 188 824.8 174.7 826 169.6 827.7 178.8 829.3 176.7 831 171.6 832.6 168.5 834.2 173.7 836.3 177.8 838.7 179.8 840.8 182.9 843.2 177.8 844.9 182.9 846.9 187 848.6 180.8 850.2 176.7 851.8 180.8 853.9 182.9 855.5 177.8 857.2 183.9 858.6 174.7 860 184.9 861.3 174.7 862.1 150.1 862.9 131.7 864.1 141.9 865.4 158.3 866.6 145 867.8 152.2 869.9 154.2 871.9 160.3 873.6 163.4 874.8 157.3 876 170.6 877.2 177.8 878.5 164.4 879.7 158.3 881.3 166.5 883.4 167.5 885.4 163.4 887.5 166.5 889.5 170.6 891.6 177.8 893.6 173.7 895.3 168.5 896.9 163.4 898.5 170.6 900.2 178.8 902.2 183.9 904.3 181.9 905.9 177.8 907.6 173.7 909.2 177.8 911.2 176.7 913.3 177.8 914.9 184.9 917 193.1 918.6 187 920.2 177.8 921.5 174.7 923.1 179.8 924.8 181.9 926.8 178.8 928.4 181.9 930.1 173.7 931.3 171.6 932.9 182.9 934.6 191.1 936.2 197.2 937.9 184.9 939.5 178.8 941.1 184.9 942.8 190 944.4 188 946.1 189 947.7 180.8 949.3 178.8 951 182.9 952.8 182.9 954.7 192.1 956.3 187 957.9 190 959.6 185.9 961.2 182.9 962.8 189 964.5 188 966.1 191.1 968.2 189 970 192.1 971.9 201.3 973.3 204.4 974.7 196.2 976.4 191.1 978 194.1 979.5 184.9 981.1 178.8 982.5 188 984.2 191.1 985.8 188 987.6 193.1 989.7 191.1 991.7 195.2 993.8 192.1 995.8 191.1 997.9 195.2 999.9 201.3 1002 204.4 1004 206.4 1006.1 199.3 1008.1 195.2 1009.8 193.1 1011.2 197.2 1012.8 191.1 1014.5 188 1016.3 191.1 1018 184.9 1019.8 181.9 1021.4 193.1 1023.1 201.3 1025.1 204.4 1026.8 199.3 1028.4 191.1 1030 188 1031.7 191.1 1033.3 190 1035 195.2 1036.8 198.2 1038.8 196.2 1040.9 194.1 1042.5 191.1 1044.4 193.1 1046 188 1048.1 187 1050.1 190 1052.2 188 1054.2 189 1055.8 182.9 1057.5 191.1 1059.1 199.3 1060.8 191.1 1062.4 187 1064 182.9 1065.7 191.1 1067.3 194.1 1068.9 191.1 1070.6 196.2 1072.2 204.4 1073.9 195.2 1075.5 191.1 1077.1 197.2 1078.8 187 1080.4 198.2 1082.1 185.9 1083.7 199.3 1085.3 191.1 1087 199.3 1088.6 189 1090.2 195.2 1091.9 188 1093.5 191.1 1095.2 187 1096.8 190 1098.4 184.9 1100.1 197.2 1101.3 191.1 1102.5 205.4 1104.2 195.2 1105.8 203.4 1107.5 193.1 1109.1 206.4 1110.7 193.1 1112.4 201.3 1114 191.1 1115.6 199.3 1117.3 191.1 1118.9 195.2 1120.6 199.3 1122.2 201.3 1123.8 209.5 1125.5 203.4 1127.1 201.3 1128.7 211.5 1130.4 203.4 1132 191.1 1133.7 203.4 1135.3 211.5 1136.9 218.7 1138.6 207.5 1140 201.3 1140.6 201.3 1142.3 206.4 1143.9 199.3 1145.6 209.5 1147.2 203.4 1148.8 201.3 1150.5 205.4 1152.1 202.3 1153.8 205.4 1155.4 201.3 1157 206.4 1158.7 196.2 1160.3 205.4 1161.9 201.3 1163.6 206.4 1165.2 203.4 1166.9 201.3 1168.5 205.4 1170.1 206.4 1171.8 209.5 1173.4 204.4 1175.1 202.3 1176.7 199.3 1178.3 201.3 1180 198.2 1181.6 195.2 1182.8 191.1 1184.1 189 1185.3 195.2 1186.9 201.3 1188.6 199.3 1190.2 197.2 1191.8 194.1 1193.5 195.2 1195.1 194.1 1196.8 201.3 1198.4 206.4 1200 211.5 1201.7 218.7 1203.3 211.5 1204.5 199.3 1205.8 190 1207 199.3 1208.6 211.5 1210.3 201.3 1211.9 191.1 1213.6 190 1214.8 201.3 1216.4 199.3 1218.1 205.4 1220.1 203.4 1222.2 206.4 1224.2 204.4 1226.3 207.5 1228.3 203.4 1230.3 199.3 1232 196.2 1233.6 199.3 1235.3 203.4 1236.9 210.5 1238.5 215.6 1240.2 217.7 1241.8 215.6 1243.5 209.5 1245.1 201.3 1246.7 196.2 1248.4 194.1 1250 195.2 1251.6 201.3 1253.3 204.4 1254.9 206.4 1256.6 209.5 1258.2 212.6 1259.8 216.7 1261.5 213.6 1263.1 201.3 1264.3 191.1 1265.6 201.3 1267.2 207.5 1268.8 203.4 1270.5 206.4 1272.1 211.5 1273.8 219.7 1275.4 227.9 1277 221.8 1278.7 211.5 1280.3 206.4 1282 209.5 1283.6 201.3 1285.2 203.4 1286.9 207.5 1288.5 203.4 1290.1 201.3 1291.8 207.5 1293.4 211.5 1295.1 207.5 1296.7 213.6 1298.3 209.5 1300 203.4 1301.6 201.3 1303.3 205.4 1304.9 206.4 1306.5 209.5 1308.2 210.5 1310 212.6 1311.1 209.5 1312.7 206.4 1314.3 203.4 1316 200.3 1317.6 203.4 1319.3 201.3 1320.9 199.3 1322.5 205.4 1324.2 207.5 1325.8 209.5 1327.5 217.7 1328.7 207.5 1329.9 223.8 1331.1 245.3 1332 223.8 1333.2 206.4 1334.4 215.6 1336.1 223.8 1337.3 225.9 1338.9 221.8 1340.6 217.7 1342.2 212.6 1344.2 210.5 1346.3 212.6 1348.3 215.6 1350.4 217.7 1352.4 215.6 1354.1 211.5 1355.7 221.8 1357.4 212.6 1359 213.6 1360.6 211.5 1362.3 215.6 1363.9 219.7 1365.5 223.8 1367.2 221.8 1368.8 217.7 1370.9 216.7 1372.9 211.5 1375 206.4 1377 205.4 1379.1 207.5 1381.1 201.3 1382.7 209.5 1384.4 213.6 1386.2 212.6 1388.3 210.5 1390.3 207.5 1392.4 204.4 1394 211.5 1395.4 217.7 1397.1 207.5 1398.7 206.4 1400.4 219.7 1402 207.5 1403.6 212.6 1405.7 211.5 1407.7 210.5 1409.8 212.6 1411.8 211.5 1413.9 213.6 1415.9 212.6 1418 216.7 1420 221.8 1421.7 215.6 1423.3 217.7 1424.9 221.8 1426.6 217.7 1428.2 213.6 1429.8 216.7 1431.5 211.5 1433.1 206.4 1434.8 212.6 1436.4 217.7 1438 213.6 1439.7 215.6 1441.3 212.6 1443 214.6 1444.6 211.5 1446.2 213.6 1447.9 210.5 1449.5 212.6 1450.7 203.4 1452 201.3 1453.6 205.4 1455.2 208.5 1456.9 215.6 1458.5 223.8 1460.2 224.9 1462 222.8" style="fill:none;stroke:#ff7f0e;stroke-width:2.08;stroke-linejoin:round;stroke-linecap:square"/></g></g></g><g id="patch_4"><path d="M 83.8639 372.871117 L 83.8639 27.789" style="fill: none; stroke: #000000; stroke-width: 0.8; stroke-linejoin: miter; stroke-linecap: square"/></g><g id="patch_5"><path d="M 1052.9839 372.871117 L 1052.9839 27.789" style="fill: none; stroke: #000000; stroke-width: 0.8; stroke-linejoin: miter; stroke-linecap: square"/></g><g id="patch_6"><path d="M 83.362837 373.5090 L 1052.623914 373.5090" style="fill: none; stroke: #000000; stroke-width: 0.8; stroke-linejoin: miter; stroke-linecap: square"/></g><g id="patch_7"><path d="M 83.362837 27.9090 L 1052.623914 27.9090" style="fill: none; stroke: #000000; stroke-width: 0.8; stroke-linejoin: miter; stroke-linecap: square"/></g><g id="text_9"><text style="font-weight: 700; font-size: 19.2px; font-family: 'DejaVu Sans', 'Liberation Sans', sans-serif; text-anchor: middle" x="564.65" y="21.789">10.0 MHz N0000014</text></g><g id="text_10"><text style="font-weight: 700; font-size: 19px; font-family: 'DejaVu Sans', 'Liberation Sans', sans-serif; text-anchor: start" x="83.362837" y="21.789">(a)</text></g><g id="legend_1"><g id="patch_8"><path d="M 756.265421 92.605979 L 1043.294314 92.605979 Q 1045.959914 92.605979 1045.959914 89.940379 L 1045.959914 37.1186 Q 1045.959914 34.453 1043.294314 34.453 L 756.265421 34.453 Q 753.599821 34.453 753.599821 37.1186 L 753.599821 89.940379 Q 753.599821 92.605979 756.265421 92.605979 z " style="fill: #ffffff; opacity: 0.8; stroke: #cccccc; stroke-linejoin: miter"/></g><g id="line2d_31"><g><use href="#m3a58cf84ba" x="772.259021" y="45.246598" style="fill: #1f77b4; stroke: #1f77b4"/></g></g><g id="text_11"><text style="font-weight: 700; font-size: 13.328px; font-family: 'DejaVu Sans', 'Liberation Sans', sans-serif; text-anchor: start" x="796.249421" y="49.911398">Raw Data</text></g><g id="line2d_32"><path d="M 758.931021 73.709791 L 772.259021 73.709791 L 785.587021 73.709791 " style="fill: none; stroke: #ff7f0e; stroke-width: 1.5; stroke-linecap: square"/></g><g id="text_12"><text style="font-weight: 700; font-size: 13.328px; font-family: 'DejaVu Sans', 'Liberation Sans', sans-serif" transform="translate(796.249421 69.474402)">Butterworth Filtered Data</text><text style="font-weight: 700; font-size: 13.328px; font-family: 'DejaVu Sans', 'Liberation Sans', sans-serif" transform="translate(796.249421 84.398847)">(N=6, Tc=3.3333 min, Type: low)</text></g></g></g><g id="axes_2"><g id="patch_9"><path d="M 83.362837 759.133234 L 1052.623914 759.133234 L 1052.623914 414.051117 L 83.362837 414.051117 z " style="fill: #ffffff"/></g><g id="patch_10"><path d="M 106.1839 759.133234 L 467.6239 759.133234 L 467.6239 414.051117 L 106.1839 414.051117 z " clip-path="url(#p6a3180595b)" style="fill: #808080; fill-opacity: 0.18; stroke: #808080; stroke-opacity: 0.18; stroke-linejoin: miter"/></g><g id="matplotlib.axis_3"><g id="xtick_9"><g id="line2d_33"><path d="M 83.8639 759.133234 L 83.8639 414.051117" clip-path="url(#p6a3180595b)" style="fill: none; stroke-dasharray: 0.8,1.32; stroke-dashoffset: 0; stroke: #b0b0b0; stroke-width: 0.8"/></g><g id="line2d_34"><g><use href="#m1504cfccaf" x="83.8639" y="759.133234" style="stroke: #000000; stroke-width: 0.8"/></g></g><g id="text_13"><text style="font-weight: 700; font-size: 16px; font-family: 'DejaVu Sans', 'Liberation Sans', sans-serif" transform="translate(13.27875 816.164438) rotate(-30)">06-10 00</text></g></g><g id="xtick_10"><g id="line2d_35"><path d="M 204.8239 759.133234 L 204.8239 414.051117" clip-path="url(#p6a3180595b)" style="fill: none; stroke-dasharray: 0.8,1.32; stroke-dashoffset: 0; stroke: #b0b0b0; stroke-width: 0.8"/></g><g id="line2d_36"><g><use href="#m1504cfccaf" x="204.8239" y="759.133234" style="stroke: #000000; stroke-width: 0.8"/></g></g><g id="text_14"><text style="font-weight: 700; font-size: 16px; font-family: 'DejaVu Sans', 'Liberation Sans', sans-serif" transform="translate(134.437787 816.164438) rotate(-30)">06-10 03</text></g></g><g id="xtick_11"><g id="line2d_37"><path d="M 325.7839 759.133234 L 325.7839 414.051117" clip-path="url(#p6a3180595b)" style="fill: none; stroke-dasharray: 0.8,1.32; stroke-dashoffset: 0; stroke: #b0b0b0; stroke-width: 0.8"/></g><g id="line2d_38"><g><use href="#m1504cfccaf" x="325.7839" y="759.133234" style="stroke: #000000; stroke-width: 0.8"/></g></g><g id="text_15"><text style="font-weight: 700; font-size: 16px; font-family: 'DejaVu Sans', 'Liberation Sans', sans-serif" transform="translate(255.596824 816.164438) rotate(-30)">06-10 06</text></g></g><g id="xtick_12"><g id="line2d_39"><path d="M 447.4639 759.133234 L 447.4639 414.051117" clip-path="url(#p6a3180595b)" style="fill: none; stroke-dasharray: 0.8,1.32; stroke-dashoffset: 0; stroke: #b0b0b0; stroke-width: 0.8"/></g><g id="line2d_40"><g><use href="#m1504cfccaf" x="447.4639" y="759.133234" style="stroke: #000000; stroke-width: 0.8"/></g></g><g id="text_16"><text style="font-weight: 700; font-size: 16px; font-family: 'DejaVu Sans', 'Liberation Sans', sans-serif" transform="translate(376.755861 816.164438) rotate(-30)">06-10 09</text></g></g><g id="xtick_13"><g id="line2d_41"><path d="M 568.4239 759.133234 L 568.4239 414.051117" clip-path="url(#p6a3180595b)" style="fill: none; stroke-dasharray: 0.8,1.32; stroke-dashoffset: 0; stroke: #b0b0b0; stroke-width: 0.8"/></g><g id="line2d_42"><g><use href="#m1504cfccaf" x="568.4239" y="759.133234" style="stroke: #000000; stroke-width: 0.8"/></g></g><g id="text_17"><text style="font-weight: 700; font-size: 16px; font-family: 'DejaVu Sans', 'Liberation Sans', sans-serif" transform="translate(497.914898 816.164438) rotate(-30)">06-10 12</text></g></g><g id="xtick_14"><g id="line2d_43"><path d="M 689.3839 759.133234 L 689.3839 414.051117" clip-path="url(#p6a3180595b)" style="fill: none; stroke-dasharray: 0.8,1.32; stroke-dashoffset: 0; stroke: #b0b0b0; stroke-width: 0.8"/></g><g id="line2d_44"><g><use href="#m1504cfccaf" x="689.3839" y="759.133234" style="stroke: #000000; stroke-width: 0.8"/></g></g><g id="text_18"><text style="font-weight: 700; font-size: 16px; font-family: 'DejaVu Sans', 'Liberation Sans', sans-serif" transform="translate(619.073934 816.164438) rotate(-30)">06-10 15</text></g></g><g id="xtick_15"><g id="line2d_45"><path d="M 810.3439 759.133234 L 810.3439 414.051117" clip-path="url(#p6a3180595b)" style="fill: none; stroke-dasharray: 0.8,1.32; stroke-dashoffset: 0; stroke: #b0b0b0; stroke-width: 0.8"/></g><g id="line2d_46"><g><use href="#m1504cfccaf" x="810.3439" y="759.133234" style="stroke: #000000; stroke-width: 0.8"/></g></g><g id="text_19"><text style="font-weight: 700; font-size: 16px; font-family: 'DejaVu Sans', 'Liberation Sans', sans-serif" transform="translate(740.232971 816.164438) rotate(-30)">06-10 18</text></g></g><g id="xtick_16"><g id="line2d_47"><path d="M 932.0239 759.133234 L 932.0239 414.051117" clip-path="url(#p6a3180595b)" style="fill: none; stroke-dasharray: 0.8,1.32; stroke-dashoffset: 0; stroke: #b0b0b0; stroke-width: 0.8"/></g><g id="line2d_48"><g><use href="#m1504cfccaf" x="932.0239" y="759.133234" style="stroke: #000000; stroke-width: 0.8"/></g></g><g id="text_20"><text style="font-weight: 700; font-size: 16px; font-family: 'DejaVu Sans', 'Liberation Sans', sans-serif" transform="translate(861.392008 816.164438) rotate(-30)">06-10 21</text></g></g><g id="text_21"><text style="font-weight: 700; font-size: 16px; font-family: 'DejaVu Sans', 'Liberation Sans', sans-serif; text-anchor: middle" x="567.993375" y="834.4836">UTC</text></g></g><g id="matplotlib.axis_4"><g id="ytick_8"><g id="line2d_49"><path d="M 83.362837 745.0290 L 1052.623914 745.0290" clip-path="url(#p6a3180595b)" style="fill: none; stroke-dasharray: 0.8,1.32; stroke-dashoffset: 0; stroke: #b0b0b0; stroke-width: 0.8"/></g><g id="line2d_50"><g><use href="#m5d545ce8f8" x="83.362837" y="745.0290" style="stroke: #000000; stroke-width: 0.8"/></g></g><g id="text_22"><text style="font-weight: 700; font-size: 16px; font-family: 'DejaVu Sans', 'Liberation Sans', sans-serif; text-anchor: end" x="76.362837" y="750.891738">0.00</text></g></g><g id="ytick_9"><g id="line2d_51"><path d="M 83.362837 675.9090 L 1052.623914 675.9090" clip-path="url(#p6a3180595b)" style="fill: none; stroke-dasharray: 0.8,1.32; stroke-dashoffset: 0; stroke: #b0b0b0; stroke-width: 0.8"/></g><g id="line2d_52"><g><use href="#m5d545ce8f8" x="83.362837" y="675.9090" style="stroke: #000000; stroke-width: 0.8"/></g></g><g id="text_23"><text style="font-weight: 700; font-size: 16px; font-family: 'DejaVu Sans', 'Liberation Sans', sans-serif; text-anchor: end" x="76.362837" y="681.771912">0.05</text></g></g><g id="ytick_10"><g id="line2d_53"><path d="M 83.362837 606.7890 L 1052.623914 606.7890" clip-path="url(#p6a3180595b)" style="fill: none; stroke-dasharray: 0.8,1.32; stroke-dashoffset: 0; stroke: #b0b0b0; stroke-width: 0.8"/></g><g id="line2d_54"><g><use href="#m5d545ce8f8" x="83.362837" y="606.7890" style="stroke: #000000; stroke-width: 0.8"/></g></g><g id="text_24"><text style="font-weight: 700; font-size: 16px; font-family: 'DejaVu Sans', 'Liberation Sans', sans-serif; text-anchor: end" x="76.362837" y="612.652085">0.10</text></g></g><g id="ytick_11"><g id="line2d_55"><path d="M 83.362837 537.6690 L 1052.623914 537.6690" clip-path="url(#p6a3180595b)" style="fill: none; stroke-dasharray: 0.8,1.32; stroke-dashoffset: 0; stroke: #b0b0b0; stroke-width: 0.8"/></g><g id="line2d_56"><g><use href="#m5d545ce8f8" x="83.362837" y="537.6690" style="stroke: #000000; stroke-width: 0.8"/></g></g><g id="text_25"><text style="font-weight: 700; font-size: 16px; font-family: 'DejaVu Sans', 'Liberation Sans', sans-serif; text-anchor: end" x="76.362837" y="543.532258">0.15</text></g></g><g id="ytick_12"><g id="line2d_57"><path d="M 83.362837 468.5490 L 1052.623914 468.5490" clip-path="url(#p6a3180595b)" style="fill: none; stroke-dasharray: 0.8,1.32; stroke-dashoffset: 0; stroke: #b0b0b0; stroke-width: 0.8"/></g><g id="line2d_58"><g><use href="#m5d545ce8f8" x="83.362837" y="468.5490" style="stroke: #000000; stroke-width: 0.8"/></g></g><g id="text_26"><text style="font-weight: 700; font-size: 16px; font-family: 'DejaVu Sans', 'Liberation Sans', sans-serif; text-anchor: end" x="76.362837" y="474.412432">0.20</text></g></g><g id="text_27"><text style="font-weight: 700; font-size: 16px; font-family: 'DejaVu Sans', 'Liberation Sans', sans-serif; text-anchor: middle" x="29.435337" y="586.592176" transform="rotate(-90 29.435337 586.592176)">Peak Voltage [V]</text></g></g><g id="rawB"><g clip-path="url(#p6a3180595b)"><g transform="scale(0.72) translate(-0.0224 0.2625)"><path d="M116.7 1004 117.8 1004.5 120.2 1009.3 121.6 1006.9 122.4 1011.7 123.8 1008.2 125.2 1011.4 127.2 1009.9 128 1008.3 129.6 996 131.4 990 133.5 994.7 134 996 135.8 995.9 137.2 999.3 139.2 999.9 141.1 1000.9 142 1000 143.4 998.4 144.9 996.1 146.3 991.9 147.6 977.5 149.6 941.7 151.1 835.4 152.8 779.7 154.3 824.1 155.9 850.5 156.7 925.8 158.5 955.4 160.4 960.9 161.4 965.9 163.2 958.4 164.5 966.2 166.2 953.9 167.7 965.3 169.4 968.3 171.1 982.3 171.8 982.4 173.7 982 174.9 974.5 176.4 969.8 177.7 967.6 179.9 966.2 181.5 953.2 182.9 960.9 183.7 952.9 185.2 941.5 187.1 933.1 188.6 954 189.7 956.6 191.3 959.5 192.6 958.8 195 961.9 195.9 945.6 197.4 967.6 199.1 970.6 200.4 970.5 201.5 957.1 203.5 968.2 205.5 942.9 206.6 876.9 208.4 876.1 209.3 884.4 210.8 888.2 212.5 888.5 213.6 877.6 215.4 909.3 216.9 939.5 218.3 959.7 220.2 959.2 222 970.2 222.9 969.9 224.8 968.5 225.6 963.1 227.3 952.7 229.2 938.4 231.1 922.3 232.3 910.3 234 918.3 234.7 924.8 236.4 924 237.8 922.1 240.1 923.4 240.9 901.5 242.3 883.2 243.6 843.9 245.1 801.9 246.8 837.5 248.6 887.9 249.5 921.5 251.3 935.7 253.5 922.4 255 942.8 256.3 937.3 257.2 941.3 258.9 926.4 260.2 881.1 261.8 877.1 264.1 884.6 264.8 879.9 266.9 891.2 267.9 882.6 270 903.1 271.5 892.6 272 895.6 273.5 922 275.9 937.7 277.6 947.2 278.9 951.2 279.5 951.8 281.1 951.9 283.1 949.7 284.8 946.8 285.5 890.8 287.3 833.8 289.2 825.7 290.4 826.7 291.7 839.4 293.3 912.5 294.9 925 297 935.8 298.6 924 300 940.5 301.4 940 302.8 941.1 304.4 940.5 305.7 923.8 307 886.3 308.9 826.8 309.7 727.7 311.1 824.7 312.7 877.1 314.7 934.5 316.5 930.8 317.3 951 319.4 948.4 320.6 951.4 321.9 948.6 324 943.5 325 943.8 326.9 940.3 327.9 916.4 329.6 869.6 331.7 809.5 332.4 785.9 333.6 807.1 335.7 808.9 337.6 816.1 338.2 894.2 339.8 909.1 341.6 920.1 342.9 920.2 345.1 921.4 346.3 911.7 347.3 912.4 348.9 908.7 350.4 902.4 351.5 903 353.5 903.5 355.6 903.4 357 900.2 357.6 883.5 359.2 873.8 360.8 841.5 362.8 748.6 364.1 749.5 366 755.3 367.6 689.4 368.9 752.4 370.1 748.3 372 756.3 373.2 840.2 375 885.1 375.5 905.2 377.6 937.4 379 944.9 380.8 945.5 382.6 924 383.5 944.7 384.8 910.7 386.1 919.5 388.4 953.2 389.7 960.7 390.6 961.9 393 962.2 394.6 960.4 395.6 956.1 397.2 939.8 399 910.3 400.5 912.3 401.3 918 403.5 905.8 404.1 859.5 406.2 852.6 408.1 861 408.6 922.7 410 935.1 412.7 926.1 413.5 936.7 415.4 934.4 416.4 927.5 417.8 865.5 420.1 861.2 420.8 860 423.1 864.3 424 886.6 426 923.5 427.6 919.6 428.1 938 430.4 938.7 432.1 937.9 433.2 934.4 435.1 933.6 435.5 943 437.9 951.1 438.9 953.5 440.5 957.6 442.6 965.4 443.8 985.3 445.1 994.9 446.5 1002.6 448.4 1003.7 450 1006.2 451.1 1005.9 452.8 1006.3 453.7 1004.7 455.9 997.2 456.8 988.2 458.8 984.2 459.5 977 461.7 976.7 463.3 969.8 464.4 976.3 466.1 976.1 467.7 976.2 469 961.1 470.5 968.3 472.1 958.7 474.1 945.9 475.6 932.9 476.4 935 478.4 914 479.3 939.4 481.3 932.6 482.4 930.9 483.5 930.1 485.8 931.4 487.4 929.9 488.4 909.3 489.5 881.6 491.8 793 493.3 757.1 494.6 756.9 496.6 797.2 498.1 857.5 498.7 893.6 500.4 916.1 502.3 932.4 503 940.4 505 915.7 506.3 940.6 507.9 942.4 509.7 949.8 510.8 956.2 513.1 959.7 514 959.1 515.3 958.3 517.3 955.4 518.4 951.7 519.8 942.4 522.1 940.8 522.5 924.2 524.7 932.1 526.2 928.7 527.2 931.5 529 930.1 530.8 928.5 531.6 918.6 533.9 918.4 534.5 900.6 536.6 851.3 537.9 839.6 539.7 855.6 541.6 901.6 542 943.1 543.9 954.8 546.1 963.2 546.5 962.5 548 963.6 549.7 955.7 551.2 950.7 553.6 938.7 554.3 925.3 555.9 905.8 558.1 898.9 559 903.3 560.7 911 561.7 909.3 564 906.8 565.2 902.6 567 899 568.6 895.8 569.8 859.8 571.3 805.5 572.7 827.7 573.8 848 575.9 894.4 576.5 928.9 578.9 958.1 579.5 949.7 581.2 964.9 582.9 964.4 584.8 962 585.5 924.5 588.2 863.2 588.9 828.7 590.4 817.2 591.7 822.7 593 851 595.4 869.6 596.4 901.9 597.6 895 599.1 910.3 600.5 895.9 602.4 910.2 603.7 879 605.8 881.2 607.5 880.8 608.1 895 610.6 860.7 611.1 886 613.5 869.9 614.4 877.1 616.5 915 618.1 926.4 619.3 926.1 620.4 925.5 622.2 923.4 624.1 910.8 624.6 913.9 626.9 921.2 628.6 924.6 629.5 938.3 631.6 921.1 632.5 942.9 633.8 943.6 635.8 943.7 636.7 942.8 638.3 938.3 639.5 932.6 641.8 902.3 643.6 880.4 644.1 889.5 646.3 884.9 647.7 891.4 648.6 927 650.2 941.5 651.7 943.4 653.5 943.3 655 943.5 656.8 943.8 657.7 940.1 659.4 939.1 660.9 930.1 662.6 927.8 664.2 900.3 665.4 902.1 667.6 915.2 668.9 915.5 670.2 899.8 672.1 911.8 672.8 892 674.7 885.9 675.5 841.7 677.2 830.8 678.9 799.7 680.1 811.3 682.6 817.1 683.2 858.3 685.4 853.4 686.9 900.4 687.5 906.1 689.2 907.1 691.3 894.2 692.4 921 693.9 946.7 695 956.6 697.4 941.1 698.3 958.1 699.6 957.7 701.1 947.3 703.4 938.8 704.9 938.3 705.6 963.6 707.5 971.3 708.5 973.6 710.9 977 712.1 973.5 713.7 978.9 715.2 972 716.9 973.6 717.5 965.7 719.8 970.7 720.8 962.8 722.5 948.1 724.1 962.6 725.7 969 727.1 970.9 729.1 973 729.7 975 731 976.7 733.2 961.9 734.8 973.5 735.8 971.1 737.6 977.4 739.6 988.4 740.2 992 742.1 989.8 743 994.4 745.1 986.1 746 990.1 748.3 990.3 749.4 993.5 750.6 996.5 752.5 997.4 753.7 996.8 755.7 998.1 757.4 998.7 758 1002 759.6 999.7 761.4 995.1 762.7 992 764.2 989.9 765.5 985 767.2 985.4 768.6 988.1 770.1 993 772.6 996.9 774.1 1000.9 774.8 1002.3 776.6 998.4 777.5 988.3 779 993.4 780.8 1004.3 782.7 1011.1 784.6 1013.9 785.9 1013.8 786.5 1012.5 788.3 1010.1 789.5 999.2 791 999.8 792.8 999 794.7 1004.6 795.7 1005.4 797.8 1007 799.5 1007.7 800 1009.4 802.3 1005.5 803.1 1001.7 804.9 986.3 806.2 957.3 807.7 991.6 809.5 1007.2 810.9 1014.6 812.5 1015.4 814.3 1016.5 815.9 1016.2 817.3 1014.9 818.8 1014.9 820.3 1015.6 822 1015.5 823.1 1012 824.9 1015.1 825.8 1014 827.5 1014 828.7 1009.2 831 1000.7 831.9 979.2 833.5 976.8 834.9 982.4 836.5 994.3 838.1 983.6 840.2 996.8 840.6 999.6 843.1 1000.9 844.6 994.6 845.8 1003.1 846.5 1002.5 848.4 1002.8 850.3 1000.6 851 1001.3 853.1 997.1 854.7 994.7 856.5 993.8 858.1 990.6 858.5 984.6 860.4 966.8 862 942.9 863.3 942.9 864.6 967.2 866.4 970.8 867.5 971.5 869.6 975 871.1 982.1 872.4 990.5 873.9 982.9 876 977.4 877.3 969.3 878.5 981.8 879.6 990.6 881.3 997 882.7 998.4 884.3 999.9 886 998.9 887.7 995 888.7 988.8 890.3 989.3 892.5 974.1 893.2 969.2 895 971.5 896.7 982.9 897.8 990.3 899.6 1002.2 900.7 1005.4 902 1007.2 903.9 997.5 905.1 1002.5 907 996.1 909.2 1004.8 910 1007.5 911.7 1010.5 913.3 1010.7 914.6 1013.4 916.2 1012.6 917.5 1009.9 918.7 1005.4 920.6 1012.5 922 1014.9 923.9 1016.1 924.9 1016.1 926.4 1014.7 927.8 1012.6 929.8 1013.4 930.7 1016.1 933 1018 933.8 1016.3 936.1 1017.7 937.3 1017 938.1 1017 939.8 1018.6 941.5 1020.7 943.4 1019.7 944.8 1018.8 946.6 1015.9 947.1 1014.9 949.2 1012.9 950.2 1011.5 951.5 1008.4 953.9 1012.3 955.4 1014.4 956.7 1016.9 958.2 1018.8 959.9 1017.8 961.4 1015.8 962.9 1016.9 963.8 1018.7 965.6 1018 967 1017 968.1 1016.9 969.5 1018.2 971 1020.1 972.6 1020.5 974.6 1020.9 976.2 1019.9 977.9 1017.8 979.6 1017.4 980.5 1019.6 982.3 1018.9 983.5 1021.2 985 1021 986.8 1020.5 988 1016.1 989.9 1014.8 990.7 1014.9 992.5 1020.7 994.5 1022 995.8 1023 996.6 1022 998.4 1021.8 999.6 1019.8 1002.1 1019.6 1002.8 1017.3 1004.4 1017.3 1005.5 1010.1 1007.2 1012.8 1009.5 1012.5 1010.9 1014.4 1012.4 1015.8 1013.8 1014.5 1015.4 1014.5 1016.2 1017.2 1018.5 1016.1 1020.1 1020.6 1021.5 1021.3 1022.6 1023 1024 1024.7 1025.7 1023.4 1027.6 1022.6 1028.6 1023 1029.7 1023 1031.3 1024.3 1032.7 1023.8 1034.8 1024.2 1036.6 1024.9 1038.1 1023.8 1039.5 1022 1041.1 1022.3 1042.5 1021 1043.1 1022.3 1044.9 1022.8 1046.5 1024.3 1048.2 1025.3 1049.3 1026.2 1050.7 1025.8 1052.3 1027.1 1054.4 1026.9 1055.7 1027.5 1057 1027.1 1058.2 1027.5 1060.2 1026.9 1061.9 1027.2 1062.9 1026.5 1064.1 1027.9 1065.7 1027.7 1068.1 1027.2 1069 1026 1070.4 1025.5 1072.1 1024.6 1073.7 1025.7 1075.6 1026.1 1076.7 1027.2 1078.1 1027.1 1079.8 1026.8 1080.9 1026.6 1082 1027.8 1083.9 1028.1 1085.4 1026.2 1087.5 1025.1 1088.8 1023.5 1090.1 1023 1091 1025.9 1092.6 1026.4 1094.3 1026.2 1095.6 1026 1097 1026.2 1098.7 1026.3 1100 1026.4 1101.5 1027.1 1103.3 1027.7 1105 1026.6 1107.1 1027.6 1107.6 1027.7 1109 1027.7 1111.6 1027 1113 1026.9 1114.1 1027 1116 1026.4 1117.5 1027.4 1118 1026.1 1119.6 1025.9 1122.1 1026.1 1122.9 1026.5 1124.4 1026.5 1125.8 1026.9 1128.1 1027.2 1128.6 1027.6 1130.1 1027.4 1131.5 1026.8 1134 1027 1135.2 1026.4 1136.5 1025.6 1137.8 1022.4 1139.3 1022.1 1141.3 1022.7 1142 1023.9 1144.6 1024.1 1145.6 1023.9 1147.7 1023.6 1149 1024.1 1150.3 1025.1 1151.7 1025.8 1153.3 1026.3 1154.4 1026.4 1155.9 1026.4 1157.8 1026.1 1158.8 1024.1 1161.1 1025.7 1162.6 1024.7 1162.7 1024.5 1165.6 1024.4 1167.1 1022.6 1168.8 1021.8 1169.4 1020.7 1171.5 1020.3 1173.1 1020.8 1173.9 1023 1176.1 1022.6 1177.6 1022.7 1178.5 1021.2 1180.6 1022.4 1181.9 1019.9 1183.6 1022.7 1184.3 1021.7 1185.5 1019.7 1187.4 1018.4 1189.1 1018.1 1190 1017.4 1192.1 1017.4 1193.4 1020.4 1195.6 1023.2 1196.6 1024.5 1197.5 1024.5 1199.4 1025.1 1200.9 1024.2 1202.4 1022.5 1204.3 1022.7 1206 1022.6 1207.2 1023.8 1208.2 1020.9 1209.8 1018.6 1211.3 1019.5 1212.9 1023.8 1215 1024.1 1216.4 1024.8 1218.1 1025 1218.5 1023.9 1220.3 1023 1221.9 1024.5 1223.6 1024.3 1225 1025.1 1226.9 1023.6 1228.4 1025.4 1229.7 1023.4 1230.6 1025.3 1233 1025.7 1233.8 1025.5 1235.9 1024.9 1237 1024.1 1238 1020 1240.3 1021.8 1242.1 1021.3 1243.1 1022.7 1244.8 1022.8 1245.5 1024.1 1247.8 1023.4 1249.2 1024.2 1250.7 1021 1251.9 1021.3 1253.6 1016.2 1254.8 1020.1 1256.9 1021.3 1257.5 1022.3 1259.6 1020.3 1261.6 1021.3 1262.9 1019.2 1264.3 1021.1 1265.1 1021.6 1266.9 1022.8 1268.7 1023.3 1269.6 1022.3 1271.6 1019.3 1272.9 1014.8 1274.1 1005.6 1276.4 1006.1 1277.7 1004.2 1279.1 1004.4 1280.2 1006.6 1282 1010.1 1283.2 1014.4 1285.5 1017.8 1286.3 1019.7 1288.2 1020.9 1290 1019.9 1290.7 1019.4 1293 1017.8 1293.6 1016 1295 1017.9 1296.5 1019.3 1298.7 1018.3 1300 1018.6 1301.2 1017.9 1303.1 1016.6 1304.3 1016.1 1306.1 1016.6 1307.5 1018 1309.4 1017.4 1311 1016.2 1312.3 1015 1314 1011.3 1315.2 1013.4 1316.9 1014.6 1318.1 1016.8 1319.8 1017 1320.7 1018.7 1322.9 1017.8 1323.6 1017.7 1325.8 1016.6 1326.5 1014.8 1328.8 1012.5 1329.5 1010.9 1331.8 1008.8 1332.5 1011.2 1334.2 1008.6 1336.6 1008 1337.7 1000.8 1339.3 1004.3 1340.1 1001 1342.2 1004.1 1343.2 1004.5 1345.2 1005.7 1346.6 1005.7 1348.6 1003.8 1349.7 994.5 1351.3 998.9 1352.4 998.5 1353.5 1005 1355.8 1008 1356.8 1008.9 1358.4 1005.2 1359.7 1010.4 1361.6 1009.2 1363.4 1007.9 1364.9 1004.6 1366 1005.4 1367.7 1003.7 1369.2 1001.4 1370.1 995.5 1372.5 998.9 1373.4 1005.6 1374.7 1008.9 1376.8 1009.5 1377.6 1011 1379.6 1009.7 1381.6 1010.2 1383.2 1010 1383.5 1008.3 1385.7 1006.8 1386.5 1005.9 1388.2 1005.4 1390.5 1004.8 1391.5 1000.7 1392.7 1007.3 1394.2 1007.9 1396 1008.5 1397.9 1007.5 1399.4 1009 1400.7 1008.9 1402 1006.8 1403.9 997.9 1405 997.2 1406.6 989.8 1408.4 983.8 1409.3 971.9 1410.7 969 1412.1 954.2 1414.1 979.5 1415.7 994.9 1417.4 1002.2 1418.5 1002.4 1419.7 1001.9 1421.2 996.5 1423.2 992.9 1424.6 984.7 1426.1 984 1427.1 989.3 1428.5 989.2 1431 983.7 1431.7 988.4 1433.6 989.2 1435.6 989.3 1437 981.9 1438.1 983.5 1439.7 976.1 1441.3 984 1442.2 986.5 1443.8 993.2 1445.4 994.1 1446.9 995 1448 993.6 1450 991.4 1451.7 987.9 1452.7 984.4 1454.7 967.2 1456.1 984.7 1457 978.8 1459.4 975 1460.1 963 1461.8 961.9 1461.3 1015.8 1459.7 1018.7 1459.3 1021.8 1457 1024 1455.2 1024.1 1455.1 1023.7 1452.4 1023 1452.2 1023 1449.2 1023.5 1448.2 1024.8 1447.5 1025.3 1445.9 1025.6 1443.6 1025.2 1443 1023.6 1441.5 1022.7 1438.8 1022 1438.6 1021.9 1435.9 1021.5 1434.3 1022.5 1432.8 1022.2 1431.8 1023 1430.9 1023.2 1428.4 1023.9 1428.3 1023.7 1425.7 1024.8 1423.9 1024.9 1423.6 1025.5 1421.1 1025.6 1420.1 1024.3 1418.6 1024.2 1417.9 1024.4 1416.2 1023.5 1414.8 1023 1412.5 1023.6 1411.7 1023.4 1408.8 1023.2 1408.2 1024 1406.9 1025.5 1405.1 1026.8 1403.1 1026.4 1402.6 1027.8 1400.8 1028.2 1398.9 1028.4 1397.5 1028.4 1396.6 1028.7 1394.5 1027.5 1393.5 1027.9 1391.1 1027.4 1389.7 1028 1388.3 1027.5 1387.3 1027.4 1386.1 1027.2 1384.2 1027.6 1381.8 1027.8 1381.2 1027.6 1378.8 1027 1377.8 1027.3 1376.5 1027.2 1375.3 1027.5 1373.8 1027.7 1372.2 1027.9 1369.7 1027.7 1368.5 1028 1367.6 1028.5 1365.4 1028.7 1364.5 1028.9 1362.4 1029 1361.3 1028.4 1360.3 1028.8 1358.8 1028.5 1357.9 1028.4 1355.6 1027.8 1354.3 1028.1 1353 1027.7 1351.8 1027.6 1349.5 1027.3 1347.9 1028.4 1346.4 1028.8 1345.9 1028.1 1343.7 1028.6 1342.5 1028 1340.5 1028.9 1339.3 1029.3 1338.3 1028.4 1335.9 1029 1335.3 1029.3 1332.7 1029.3 1330.7 1028.9 1329.5 1029.1 1327.7 1028.9 1326.8 1028.4 1324.7 1028.7 1323.9 1029.2 1322.6 1028.8 1320.8 1029.2 1319.5 1029.5 1317.9 1029.6 1315.8 1029.8 1314.3 1029.8 1313.9 1029.8 1312.6 1029.7 1309.9 1030.2 1309.5 1029.9 1307.8 1030.4 1306 1030.5 1305.1 1030.1 1303.4 1030.4 1301.7 1030.3 1300.6 1030.8 1298.9 1030.8 1296.8 1031.2 1295.2 1031.1 1293.6 1031 1293.3 1030.8 1291.3 1031 1289.2 1030.7 1287.5 1030.5 1287.2 1030.2 1285 1030 1282.9 1030.1 1282.5 1029.7 1280.6 1029.9 1279.9 1029.7 1278.5 1029.9 1276 1030.5 1274.5 1030.7 1272.6 1030.3 1271 1030.7 1270.8 1031.1 1269.3 1031.3 1267.7 1031.2 1265.3 1030.7 1263.7 1031.5 1261.7 1031.3 1261.6 1031.6 1259 1031 1258.6 1031.8 1256 1031.9 1254.6 1031.5 1252.7 1031.7 1251.3 1031.4 1251.3 1031.6 1249.5 1031.4 1247.3 1032.1 1246.5 1031.8 1245.4 1032 1242.9 1031.7 1242.3 1032.2 1240.7 1032.2 1239.3 1032 1237 1032 1235.3 1032.3 1233.7 1032.4 1231.7 1032.4 1230.2 1032.4 1229.3 1032.1 1228.5 1032.5 1225.7 1032.5 1225.3 1032.3 1224.2 1032.5 1222.6 1032.4 1220.1 1032.4 1219.3 1032.2 1217.8 1032.1 1216 1032.1 1213.9 1032.2 1213.1 1031.8 1211.1 1032.3 1209.5 1032.3 1208.7 1032.3 1207.6 1031.4 1205 1031.9 1204.3 1032.2 1202.5 1032.3 1201.2 1032.4 1198.8 1031.9 1198.5 1032 1197.1 1032.2 1194.8 1031.9 1193.1 1032.3 1191.9 1032 1189.7 1031.5 1188.3 1031.9 1188.4 1032 1185.7 1031.9 1185.1 1031.7 1182.9 1031.8 1181.7 1031.5 1179.2 1031.2 1179.1 1031.5 1177.6 1031.1 1176.1 1031.5 1173.5 1031.1 1171.9 1030.9 1170.2 1030.9 1169.2 1027.6 1167.6 1029 1166.1 1028.5 1164.2 1029.9 1162.8 1029.5 1162.8 1030.4 1160.8 1029.7 1158.8 1032.3 1158.3 1032.5 1155.8 1032.3 1154.3 1032.3 1153.5 1032.4 1151.5 1032.2 1149.7 1032 1148.1 1032.1 1146.5 1032.3 1145.2 1032.3 1144.9 1032 1143.4 1032.3 1141.6 1031.7 1139.7 1032.1 1138.6 1031.7 1137.1 1032.2 1135.3 1032 1134.1 1031.8 1132.9 1032 1130.9 1031.5 1129.6 1032.3 1128 1032.2 1126 1032.1 1124.1 1032.2 1122.9 1031.8 1121.2 1032.3 1120.2 1032.3 1119.1 1032 1117.6 1032 1115.8 1032.1 1114.6 1032.1 1113.3 1032.3 1111.9 1032.2 1110.3 1032.2 1107.8 1032.3 1105.7 1032.1 1105.7 1032.1 1103.8 1032 1101.5 1032 1101.4 1031.9 1098.8 1031.9 1097.7 1031.9 1096.8 1032 1094.1 1032.3 1092.7 1032.2 1090.9 1032.1 1090.5 1032.1 1088.1 1032.2 1087.6 1032.4 1084.8 1032.3 1083.4 1032.5 1083.3 1032.3 1080.9 1032.3 1079.7 1032.2 1077.2 1032.3 1076.9 1032.4 1075 1031.6 1072.8 1032.3 1072.5 1032.3 1070.3 1032.2 1068.4 1032.1 1068.4 1032 1066.1 1031.7 1064.3 1031.9 1062.8 1031.8 1060.9 1032 1059.9 1031.9 1058.2 1032.2 1057.1 1031.8 1056.4 1031.3 1053.2 1031.7 1052.8 1032 1051.7 1031.1 1049.5 1031.8 1048.4 1031.3 1046.6 1031.6 1044.5 1031.1 1043.7 1031.5 1041.2 1031.1 1040.1 1031.2 1039 1031.5 1038 1031 1036 1031.7 1034.5 1031 1032.6 1031.6 1030.8 1031.3 1030.6 1031.7 1028.6 1031.1 1026.9 1031.4 1025.1 1031.6 1024.1 1031.5 1022.4 1031.5 1020.4 1031.2 1019.6 1031.3 1018.4 1030.7 1017.1 1029.9 1014.8 1031.3 1013.5 1031.3 1011.5 1031 1011.3 1031.2 1008.8 1031 1007.8 1031.1 1006.5 1030.9 1004.6 1031.4 1002.8 1030.6 1000.7 1030.9 1000.1 1031.5 998.6 1031.1 997.5 1031.5 996.4 1031.2 993.4 1031.1 992.7 1031.5 990.8 1030.7 989.7 1031 988.7 1031.3 986.8 1031.4 985.7 1031.2 983 1031.2 981.2 1031.1 979.7 1031.1 979.3 1030.7 978.1 1031 975.7 1030.6 974.2 1031 972.3 1030.7 971.1 1030.9 969.6 1031 968.5 1030.7 967 1030.4 964.8 1029.9 964 1030.5 961.9 1030.5 960.7 1030.6 960.5 1030.4 957.7 1030 956.5 1030.4 954.4 1030.4 954 1030.4 952.3 1029.2 950.6 1029.7 949.2 1030.4 947.8 1030.4 945.5 1030.3 944.2 1030.4 942.6 1030.7 941.5 1030.7 939.2 1030.2 938.4 1030.3 937.5 1030.4 935.6 1030 934.2 1030.3 933.3 1030.1 931.4 1030 929.5 1029.1 927.2 1029.9 927.3 1030.1 925.6 1030 924.2 1029.8 921.7 1030 921.4 1029.7 918.5 1028.7 918 1028.8 915.8 1029.2 914.5 1028.4 913.1 1028.3 911.2 1028.4 910.7 1028.6 908.3 1027.2 906.2 1028.4 906.3 1028 904.1 1028.6 902 1028.3 901.6 1028 898.8 1028.3 897.4 1027.5 895.7 1026.4 895 1026.2 893.8 1026.8 892.9 1026.5 890.3 1026.4 888.9 1026.5 886.7 1025.9 885.3 1026.2 884.2 1026.3 882.9 1024.7 881.9 1024.7 879.6 1025.4 877.9 1023.9 877.4 1023.3 876.4 1023.3 874.4 1022.8 872.2 1023 871.8 1020.5 869.8 1020.5 867.5 1022 866 1023.6 865.6 1023.9 863.8 1025.2 862.9 1025.1 859.7 1025.2 859.3 1024.3 857.6 1024.8 856.9 1026.4 854.7 1025.4 852.2 1026.4 851 1026.6 850.8 1026.1 849 1027 846.3 1026.5 845.1 1027 844.8 1026.9 841.9 1025.3 841.8 1026.7 839.6 1026.5 837.9 1026.6 836.5 1026.4 835.3 1025.4 833 1024.8 832 1025.9 830.3 1026.9 828.2 1027.1 826.8 1027.3 826.5 1027.2 824.1 1027.8 822.4 1027.9 821.9 1027.3 820.6 1028 819.5 1028.2 817.1 1028.4 815.8 1028.6 814.3 1028.2 813.3 1027.6 810.3 1027.2 809.5 1026.9 807.5 1024.4 806.4 1024.8 805.9 1024.9 802.7 1023.9 801.8 1026.5 801.4 1026.3 799.9 1026.1 798.1 1026.2 795.7 1026.5 794.5 1026.6 793.1 1026.2 792.3 1026 789.2 1026.3 788.2 1026.6 787.5 1026.6 785.6 1026.6 784.7 1026.7 783.4 1026.3 781.8 1025.4 780.2 1025.2 778.4 1025.4 777 1025.9 774.4 1025.4 772.8 1026.3 772.8 1026.2 770.6 1026 769.5 1025.3 767 1025.2 765.8 1025.4 765 1025 762.2 1023.1 760.9 1025 760.7 1024.5 758.1 1025.1 756.8 1025.9 755.8 1025.1 754.8 1024.1 753.2 1025.9 750.2 1025.3 750.1 1023.3 748.9 1024.9 745.8 1025.9 745.3 1025.9 743.3 1026.5 741.7 1026.1 739.9 1026.2 738.3 1027.2 737.9 1026.3 736.2 1025.4 735.1 1024.9 732.9 1025.1 731.9 1022.5 729.6 1023 728.3 1021.6 727.6 1020.9 724.7 1022.4 723.3 1022.8 721.8 1023 721 1022.1 718.8 1022.3 717.9 1021.9 717.4 1021.5 715.6 1021.3 713.9 1020.3 712.1 1018.8 710.1 1018.1 708.2 1018.1 707.9 1017.8 705.3 1017.1 704.8 1017.8 702.7 1018.7 701.3 1017.4 699.4 1016.6 698.7 1016.6 696.3 1014.5 695.8 1013.5 693.4 1011.6 693.1 1009.2 691.1 1009 689.6 1008 688.3 1010 685.9 1011.5 685 1014.1 684.4 1014.4 681.6 1013.1 680.9 1011.3 678.8 1009.8 678.4 1010.7 676.8 1012.6 675.4 1016.4 673.1 1018 671.1 1020.5 670.6 1020.5 669.4 1020.3 667.6 1019 665.4 1018.9 663.7 1018 663.1 1015 661.5 1013.7 660.1 1013.8 658.4 1015.3 656.8 1017.3 654.2 1018.9 652.7 1022.1 651.5 1023.2 649.8 1022 649.1 1018.5 647.9 1014.1 646.2 1007.9 643.7 1009.4 643.8 1009.4 642.2 1012.7 639.2 1013.2 639 1012.9 636.5 1011.9 634.9 1009.8 633.5 1010.4 631.7 1008.8 631 1008 629 1006.2 627.6 1004.9 627.1 1003.5 625 1002.4 623.4 1004.1 621.8 1005.3 620.6 1009.9 619.6 1013.3 618.4 1016.5 616.9 1019.5 614.7 1019.3 613.7 1017.6 611.1 1015.4 609.9 1016.9 608.6 1018.4 607.5 1019.5 605.8 1019.5 604.7 1017.4 602.1 1015.3 601.4 1012.1 599.4 1011.3 597.8 1010.3 595.8 1008.2 594.2 1006.7 592.8 1006.8 592.3 1006.9 591 1006.9 588.2 1005.5 588.2 1006.9 585.4 1008.5 584.8 1011.5 582.4 1013.9 581.5 1014.5 579.8 1008.4 579.2 1005.2 577.3 1004.5 575.5 1003.2 574.4 1001.5 572.2 999.5 570.2 996.4 569.3 997.4 567.8 995.8 566 995.8 565.4 1001.4 563 1005.5 561.2 1007.6 560.1 1011 559.5 1012.4 558.2 1011 556.9 1010 554.3 1007.1 553.6 1009.4 551.2 1012 550.1 1012.9 548 1013.3 546.2 1013.7 545.7 1015.2 543.2 1012.5 542 1012.1 541 1011.3 540 1009.8 538.8 1008.3 535.9 1007.4 534.6 1005.7 533.5 1005.5 532.9 1007.3 530.1 1008.8 529.4 1010.2 527.1 1011.1 526.9 1012 523.7 1013.4 523.5 1013.7 522.2 1012.5 520.5 1011.3 519.3 1010.6 516.7 1011.7 515.2 1013.5 514.8 1017.3 513 1021.2 510.6 1020.4 509.9 1020.2 508.9 1016.5 506.8 1014.7 505.5 1012.4 503.5 1011 501.4 1011.5 500.4 1012.3 499.9 1010.3 497.9 1009.1 496.2 1004.9 494.9 1001.4 493.1 999.5 491.9 1001.5 490.8 1002.8 488.7 1005.5 486.3 1007.6 485 1007.8 484.3 1007.6 483.4 1006.8 481 1006.2 479.8 1006.2 477.8 1006.9 476.3 1008 474.4 1007.8 474 1005 471.7 1005.6 469.7 1008.4 469.1 1010.3 467 1011 465.7 1011.9 463.7 1011.9 462.7 1015.2 461.3 1016.6 460.3 1020.5 458.4 1020 457.1 1018.6 456.4 1018.1 453.6 1018.4 452.7 1019.3 450.2 1019.2 449 1018.6 448.5 1019.5 446 1019.7 445 1019.3 443.6 1018.3 442.4 1017.9 440.3 1015.2 438.3 1014.7 437.2 1013.3 436.2 1010.3 435 1010.2 432.8 1009.3 430.9 1009.4 430.9 1010.2 428 1013 426.3 1014.4 426.1 1013.6 423.5 1013.1 421.8 1012 420.6 1008.8 418.9 1009.7 417.3 1010 416 1009.7 414.5 1010.9 413.2 1010.2 411.4 1009.3 411.1 1008.8 408.9 1008.3 407.9 1006 405.2 1003.7 404 999 403.3 995.6 401.8 998.9 399.8 1002.3 398.3 1004.5 397.1 1007.7 395.8 1010.6 394.6 1011.1 392.5 1013.1 391.3 1013.4 390.2 1013.2 387.8 1013.2 386.2 1012.5 384.8 1010.8 384.3 1013 381.9 1012.7 381.3 1012.9 378.6 1012.7 378.2 1012.1 376.1 1012 375.2 1008 373.7 997.9 371.3 983.5 370.4 976 368.2 967.7 366.6 963.7 365.5 964.7 364.5 968.6 362.1 971.4 360.7 975.1 360.3 977.4 358.7 978.1 356 980.6 354.9 984.2 353.9 987.8 351.2 987.6 350.8 987.5 349.5 987.3 347.9 988.5 345.9 989.5 343.7 990 343.3 990.9 341.5 991.9 339.3 992.9 339 993.6 336.9 993.5 335.7 990.6 334 991.6 332 993.2 330.4 998.6 329.5 1006.4 327.6 1009.4 326.6 1011.9 325.3 1011.4 323.5 1011.7 322.1 1011.6 320.2 1010.4 318.8 1012.4 318.3 1012.5 315.7 1008.9 314.3 1007.4 313.1 1002 312 997 310.8 998.7 308.7 1000.5 306.2 1002.8 305.4 1004.8 303.5 1005.2 302.1 1006 301.2 1004.8 299.7 1004.7 298.6 1006 297.3 1006.7 294.5 1007.3 293.9 1007.5 291.9 1006.5 290.1 1004.2 289.6 1002.7 287.8 1005 286.1 1006.9 284.4 1009.5 282.8 1010.1 282.2 1010.2 280.6 1010.9 278 1008 276.5 1007 276.4 1002.7 273.9 1003 272.4 1001 270.7 995.7 269.4 989.7 268.7 987.2 267.4 985.9 265.4 988.4 262.7 989.6 262.2 993.2 260.8 996.7 260 1000.1 257 1000.5 256.1 1000.6 253.7 1002 253.9 1001.2 251.3 1001.2 249.5 999.7 249.3 999.6 247.4 995.6 246.4 993.2 243.3 988.3 243.2 990.7 241.4 994.9 240 997.9 237.5 999.3 237.4 999.6 235.2 996.7 233.8 997.4 231.2 995.9 229.8 995.6 228.8 997.5 226.9 1001 225.2 1003.6 224.8 1006 222.6 1009.1 222 1010.1 220.4 1009.5 219.3 1009.5 217.9 1008 215.4 1002.8 214.5 998.9 212.1 996.8 211.5 995.2 208.7 993.4 208 995.6 205.7 999.4 204.7 1001.7 202.8 1004.4 202.3 1005.3 200.4 1007.5 199.5 1009.3 198.4 1010.8 195.4 1010 195.3 1009.6 193.5 1009.5 191.8 1006.9 190 1004.9 188.1 1002.9 187 1001.9 186.1 1003.9 184.4 1005.6 182 1005.7 180.3 1007.1 179.7 1010.4 178.8 1011.8 176.7 1014.8 175.6 1017.2 173.1 1018.5 171.9 1017.8 170.4 1018.1 169.9 1017.1 167.9 1019.1 166 1019.5 165.1 1017.6 162.3 1015.8 161.7 1016 159.5 1012.9 157.8 1012.2 157.7 1008.4 155.5 1007.1 154.5 1003.2 152 998.6 151 1002 149.1 1007 148.6 1012.9 147.4 1015.9 144.2 1017.6 144 1019.9 142.7 1021.2 140.6 1021.6 139.8 1021.4 136.9 1020.2 135.6 1018.1 134.7 1019.1 133.4 1020.6 131.3 1021.4 129.2 1022.2 129.2 1025.5 127.5 1025.3 125.6 1026 124.5 1024.5 122.5 1024.4 121.8 1024.2 119.7 1023.8 118.5 1023.5 115.8 1021.4Z" style="fill:#1f77b4;stroke:#1f77b4;stroke-width:5.50;stroke-linejoin:round"/><path d="M116 1002.2h0m.3 20h0m.6 .5h0m1-21.4h0m.1-3.5h0m.1 26.9h0m1.1 .5h0m.1-2.4h0m.3 .1h0m.5-17.6h0m.7 18.4h0m.6-12.6h0m1.1 1.1h0m.6 11.7h0m.5 .8h0m.2-.5h0m.9-15h0m.6 15.9h0m.4-13.5h0m1.7 15.7h0m0-2.4h0m.2-19h0m1.2-2.4h0m.1 21.4h0m.2-.2h0m.6-2.5h0m.2-23.7h0m.9-6.8h0m.2 29.8h0m.5-63.1h0m0 4.1h0m0 5.1h0m0 10.2h0m0 1.7h0m.5 7.9h0m.2 2h0m.3 30.1h0m0-27.7h0m.4 .5h0m.4 27.1h0m.6-1.2h0m.7-.1h0m.2-29h0m.5 4.3h0m0 1.9h0m.9 23.6h0m.3 .5h0m.5 .2h0m.3-23h0m.3-2.2h0m.8 .7h0m.6 26.1h0m.1-23.9h0m1.1 23.8h0m.5 2.1h0m.1-30.5h0m.6 5.7h0m.5-2.5h0m.1 24.3h0m.9-27.9h0m.5 27h0m.4-20.9h0m.1 20.8h0m.8-23h0m.7 22.2h0m.8-29.4h0m.6-.5h0m.3 29.2h0m.8-5h0m.4-34.6h0m.5 35h0m.1-74.9h0m.6 69.7h0m.4-74.3h0m.3 .5h0m.1-99.1h0m1.5 166.4h0m.4-222.6h0m.1 1.3h0m0-109.7h0m0 9.1h0m0 6.1h0m0 16.7h0m0 14.6h0m0 4.9h0m0 16h0m0 30.5h0m.1 231.7h0m.4-280.6h0m0 6.1h0m0 15.9h0m.4 259.5h0m.1-257h0m0 19.5h0m.9 238.7h0m1.6 6.9h0m.1-157.6h0m.8 65.6h0m.3 3.4h0m.2-13.3h0m.2 101.9h0m.1 2.3h0m.3-64.3h0m.4-3.5h0m.7 69.7h0m.2-.7h0m.4-61.5h0m.4 64.4h0m.1-59h0m1.3 8.7h0m.2-3.1h0m.1 53.3h0m.8-50.1h0m.5-3h0m.4 54.9h0m.9 1.6h0m.2-61.5h0m.6-6.5h0m.2 4.4h0m.1-16.5h0m0 83.6h0m.2-75h0m.2 71.9h0m.6-97.6h0m0 6.1h0m0 4.1h0m.4 90h0m.6-57.8h0m.7 54.4h0m0-.3h0m.2-53.5h0m1 8.1h0m.4 46.5h0m.5 1h0m.2-51.1h0m.2 48.7h0m.7-42h0m.2 6.8h0m.4-10h0m.8 45.3h0m.4-48h0m.2 48h0m.1 0h0m.2 3.3h0m.5-45.4h0m.8-2.7h0m.2-3.2h0m.5 47.2h0m0-68.9h0m.1 69.4h0m.4-63.7h0m0 16.4h0m.5 46.7h0m.9-52.5h0m.1 47.4h0m.8-43.6h0m.2 44.2h0m.2-60h0m.2 57.6h0m.6-56.5h0m.6 9.2h0m.1 46.6h0m.3-58.1h0m.1 54.8h0m.6 .7h0m.5-49.3h0m.7 48.3h0m0-.3h0m.1-49.8h0m.5-4.6h0m.3 55.5h0m.4 2.4h0m.3-57.2h0m.3-1.8h0m.1 .7h0m.5 54.9h0m.7-67.1h0m.6-26.4h0m0 20h0m.5 72.5h0m.6-66.2h0m.1-.6h0m.1 65.3h0m.8 0h0m.7-61.6h0m.2 6.3h0m.4 56.8h0m.2-52.5h0m.2 52.7h0m.2-60.2h0m1.1 13.7h0m0-10.5h0m.5 61.6h0m.3-67.7h0m.2 69.6h0m.6-54.8h0m0 52.9h0m.3-64.2h0m.1 15.5h0m.8-9.8h0m.5 8.1h0m.3 51.4h0m.1 3.7h0m.3-3.5h0m.3-55.9h0m.4 56.1h0m.1-59.2h0m1.5 3.1h0m.3 55h0m.1-47.2h0m.1-24.5h0m.4 71.4h0m.5-.1h0m.1-50.6h0m.6 8.8h0m1 3h0m.1 37.4h0m.2-48.8h0m.2 49.1h0m.1-39.4h0m.8 39.7h0m.7-41.4h0m.1-9.4h0m.6 47h0m.8-40.7h0m.1-18.5h0m.1 4.6h0m.2 51h0m1.2-1.4h0m.3-.6h0m1-121.8h0m.1-28.4h0m0 19.9h0m0 6.4h0m.1-26h0m.6 146.7h0m.1 .5h0m.1-119.9h0m1.2 5.5h0m.3 112.3h0m1.4-105.5h0m.1 107.8h0m1.4-110.9h0m.5 111.9h0m.9-115.2h0m.3 119.8h0m.4-1.1h0m.3-99.5h0m.1-41h0m0 7.3h0m0 5.2h0m.7 33h0m0 100.2h0m.6-74.8h0m.9 5.7h0m.3 2.1h0m.1 69h0m.1-63.5h0m.6 10.4h0m.1 4.5h0m.4 50.3h0m.2-1.1h0m.7-50.6h0m.2 51.5h0m.2-50.3h0m.4 53.5h0m.2-.5h0m.4-2h0m0-50.9h0m.4 50.1h0m.3-41h0m.7-6.1h0m.5 46.6h0m.3-49.4h0m.7-1.1h0m0 47.9h0m.9-50.5h0m1 7h0m.2 41.2h0m.3-51.3h0m.5-7.5h0m.1 6.9h0m.4-4.2h0m.5 52.9h0m0-1h0m.6-3.6h0m1-59.3h0m.1-10.2h0m.6-8.4h0m.6 4.2h0m.3 73h0m.2-134.6h0m0 4.1h0m0 28.3h0m.6 13.8h0m.4 89.1h0m0 1.5h0m.6-81.1h0m.6 .5h0m.1-10.4h0m.3 89.3h0m.8-74.1h0m0 75.6h0m.5-73.8h0m0-11.2h0m.2-26h0m.4 36.3h0m0-29.5h0m.2 26.7h0m.5-12.2h0m.2 90.5h0m.7-86.5h0m.3-5.1h0m.2 .2h0m0 95.6h0m.4-2.6h0m.6-97h0m0 94.8h0m.1-77.2h0m.2 78h0m.1-90.5h0m.9 86.6h0m.4-97.6h0m0-4.1h0m.1 18.3h0m.3-15.3h0m.8-25.8h0m.8 4.8h0m.3 115.4h0m.2-132.8h0m.8 131.1h0m.4-144.2h0m.6-41.9h0m.8-.9h0m.3 192.1h0m.3 4.3h0m1.2-1.1h0m.6-122.8h0m.5-9.1h0m.3 134.5h0m.2-122.5h0m.6 17.9h0m.2 26.7h0m0 79.8h0m.6-86.1h0m.1 85h0m1-64.5h0m.1 64.6h0m.2-81.7h0m.1 6.6h0m.4 9.8h0m.1-16.9h0m.4 84.6h0m.6-65.3h0m.2 63.5h0m.6 3.6h0m0-67.6h0m.4 .1h0m.3-8.9h0m.1 73.7h0m.1-61h0m.3 59.8h0m.1 .1h0m0-64.2h0m.1-15.3h0m.4 20.4h0m.7-13.8h0m.3 74.1h0m0-66.5h0m.3 64.2h0m.2-61.4h0m.7 61.1h0m.7-91.4h0m.2 10.1h0m0 81.8h0m.5-77.3h0m.2 73.9h0m.3-124h0m.2 5.8h0m.2 118.2h0m.4-170.4h0m0 8.2h0m0 7.1h0m0 5.1h0m0 3.8h0m.1-24.2h0m0 8.1h0m0 7.4h0m0 4.9h0m0 7.3h0m.1 138.6h0m.1 3.2h0m1-118.5h0m.7 4h0m.5 107.5h0m.1 1.2h0m.5-106.5h0m.1-16.6h0m.4 121.4h0m.6-118.7h0m.2 119.8h0m.6-99.9h0m.6-33.5h0m0 4.8h0m0 126.4h0m.2-110.4h0m.2-7.3h0m.2 119h0m.5-94.3h0m.2-5.3h0m.2 97.7h0m.4-104.4h0m.1-16h0m.2 34.8h0m.7-4.2h0m.2-6h0m.1 99.5h0m1.4-106.2h0m.1 15.5h0m.4 98.4h0m.8-115.2h0m.2 117.2h0m0 1.8h0m.1-117.4h0m.3 9.2h0m.3 111.1h0m.1-82.8h0m.5-9.8h0m.1-43.4h0m0 6.4h0m.3 30.9h0m.5 25.6h0m.1-11.1h0m.5 84.1h0m0 .9h0m.4-77.2h0m.4 14.5h0m.8-8h0m0 73.7h0m0-1h0m.2-59.4h0m.5 60.5h0m.5-63.2h0m.2-5.5h0m.3 5.7h0m1 5.9h0m.4 59.9h0m.1-62.6h0m.1 61.6h0m.3 0h0m1.3-76.6h0m.1 4h0m0 74.3h0m.5 .6h0m.1-1h0m.2 2.3h0m.2-76.7h0m0 5.7h0m.8 67.2h0m.2-65.1h0m.3-8.3h0m.5 73.1h0m0-63.7h0m.3-57.6h0m.3 121.4h0m.9-110.7h0m.3 3.5h0m0-68.4h0m.6 170.2h0m.8-176.3h0m.5 0h0m.2-2.4h0m.4 178.2h0m.6-159.9h0m.1-26.4h0m0 9.2h0m.4 178.1h0m1.9 5.8h0m0-171.6h0m.4 170.2h0m.2-105.1h0m.2-19.9h0m.1 123.1h0m.1-94.8h0m.9-22.2h0m.1-60.2h0m.3 94.8h0m.2-94.4h0m.2 80.7h0m.1 94.7h0m.2-89.6h0m.8 89.9h0m.1-90.5h0m0 10.9h0m.2 78.5h0m.4-75.8h0m1 5.6h0m.3 71.2h0m0-78.3h0m.2 7.5h0m1.1-7h0m.1 79.1h0m.1-91.3h0m.3 88.7h0m0-70.9h0m.6-22.9h0m.1 27h0m.2-6.4h0m.4 73.9h0m.1-80.9h0m.8 81.8h0m0-71.1h0m.3 70h0m.2-82.2h0m1 85.5h0m.1-81.1h0m0 77.7h0m.4-88.6h0m.5 15.8h0m.4-9h0m.3 80.2h0m0-80.3h0m.3 80.1h0m0-101.7h0m.4 117.4h0m.9-16.4h0m.4-120.2h0m.1 3.4h0m0 118h0m.2-130h0m.9 127.9h0m.7-174.9h0m.1-98.7h0m.1 269.7h0m.5 .5h0m.4-271.1h0m.1-130.1h0m0 19.8h0m0 9.1h0m0 22h0m0 1.7h0m0 11h0m0 6.9h0m0 47.7h0m0 6.1h0m.5 103.2h0m0-154.6h0m0 14.7h0m0 10.3h0m.1 300.9h0m.2-294.5h0m.2-13.7h0m.5 308.3h0m.5-97h0m.7-2.4h0m0 104.2h0m.3-105.3h0m0 104.9h0m.6-75h0m.4 80.6h0m.4-71.9h0m.1 73.1h0m.1-89.5h0m.3 10.7h0m.1 2.2h0m.3 79.7h0m.1-.6h0m.1-63.7h0m.9 5.2h0m.2 61.1h0m.2-62.9h0m.1 62.8h0m.3-81.5h0m.3 83.9h0m.7-66.5h0m.4 2.8h0m0 60.8h0m.3-64.5h0m.3 63.7h0m.3 .1h0m.1-67.8h0m.8 2.9h0m.1-6.2h0m.1 74.7h0m.3-2.3h0m.4-1.2h0m.2-64.5h0m.1-39.8h0m0 6.8h0m.1 17.5h0m.8 80h0m.7-82.6h0m0 14.4h0m.2 70.1h0m0-87h0m.7 84.7h0m.6 3.9h0m.3-79.5h0m0 8h0m.1-25.2h0m.8 94.3h0m.6-82.4h0m.2-7.2h0m.1 8.3h0m.5-28.5h0m.2-12.8h0m.3 121.4h0m.1-108.6h0m.3 10.5h0m.6-47.3h0m.3-9.6h0m.3 150.3h0m1-8h0m.1-188.8h0m.1-24.1h0m.5-50.5h0m0 19.1h0m.5 7.8h0m.2 2.5h0m.1 229.6h0m.4-208.3h0m1.5 206.9h0m.4 .7h0m.1-207.8h0m.9 4.6h0m.3 202.3h0m1.1-.4h0m.1-178.5h0m.2 179.5h0m.7-98.7h0m0-10.9h0m.5 112.5h0m.4-2.2h0m.1-101.3h0m.1-.8h0m.2 101.2h0m.1 3.5h0m.9-88.9h0m.1 86.1h0m0-86.6h0m0-18h0m0 13.8h0m.7 1.5h0m.3 103h0m0-98.5h0m.6 85.6h0m.1-2.5h0m0-75.3h0m1-8.1h0m.2 6.1h0m.2 76.1h0m0-72.7h0m.6-1.2h0m.2-1.6h0m.1-1.2h0m.1 78.7h0m1.4-79.1h0m.2 74.7h0m0 .9h0m.7-70.3h0m.3-7h0m.1-14.4h0m.5 93.1h0m.3-2.8h0m.2-93.7h0m1.3 7.5h0m0 86.2h0m.1-79.6h0m.1 80.3h0m.1-93h0m0-2.3h0m.2-2h0m.5 95.3h0m.2-117.8h0m.1 20.1h0m.5 3.2h0m.1 1.4h0m.3-44.8h0m0 8.2h0m0 7.2h0m.5 124h0m.2-97h0m.3 99.2h0m.2-2.5h0m.1-180.9h0m0 15.7h0m0 8.8h0m0 7.1h0m0 10.5h0m.1 50.1h0m.1 89.1h0m0-96.1h0m.1-85.2h0m0 15.2h0m0 8.2h0m0 7.1h0m.1 62.1h0m.9 .2h0m.1-12h0m.1 98.9h0m0-1.7h0m0-89.5h0m1.3 86.4h0m.1-103.6h0m.5 .6h0m.2 103.7h0m.2 7.5h0m.3-103.9h0m.4 6.5h0m.1-2.2h0m.2 90h0m.3-88.5h0m.8-38.5h0m.5 15.1h0m0 108.5h0m.2-266.3h0m0 6.1h0m.2 149.7h0m.2 110.5h0m.1-276.8h0m0 38.7h0m0 135h0m.8-185.2h0m0 6.1h0m.4 280.5h0m0-134.1h0m.4-5.2h0m0 8.7h0m.1 5.1h0m.1 121.2h0m.4 3.1h0m1.5-223.9h0m.2 218.2h0m1.6-213.2h0m0 209.8h0m.9-327h0m.3 50.6h0m.2 277.2h0m.5-317.5h0m0 19.6h0m0 4.9h0m.1 16.3h0m.1-35.9h0m.5-11h0m0 14.7h0m0 25.7h0m0 285.1h0m.4-218.6h0m.2 219.3h0m1.3 9.3h0m0 .3h0m0-2.3h0m0-226.9h0m1.1 7.7h0m.2-56.8h0m.6 284.3h0m.2-1h0m.6-137h0m.2-11.6h0m.1-96.7h0m.2 260.2h0m.2-148.5h0m.1-8.3h0m.1 7.7h0m.1 28.8h0m.2-19.6h0m.1 27h0m.4 121.9h0m.4-153.7h0m.1 153.5h0m.4 4.9h0m.8-105.6h0m0 6.4h0m.4-10.8h0m.8 16.9h0m.3 95.4h0m.2-77.5h0m0-2.1h0m.6-10.6h0m.1 10.4h0m.1 80.2h0m.8-69.9h0m.6 70.5h0m0-.4h0m.1-77.1h0m0-.5h0m.3 9h0m.9 70h0m0-84.2h0m.1 11.8h0m.1-.8h0m.9 72.6h0m.6-79.8h0m.1-6.9h0m.5 83.6h0m.3-.1h0m.1-86.8h0m.9 86.8h0m.2 3.2h0m.3-121.9h0m0 14.2h0m0 3.7h0m.5 101.1h0m.2-98.9h0m.9-44.3h0m0 6.1h0m0 6.2h0m.1 131h0m.3-72.9h0m.5 7.6h0m.4 65.4h0m.9 .1h0m.5-68.5h0m.1 69.7h0m.1-68.5h0m.2 10.7h0m.2 58.7h0m.5-61h0m.2 .9h0m.1 61.2h0m.4 1h0m.1-63.8h0m.1 62h0m.7-67.7h0m.1 68.9h0m0-66.7h0m1.7 62.1h0m.2-58.4h0m.2-3.8h0m.3 61.2h0m0-58.5h0m.4-11h0m.8 68.5h0m.3-83.5h0m.2-3h0m.1 16.9h0m.4 68.9h0m.3-1.7h0m.5-2.6h0m.1-98.5h0m.3-1.9h0m.4-30h0m0 6.1h0m0 4.8h0m.3 119.5h0m.2-2h0m0-90.7h0m.1-3.1h0m.7-6h0m1 12.4h0m.4 86.2h0m0-3h0m.5-89h0m.3 2.6h0m.2 86.7h0m.1-115.3h0m.1-3.8h0m1 23h0m.7 98.3h0m.8-.9h0m.1-143.6h0m0-26.2h0m0 18.1h0m.1-43.4h0m0 3.6h0m0 3.7h0m0 3.7h0m0 3.6h0m0 7.4h0m0 4.9h0m0 6.1h0m0 2.4h0m0 7.4h0m0 4.9h0m.1-11.2h0m0 11.3h0m.2-33.8h0m0 5.1h0m0 23.6h0m.2 5.5h0m0-17.8h0m.2 168.3h0m.3 0h0m1.6 1.4h0m.2-147.3h0m.2 149.9h0m0-.2h0m.5-88h0m.3 .6h0m.5-6.8h0m.6 4.4h0m0 8.7h0m.3-1.7h0m.6 84.8h0m1-77.9h0m.2 77.2h0m.2-73.9h0m.2-8.2h0m.1 1.4h0m.1 6.8h0m.3 76h0m.3-97.6h0m1 96.5h0m.4-77h0m.1-5.9h0m0 6.4h0m.1 80.6h0m.7-99.6h0m.3 .2h0m.1-14h0m.2 16.5h0m0 94.6h0m.8-140.7h0m.3 1.3h0m.4 137.1h0m0-.1h0m.8-150.6h0m.3 150.7h0m.1-.4h0m1.5 1.3h0m.2-152.5h0m1.2 156h0m.6-150.4h0m.1 148.1h0m.5-158.7h0m.1 1.8h0m.1 158.9h0m.4-131.9h0m.1-3.4h0m.8 1h0m0 36.5h0m1.2-1.5h0m.1 4h0m.1-2.3h0m0 98.8h0m0 .1h0m.1-90.7h0m.1 92.9h0m.1-1.7h0m0-89.7h0m.2 89.7h0m.6-88.4h0m.1-1.9h0m.9 9.1h0m.1 78.7h0m.4-84.1h0m.3 7.6h0m.1 75.9h0m.2-74.1h0m.5-21h0m.4 4.5h0m.4 89.1h0m.8-85h0m.1 83.9h0m.2 1.1h0m.4-81.4h0m0-5.5h0m.4-15.9h0m.1 20.6h0m.4-15.2h0m0 97.9h0m.4-91.1h0m.4 92h0m.6-2.2h0m0-188.9h0m0 2.4h0m0 6.1h0m0 2.5h0m0 6.1h0m0 4.2h0m0 10.5h0m.1-30.6h0m0 7.1h0m0 6.2h0m0 6.1h0m0 11.3h0m0 5.1h0m0 6.2h0m0 12.2h0m0 6.2h0m0 10.2h0m0 10.3h0m0 4.8h0m.2 23.7h0m.5-6.3h0m.4 12.4h0m.2 73.2h0m.5-69.8h0m1 1.7h0m.2 69.6h0m.4-62.9h0m.4 64.4h0m.4-65h0m.2-7.2h0m1.9 73.9h0m0-57.1h0m.1-7.6h0m.6 11.4h0m.5-5.4h0m.4 59.8h0m.5-33.2h0m.3 36h0m.4-36h0m.1 37.6h0m.2-3.1h0m1 .8h0m0 .1h0m.3-29h0m.8 9.8h0m.6 19.3h0m.3-.5h0m.8-17h0m.9 16.6h0m1-14.9h0m.2 15h0m1 .5h0m0-14.7h0m1.8-1.2h0m.2 15.1h0m.1 2.2h0m.1-2h0m1.2-13.4h0m.5 14.7h0m.9-2.2h0m.2-26h0m1 27h0m.3-34.4h0m.6 35.6h0m.1-40.6h0m.5 4h0m.1 38h0m.2 .2h0m.8-37.9h0m.1 37.4h0m.2 2.7h0m.3-3.5h0m.7 .1h0m.1 0h0m.4-47.1h0m.6-1h0m.6 42.4h0m.4-.1h0m.2-45.5h0m.2-14.6h0m.1 14.1h0m.7 6h0m.2 1.5h0m.9 37.5h0m.3-38.5h0m.9 36.2h0m.2-42.3h0m.6-1.6h0m.1 44.1h0m.3-.9h0m.1-38.4h0m.8 4.3h0m.1 36.4h0m.5-38.1h0m.8-12.9h0m.3-4.4h0m.6 52.5h0m.4 .3h0m1.1-3.4h0m0-50.7h0m.3-1h0m.9-18.4h0m.3 2.4h0m.2 67.6h0m0-61.9h0m.3-13.3h0m.1 78.4h0m.5-2.9h0m.1-99.7h0m.1 11.2h0m.3 6.6h0m.5 82.6h0m.1-81.3h0m.3 83.5h0m0-89.6h0m1.1 88h0m.2 3.1h0m.7-89.5h0m0-3.4h0m.1 14h0m.8 2.7h0m.6 73.4h0m.3-79.9h0m.1 78.8h0m0-77.1h0m.2 4.7h0m.1-17.5h0m.1 11h0m.9 78.3h0m.1 1.1h0m.2-81.4h0m0 79.9h0m.4-90.8h0m.5-16.6h0m.3 107.8h0m.2-84.2h0m.5 84.4h0m.7-88.6h0m0 10.7h0m.1 .9h0m.1 77.3h0m.1-84.8h0m.2 4h0m.5 83.7h0m.1-94.8h0m.3 95.9h0m.2-1.5h0m0-100.4h0m.4 1.8h0m.5 96.8h0m.3-93.3h0m.3 2.4h0m.3-26.5h0m.2 11h0m.3-17.3h0m.2 124h0m0-1.1h0m.5-111.7h0m.7 110.8h0m0-122.5h0m.2-6.2h0m.3-19.3h0m.4 144.2h0m0-283.9h0m.2 155.8h0m.5-136.2h0m.3 264.6h0m0-208.7h0m.2-79.2h0m0 17.1h0m.8-82.7h0m0 2.5h0m0 7.3h0m0 8.1h0m0 14.7h0m0 20h0m.1 299.2h0m.9-244.4h0m.3 245.6h0m.9-245h0m.7-46.6h0m0 9.1h0m0 6.1h0m.3 282.7h0m.2-272.9h0m.6 269.7h0m.2-151.3h0m.7-8.8h0m0 164h0m.7-170.4h0m.1 170.4h0m.7 1.9h0m.1-128h0m.5 11.5h0m.1-1.5h0m0 118.1h0m.1-140.7h0m.3 45.6h0m.1 99.2h0m.1-119.4h0m.3 117.3h0m0-1.5h0m.4-101h0m.2-17h0m.4 119.1h0m.1-79.5h0m.7-22.9h0m0 20.5h0m1-13.7h0m.3 94.8h0m.1-92.3h0m.3-1.9h0m.3 22.2h0m.4-7.6h0m.2 80.1h0m.4-78h0m.5 80.9h0m.6-86.8h0m0 86.1h0m.2-78h0m0-2.4h0m.9 3.6h0m.1 78.6h0m0-112.4h0m.1 18.5h0m.4 94.7h0m.2-98.2h0m.5 13.8h0m.2 86.6h0m.3-121.3h0m0 41.1h0m.6-8.9h0m.7 25.5h0m.1-2.9h0m.1 68.2h0m.4 0h0m.1 3.3h0m.2-73h0m.9-3.4h0m.3-8.7h0m.3 81h0m0-65.2h0m0 67h0m.4-4.7h0m.1-.1h0m.4-79.3h0m.2 16.2h0m.4 5.9h0m.3-8.2h0m.2-10h0m.4 72h0m.2-57.8h0m.5 57.5h0m.2-1.8h0m1-68.2h0m0 2.9h0m.4 65.3h0m.9-67.7h0m0 66.8h0m.2-.2h0m.2-64.8h0m.2-22.6h0m.2 87.7h0m.3-82.5h0m.5-7.3h0m.1 91.1h0m.5-99.4h0m.8 28h0m.4 71.6h0m.2-90.7h0m.2 1.4h0m.1-8.8h0m.1 100.4h0m.8-93.5h0m.2 95.9h0m.2-105.2h0m.3 102.6h0m.1-167.7h0m0 5.2h0m0 6.1h0m0 9.2h0m0 7.2h0m0 6.1h0m0 12.3h0m.1-46.1h0m0 3.6h0m.2 80.8h0m.1-15.4h0m.8 12.6h0m.3-29.3h0m.2 25h0m.2 88.1h0m.5-84.4h0m.4-24.2h0m.1 16.3h0m.3 90.8h0m.1 1.2h0m.2-88.1h0m0-6.2h0m1.1-7.6h0m.2 100.4h0m0-1h0m.4-89.4h0m.1 8.9h0m.4 79.6h0m.1-80.8h0m0-4.6h0m.2-3.9h0m.2 89.9h0m.3-81.9h0m.6-2.8h0m0 83.8h0m.2-92.3h0m.3-13.8h0m0 2h0m.8 106.5h0m.4-101.8h0m.6 1.3h0m.1 97.8h0m.1-94.7h0m0-48.9h0m.2 142.5h0m.2 .9h0m.2-113.3h0m.9 1.3h0m.1-2.8h0m.2 116.8h0m.2-2.3h0m.7-.2h0m.7-176.3h0m.1 9.3h0m.1 169.4h0m.1-180.2h0m.2-2.2h0m.5-2.5h0m0 17.2h0m0 3.6h0m0 8.6h0m.1-29.8h0m0 5.8h0m0 11.6h0m0 4.1h0m.4 5.9h0m.9 157.2h0m0 .8h0m.9 2.8h0m.1-116.4h0m0 116h0m.6-112.6h0m.1-3.3h0m.7 117.5h0m0-74.7h0m.7 72.7h0m.3-93.9h0m.1 22h0m.6 21h0m0-4.9h0m.3-8.6h0m0 66h0m.1 .5h0m.8 .5h0m.4-53.4h0m.1 2.1h0m.4 52.3h0m.3 2.9h0m.9-55.1h0m.1-18.1h0m.2 70.2h0m1.2-59.6h0m.3-2.4h0m.3 60.1h0m.2 1.2h0m.1-54.3h0m.1 52.6h0m1-50.4h0m.5 50.9h0m.1-80.3h0m0 9h0m0-3.7h0m1.1 73h0m.1-80.2h0m.2 78h0m.2-77.1h0m.5-14.9h0m.9-6.9h0m.7-7.6h0m.1 105.4h0m.1 1h0m.1-99.6h0m.8-22.1h0m.1 16.9h0m.2 .2h0m.2 106.1h0m.4 2.2h0m.4-124.6h0m.2 126.7h0m.5-123h0m.5 123.3h0m.2-114.9h0m.8 112.6h0m.1-126.5h0m.1 .7h0m.5 23.3h0m.1 99.6h0m.1-127h0m.3 126.9h0m.2-104.3h0m.4 3.3h0m.1 .4h0m.4-7.2h0m.9 106.4h0m0-113.4h0m0 14.2h0m0 100.6h0m.2-4.1h0m.1-133.7h0m.1 25.9h0m.2-47.5h0m.3 156.9h0m0-114h0m0-43.4h0m0 14.4h0m.4 39.9h0m.3-45.1h0m.1 142.8h0m.2-118.8h0m.3 18.4h0m.2-14h0m.1 112.6h0m.4-101h0m.3-33.1h0m.3 17h0m.5-.7h0m.4 12.8h0m.1 103.7h0m.3-3.1h0m.1-104h0m0 2.2h0m0-26.9h0m1 130.7h0m.1-125.2h0m.2-23.4h0m.3-8.6h0m.7-.5h0m.1 156.9h0m.5-190.4h0m.2 191.9h0m.2-190.8h0m.5-37.9h0m0 9.8h0m0 9h0m0 6.9h0m0 8.5h0m0 7.4h0m0 4.9h0m0-10.6h0m.2 193.8h0m.4 .3h0m2.3 2.1h0m.2-153.6h0m.3 153h0m0-121.4h0m.1 126.4h0m.1-111.6h0m.8-2.7h0m.3 112.3h0m.6-83.6h0m.3-13.6h0m.4 96.9h0m0-95.7h0m.8 41.2h0m.1 58.1h0m.8-57.1h0m0 55h0m.3-47.3h0m.1 51.7h0m.4-51.5h0m.2 49.7h0m0-46.9h0m1.3 53.2h0m.6-50.1h0m0-10.5h0m.1 59.8h0m.1-49.3h0m.1 52.9h0m.2-60.3h0m.3 4.3h0m.5 53h0m.5-56.2h0m.6 2.6h0m.2-.5h0m.1 51h0m.2-.1h0m.5-92.7h0m.9-6.3h0m.1 10.8h0m.3 85.7h0m0 1.5h0m.2-149h0m.3-3.9h0m.1-106.2h0m0 25h0m0 7.3h0m0 6.1h0m0 9.1h0m0 8.1h0m.1 199.7h0m.5 0h0m.4 1h0m.2-177.4h0m1.6-13.9h0m.3 193.3h0m0-245.6h0m0 3.7h0m.1 242.8h0m.4-230.5h0m0 38h0m.4 188.5h0m.9-194h0m.1 195.2h0m.8-161.3h0m.6 161.2h0m.2-1.1h0m.3-166.1h0m.2 166.8h0m.4-138.2h0m0-5h0m.5 12.2h0m0 130.5h0m0-121.3h0m.5-20.2h0m.1 29.6h0m.2 113.3h0m.2-131.6h0m.3 15h0m0 4.6h0m.7 113.8h0m.7-110.1h0m.2-25.9h0m.1 17.5h0m.2-13.7h0m.4 135h0m.2-129.9h0m0 128.7h0m.4-125.8h0m.3-.6h0m.4 15.3h0m.6-20.6h0m.3-4.6h0m.4 139.3h0m0-.3h0m.1-107.6h0m.1-10.9h0m1 120.5h0m.1-105.3h0m0-13.9h0m.4 14.6h0m0 106h0m.1-116.5h0m.3-33.5h0m.2-24.7h0m0 3.4h0m.1 171.4h0m0-159.5h0m.1 19.1h0m.4-42.3h0m0 .1h0m.3 27h0m0 157h0m.3-152h0m.3 152.1h0m.1-283.3h0m0 8.1h0m0 12h0m0 19.1h0m0 24.9h0m0 25.2h0m.1 52.1h0m.1 3.9h0m.2-56.4h0m0 198h0m.1-2.8h0m.2-371h0m0 5.4h0m0 3.2h0m0 25.7h0m0 38.4h0m0 3.2h0m.3 40.1h0m0 18.1h0m0 44.6h0m.3 45.7h0m0 16.5h0m.2 129.4h0m.2-144.2h0m.4 7.9h0m.6 12.7h0m.2 123.1h0m.5-164.2h0m0 8.5h0m.3 29h0m0-3.6h0m.1 130.1h0m.5-128.3h0m.1-11.1h0m.1 5.7h0m0-1.6h0m.7 135.2h0m.4-152.5h0m.1 12.5h0m.1-14.7h0m.6 153.5h0m.1 .2h0m.2-143h0m.5-18.3h0m.2 164.8h0m.5-1.2h0m.2-155.5h0m0-3h0m.3 158.6h0m.8-177h0m.2 17.5h0m0 4.1h0m.8 22h0m0 134.1h0m.1-.7h0m.4 2.9h0m0-113.4h0m.5-18.2h0m.1-8.1h0m1.2 39.5h0m.2 95.1h0m.1-104.7h0m.1 5.8h0m.1 96.5h0m.1-115.6h0m.1 113.8h0m.9-99.3h0m.2-14.1h0m0-7h0m.2 24.5h0m0-2h0m.4-14h0m.2 108.3h0m.2 .5h0m.2-84.8h0m1-13.5h0m0 97.3h0m.2-.1h0m0-106.6h0m.1-5.9h0m.8 107.7h0m.7-93.3h0m.1-16.3h0m.5 13.1h0m0-50.4h0m0 7.2h0m0 7.1h0m0 7.9h0m1 20.5h0m.1 4.3h0m0 99.3h0m0-.4h0m.2-102.4h0m.5-5.7h0m0 6.8h0m.1 102.1h0m.8-82.8h0m.3 83.6h0m.5-99.6h0m.5 21.2h0m.1 80.1h0m.2-94.7h0m.6 94.3h0m.9-72.5h0m.1-6.9h0m.1-13.2h0m0 19.7h0m.5 2.3h0m.1-10.7h0m0 85.4h0m1-73.7h0m.1 5.9h0m.2-7.2h0m.6 75.9h0m.8-69.2h0m.2 68.1h0m.5-87.2h0m.3 9.6h0m.3 4.9h0m.6-9.7h0m.4 83.8h0m.1-89h0m1.1 14.4h0m.2 74.6h0m.1-83.7h0m.4 6.4h0m.1 1.9h0m1.1-9.1h0m0 85.7h0m.3-79.9h0m.4 80.7h0m.4-88.7h0m.1-.8h0m.1-11.6h0m0 101.6h0m.4-140.6h0m0 143h0m.5-3.9h0m.2-117.7h0m0 120.3h0m.1-113.8h0m.4-5.8h0m.7-8.8h0m.4-5.9h0m.8 130.6h0m.1-126.5h0m.3 2.7h0m.1 121.1h0m1.1 .4h0m.4-129.7h0m.2 130.6h0m1.3-124.8h0m.4-9.3h0m.4 138.6h0m.1 3.2h0m.1 2h0m.1-154.4h0m.7 153h0m.4-88.4h0m0-3.4h0m.2-10.4h0m.1 .9h0m.2 18.5h0m.2 86.4h0m.1-80.1h0m.9 79.8h0m.3-82.3h0m.2 84.1h0m.2 2.7h0m.2-3.1h0m.1-95.3h0m.2 11.5h0m.5 1.3h0m.1 2.2h0m.5-12.6h0m.1 92.2h0m.3 .2h0m.5-111.2h0m0 9.9h0m.1-3.6h0m.8 102h0m.2 .4h0m.3-87.5h0m0 88h0m.4-79.6h0m.7-3.3h0m.1 4.3h0m.4-19.2h0m.1 93h0m.4 .1h0m.6-95.5h0m.2 16.9h0m.3-8.7h0m.4-11.5h0m.4 97.5h0m.1-83.6h0m.3 83.4h0m.5-89.2h0m0-2.8h0m.3 93h0m.7-90.7h0m0-8.9h0m.2 8.5h0m0 91.2h0m.4-91.3h0m.1-3.6h0m.8 3h0m.3-31.1h0m.6 126.1h0m.1-117.6h0m.1 117.2h0m.3-158h0m.2 35.8h0m.2 6.7h0m.2 116.6h0m0 .2h0m.9-131.2h0m.1 .2h0m.6 13.6h0m.1 10.3h0m.1-18.3h0m.4 126.7h0m0-1.7h0m.2-108.3h0m.3 2.7h0m.3 107h0m.6-122.2h0m.3 13.6h0m.1-23.9h0m.7 131.9h0m.1-107.4h0m.3-3.4h0m.2 6.5h0m.1-.2h0m.2-31.3h0m.1 24.9h0m.1 111.9h0m.3-116.4h0m0 7.5h0m.1 111.8h0m.5-2.1h0m1-138.9h0m0 139.4h0m.1-139.1h0m0 10.6h0m.2-12.5h0m.9-8h0m.2-2.9h0m.1 147.3h0m.6-162.9h0m.1-4.9h0m.1 166.4h0m.2-179.1h0m.4 177.6h0m0 .2h0m.3-178.6h0m.2 14.6h0m.1-2h0m.5-49.1h0m.3 213h0m.1-272.8h0m0 7.6h0m0 21.2h0m.3 245.7h0m.2-228.5h0m.3 40.2h0m.1 2.2h0m.1-53.4h0m0 4.1h0m0 8.1h0m0 8.6h0m.8 215.5h0m1.4 .4h0m.3-211.9h0m.3 11.9h0m.1 200.2h0m.7-190.9h0m.4 193.9h0m.1-195.9h0m.4 194.9h0m0-167.9h0m.5-1.4h0m.4 173.5h0m0-165.5h0m0-8.5h0m.5 171.4h0m.2-144.4h0m.1 143.1h0m0-153.8h0m.1-8.3h0m1 13.9h0m.1 19h0m.1 129h0m.1-136.8h0m.3 19.4h0m.2-34.4h0m.7 32.7h0m.1 116.9h0m.4-1.8h0m.1-110.6h0m0-2.6h0m.1 3.2h0m.8 3.6h0m0 106.8h0m1-116.5h0m.1 117.2h0m0-109.7h0m0 1.3h0m.2 105.8h0m.9-.2h0m.2-121.1h0m.3 7.2h0m.4 114.4h0m.3-89.3h0m0-.5h0m.4 91.5h0m.2-94.6h0m.1 94h0m.1-104.3h0m.8 105.7h0m.1-76.9h0m.4 11.7h0m.2-15.2h0m.7 82.2h0m.7-72.3h0m0 72.3h0m.5-65.9h0m.4-10.1h0m.9 79.9h0m0-79.1h0m.2 77.3h0m0-73h0m.3 10.2h0m0 4.2h0m1 62.4h0m.2-64.3h0m0 61.6h0m.6-59.1h0m.1-8h0m.8 67.6h0m.3-71.6h0m.5 74.4h0m.7-75.8h0m.7-12.5h0m.7 86.9h0m.1-80.1h0m.1 81h0m.3-96.4h0m1.2 96.4h0m0-82.1h0m.1 85.4h0m0-58.3h0m.1-5h0m.4 60.5h0m1.7-63.8h0m.3 65.5h0m.1-62h0m.2 1.4h0m.7 15.2h0m0-14h0m.7 61h0m.1-3.7h0m.6 .9h0m.2-48.3h0m.7 1.3h0m.4 48h0m.1-1.1h0m0-41.7h0m.4-11.2h0m1.2 10.9h0m.5 42.9h0m.1-47.1h0m.8-1.1h0m.4 50.5h0m.1-57h0m.7-4.1h0m.5 4.7h0m.6 57.3h0m.4-55.8h0m.8 53.8h0m.2-58.9h0m.3 59.4h0m1.1-68.6h0m.1 68.9h0m0 .1h0m.2-60.5h0m.4 60.7h0m.4-74.6h0m.6 76.7h0m0-93.4h0m0 95h0m.3-65.5h0m0-23.2h0m.9 87.2h0m.4 .8h0m.1-86.9h0m.3 83.2h0m.5 1.7h0m.2-67.2h0m.6-8.6h0m.2 74.2h0m0-68.7h0m.6 10.2h0m.6 58.7h0m.9-1.6h0m.2 1.1h0m.5-53.5h0m0-4.2h0m.6 8.6h0m.1 48.3h0m0-52.8h0m.3 53.8h0m.9 .5h0m.2 .8h0m.1-55.5h0m.2 6.5h0m1.4-.6h0m.1 51.1h0m.1-56.1h0m.6-.8h0m.6-.4h0m.3 59.1h0m.4-59.5h0m.5-5.9h0m.6 .1h0m.2 63.7h0m.6-.2h0m.8-59.4h0m.3-1.4h0m.2 8.6h0m.3-7.7h0m0 60.7h0m.5-.3h0m.2-71.4h0m.8 74h0m.2-42.9h0m.1-4h0m0 48.5h0m.5-2.1h0m.3-45h0m.7 44h0m.4 .5h0m.3-42.6h0m.3 41.6h0m.2-41.3h0m0 42.2h0m.5-36.9h0m1.3 2.7h0m.6 32.9h0m.4-34.8h0m.3-11.7h0m.2 46.5h0m.8-43.3h0m.3-7.8h0m.6 10.5h0m.4 40.2h0m.2-.4h0m.2-33.2h0m.3 33.2h0m1-42.2h0m.7 9.5h0m.7 34h0m.3-30.6h0m.2 1.4h0m.2 29.6h0m1.2-1.8h0m0-31.5h0m1.2 34.1h0m.6-31.6h0m.1 29.3h0m0-30.5h0m1.3-9.7h0m.3 40.2h0m.6-34.7h0m.2 9.3h0m.8-6.9h0m.5 32h0m.4-28.4h0m.1 30.4h0m1-1.8h0m1.1 .6h0m.1-31.2h0m1-4.9h0m.5 35.6h0m.1 .1h0m.4 1.2h0m1.1-41.6h0m.1 1.8h0m.7 39.4h0m.3-45.2h0m.6 .4h0m.6 3.1h0m.3-.5h0m.5 41.9h0m.2 .9h0m.5-43.3h0m.8-2.3h0m.1-9.5h0m.1 52.8h0m.5-40.4h0m.3 1.6h0m.7 40h0m0-.2h0m.1-33.3h0m1 1.2h0m.4-4.6h0m.1 36.7h0m.6-29.6h0m.1 29.8h0m.8-29.2h0m.5 4.5h0m.9 25.8h0m.5 2.1h0m0-30.2h0m.5 28.2h0m.8-29h0m0 28.6h0m0-.2h0m1.7 .3h0m.5-41.6h0m.1-.1h0m.4 40.9h0m.2-32.8h0m.3-19.2h0m.3 52.2h0m.2-34.6h0m.5 12.3h0m.6 21.8h0m.7 .6h0m.5 .7h0m.1-.8h0m1-20h0m1.3 19.9h0m.1 .4h0m.2-14h0m.2 13.8h0m.5-15.2h0m1.1 15.1h0m.2-12.9h0m1 13.1h0m.1-.3h0m.3-.1h0m.3-20.3h0m.9 21.4h0m.7-20.2h0m0-2.2h0m.3 21.2h0m.6-27.5h0m.3-4.3h0m0 32.1h0m.9-40.9h0m0 40.8h0m.6-27.7h0m.5 .3h0m.2 27.6h0m.3-.1h0m.6-22.4h0m0-3.3h0m.7 26.3h0m.2 2.3h0m.1-27.9h0m.9 25.3h0m.9-24.5h0m.6 25h0m.3-21.9h0m.3 21.4h0m.1 .3h0m.7-19.2h0m.3-1.1h0m.5 19.8h0m.8-16.4h0m1.3 16.1h0m.5-20.2h0m.5 19.9h0m.1-28.9h0m.9 30.5h0m1.1-1.6h0m.5-40.2h0m.7 42h0m.1-75h0m.1 74.8h0m.1-68.5h0m1.6 68.2h0m.1-37.5h0m1.2 36.7h0m.2-21.4h0m.3-.8h0m1.1 5.2h0m.5 18.3h0m.1-13.1h0m.5 13h0m1.7 .1h0m.3-10.4h0m.6 11.3h0m.9 1.7h0m0-14h0m.3 12.1h0m.6 .7h0m1.1-14.1h0m0-5h0m.2 3.9h0m.2 14.1h0m1.5-15.5h0m1 15.6h0m.5-15.7h0m0 16.8h0m.9-1.5h0m.4-.2h0m.1-13.9h0m.7 15.2h0m1.7-19.8h0m0 18.5h0m.1-11.9h0m0 11.5h0m.7-.1h0m1-11.8h0m.4-2.2h0m.4 14.4h0m.1 .6h0m.2-13.1h0m.4-2.3h0m1.4 15.5h0m.7-1.5h0m.1 1.1h0m.8-30.3h0m.5 28.2h0m.1 .1h0m.2-49h0m.1 2.4h0m.7 47.5h0m.3-61.6h0m.4 9.4h0m1.6 4.9h0m0 8.1h0m.2 39.3h0m.2-.7h0m.4-39.6h0m.1 41.9h0m.1 1h0m2-36.2h0m.1 1.1h0m.1 32h0m.8-32.9h0m.1-10.9h0m.2 13.3h0m.5 30.3h0m.6 1.5h0m.4-36.5h0m.5 35.3h0m.1-27.6h0m.4 29.5h0m.7-27.3h0m.3-1.7h0m1.2 28h0m.1 0h0m0-27.1h0m.4-4.1h0m.3 6.2h0m.5 26h0m.4 .5h0m.6-1.3h0m0 1.9h0m.5-31.9h0m.4 30h0m.5-1h0m.7-23.4h0m0 26.2h0m.9-2.7h0m.3-23.2h0m1.1-8.1h0m.2 5.7h0m1.2 27.3h0m0-.3h0m0-29.6h0m.1 28.2h0m1.9 .7h0m.2 .3h0m.1-33.8h0m.4-5.7h0m.4 2.3h0m.6 35.7h0m0-37h0m.6 37.4h0m.1 2.9h0m.6-38.2h0m.1-9.1h0m.1 43.7h0m.8 0h0m.1-50.4h0m.5 50h0m.2 0h0m0-51.7h0m1 52.2h0m.8-57.7h0m.7 57.1h0m.4-.1h0m.6-80.1h0m.3-98.5h0m0 6.2h0m.4-12.3h0m0 18.4h0m0 5.1h0m0 6.2h0m0 5.1h0m0 6.1h0m0 6.2h0m0 5.1h0m0 12.3h0m0 6.1h0m0 5.1h0m0 11.3h0m0 7.2h0m0 4.8h0m0 .3h0m0 5.1h0m0 80.3h0m.4-81.4h0m1.2 80.8h0m.4-57.8h0m.3 57.7h0m.9-1.1h0m.1-56.9h0m.1 2h0m.2 55.9h0m.7-1.6h0m1-59.2h0m.6-22.8h0m0 6.2h0m.2 29.5h0m.7 45.3h0m.3-36.3h0m.2 36.5h0m.7-41.3h0m.9 9.6h0m.4 32.3h0m1.2 .7h0m.2-.1h0m.4-31h0m.4-8.5h0m0 39.6h0m.6-61.3h0m.3 13.1h0m.8-5.9h0m.3 55.2h0m.6-85.6h0m0 5.1h0m0 8.2h0m0 5.1h0m0 4.8h0m.2 6h0m.2 56.3h0m.5-44.1h0m.1-16.8h0m.5 19.1h0m.3 43.9h0m.2-41.3h0m.1 41.4h0m.7-1.5h0m.5-34.5h0m1.3 8h0m.1-8.3h0m.1 35.8h0m.2 .1h0m.1-33.5h0m.3 33.6h0m1.2 .7h0m.3-26.8h0m.9 26.2h0m.6-28.2h0m.3 28.9h0m.6 .2h0m.9-32.7h0m.6 32.1h0m.7 .2h0m0 1.3h0m.2-35.2h0m.7-.7h0m.1-6.5h0m.5 41.1h0m.5-.1h0m.2-40.6h0m.6 41.2h0m.6-50.8h0m.2 50.9h0m.3-65.4h0m.6 65.7h0m.4-58.6h0m1.2 58.1h0m.1 .9h0m.1-76.6h0m0 5.7h0m0 5.1h0m.1 10.6h0m.7 11.4h0m.3-1.1h0m.4 44h0m.4 1.4h0m.4-39.2h0m.2 38.2h0m.5 1.2h0m.4-35.9h0m.7 9.9h0m.2 25.2h0m0 0h0m.2-29.7h0m1.3 32.1h0m.1-1.7h0m0-22.6h0m.7 23h0m.5-.2h0m.1-24.3h0m.1 1.1h0m.9-2.7h0m1.1 25.4h0m.3 .4h0m.2-.5h0m.2-26.2h0m.6 26.7h0m.7-.5h0m.2-.1h0m.1-33.4h0m.3-5.1h0m1.9 14.2h0m0-2.2h0m.1 27.6h0m.1-1h0m.2-20.4h0m.3 20.3h0m1.1 0h0m.5-22.7h0m.7 24.8h0m.2-1.4h0m1-18h0m.6 18h0m.2-16.9h0m.2 17.5h0m.8-.6h0m.6-18h0m.4 18.3h0m1 1.1h0m.3-1.2h0m.9-19.4h0m.5 19.3h0m.7-44.8h0m0 6.8h0m0 8.2h0m0 2.7h0m.2 6.8h0m.4 4.1h0m.6 16.8h0m0-.3h0m1.6 .5h0m0-.2h0m.4-17.7h0m.3 17.9h0m.6-13.7h0m.5 13.9h0m.7-13.8h0m.2 14.7h0m.3-1.2h0m.6 0h0m.5-17h0m1.1 17.1h0m.2-18.3h0m.8 18.5h0m1.1 0h0m.1-21.9h0m.7 1.9h0m.4 19.8h0m.1-14.5h0m.1 14.7h0m1.3-14h0m.3 13.9h0m1.6-12.1h0m.2 12.3h0m.1-.2h0m1.5-13.9h0m.1 14.2h0m.6-13.1h0m.2 13.1h0m2-15.1h0m0-1.9h0m.2 16.8h0m.2 0h0m.5 .2h0m.4-12.9h0m.2 13.5h0m1.5-.4h0m0-.1h0m.1 1.7h0m.4-1.6h0m.2-12.2h0m.1 12h0m2-11h0m.6 11.8h0m.3-.9h0m.2 0h0m.2-12.2h0m1.2 12.4h0m1.1-18.7h0m.4 1.6h0m0 17.3h0m.8-.4h0m.6-.1h0m0-17.8h0m1 17.8h0m.5-22.9h0m.8 23.8h0m.2-.9h0m.3-25h0m.1 5.8h0m.5 19.5h0m.1 .3h0m1.5-14.6h0m.5 14.6h0m.6-.1h0m.1-15h0m1.8 14.6h0m.1-10.8h0m.2 10.8h0m1.9 .3h0m0-13.4h0m.2 13.1h0m.7-13.6h0m.3-4.3h0m.5 2.1h0m.6 16h0m.5 .3h0m.5 .3h0m.6-12h0m.1 11.4h0m1-11.4h0m.2 11.4h0m.3 .4h0m.8-13.3h0m.4 14.2h0m.9-1.1h0m.3 .2h0m.1-12.6h0m.3 12.2h0m0-17.1h0m1.5 18.2h0m0-12.5h0m.2 11.6h0m1-12.5h0m.5 12.6h0m1.5 .3h0m.3-11.4h0m.4 11.4h0m.7-10h0m.7 9.9h0m.3-11.2h0m.5 11.3h0m.3-.2h0m.8 1.1h0m.4-1.1h0m.1-13.6h0m.6 .7h0m.1-5.6h0m.5 18.7h0m.3 .2h0m1 .2h0m.1-11.9h0m1.5 .8h0m1 10.9h0m.1 1.7h0m.5-1.5h0m.6-.1h0m0-9.3h0m.8-.4h0m.9 9.5h0m.5 .1h0m1.7 0h0m.5-.1h0m.3-11.5h0m.4-3.7h0m.2 15.4h0m.1-.2h0m.2-20.9h0m1.1 21h0m.4-13.7h0m.9 13.7h0m.1 .1h0m.9-13h0m1.4 13h0m.1-.1h0m.9 .1h0m.1-7.5h0m.7 7.3h0m.5 .2h0m.9-9.4h0m1.6 9.5h0m.1-9.5h0m.3 9.3h0m1-10.6h0m.1 10.5h0m.4 .5h0m.2 0h0m.8-11.8h0m.6-2.9h0m.4 14.7h0m.3 1.3h0m.8-15.2h0m.9 13.3h0m.5-17.5h0m1 19.4h0m1.2-1.9h0m.3-20.1h0m.4-4.8h0m.1 25.1h0m0 .1h0m.4-19.7h0m1 19.5h0m.5 .6h0m.6-18.3h0m.6 3.3h0m.4 14.5h0m1.1-.2h0m.3-18.4h0m.5 18.4h0m1-.1h0m0-16.1h0m.1 16.6h0m.1-22.2h0m.7 21.8h0m.5 .4h0m.8-15.1h0m.6 15h0m.7 .1h0m.6-.1h0m.6-9.7h0m1.2 1.3h0m.7 8.3h0m.3-7.4h0m.9 7.5h0m.4-.1h0m.4 0h0m.2 1.7h0m.9-8.8h0m.7 7.1h0m.7-7.3h0m.5 7.5h0m0 .2h0m.4-9.2h0m.9-1.9h0m.2 10.7h0m.1 .3h0m1.3-6.8h0m1.2 6.5h0m0 0h0m1.2 0h0m0 0h0m1.2 .3h0m.4 .2h0m0-5.8h0m1.4 5.8h0m.2-.4h0m.1-6.2h0m.3 6.4h0m0-6.1h0m1.3 5.8h0m0-7.6h0m.4 8.3h0m.5-.7h0m.8 .4h0m1-.4h0m.4 .1h0m0 .3h0m.3-8.5h0m1.9 8.2h0m.8 0h0m.4-11.9h0m1.3 11.8h0m.6-9.5h0m.2 9.6h0m.6-6.3h0m0 6.6h0m1.1-.1h0m.3 .1h0m.1-.2h0m.6-5.7h0m.8 5.7h0m.7-5.6h0m.3 5.6h0m1.2 .1h0m.3-3.9h0m.3 3.9h0m.7-5h0m.2 5h0m.7 .2h0m.8-3.5h0m.1 3.4h0m.6 .1h0m.4-3.5h0m.9 3.5h0m.9 0h0m.5-4.6h0m.6 1.1h0m1.1 3.6h0m.5 0h0m.6-4.1h0m.8 4.1h0m.8 0h0m.8-6.2h0m.7 6.3h0m.5 .1h0m.1 0h0m2.3-3.2h0m.5 3.5h0m.1-.3h0m.2-3.6h0m.3 3.6h0m1.3 0h0m.6-4.3h0m0 4.2h0m1 0h0m.3 0h0m.9 0h0m.4 0h0m.1-9.4h0m0 3.3h0m1.3 6.2h0m.1-.1h0m.6-6.7h0m.9 2.6h0m.5 4.4h0m.9-.2h0m0 .3h0m.7-5h0m1.2 4.8h0m.9-.1h0m.7-4.3h0m.1 4.5h0m.3-6.6h0m.9 6.6h0m.6-4.4h0m1.5 4.3h0m.2-3.6h0m1.2 3.9h0m.5-.4h0m.2 1.8h0m.4-7.8h0m.2 6.2h0m1.1-.2h0m.4 .1h0m.2-7.3h0m.7-2.5h0m.2 9.7h0m0 .4h0m.5-11.9h0m.3 11.4h0m.2 .1h0m.4-8.7h0m1.5 4.1h0m.2 4.7h0m.2-.1h0m1.3-3.8h0m0 4h0m.5-.2h0m.4 .3h0m1.9-.3h0m.3-4.3h0m.8 4.4h0m.6-7.5h0m0 7.6h0m.7 .1h0m.1-6.6h0m1.8 6.2h0m0-6.2h0m.8 6.3h0m.7 0h0m.1-3.9h0m.6 3.8h0m1.2-3.7h0m.1 3.8h0m.5-.1h0m.4-4.4h0m.1 4.5h0m1.7-.1h0m0-3.2h0m.7 3.2h0m.6 0h0m.8-3.5h0m1.3 3.9h0m.1-3.4h0m.4 3h0m.8 .1h0m.1-.1h0m1.3-3.9h0m.6 3.9h0m.6 .2h0m.3-.1h0m.2-3.7h0m.7 3.7h0m.8-5.5h0m.3 5.4h0m.8 .1h0m1.9-5.7h0m.1 5.6h0m.8-5.3h0m.1 5.3h0m.1 0h0m1.1-5.6h0m.2 5.7h0m.7 .2h0m.3-7.6h0m.8 7.4h0m.6-.2h0m.4 .1h0m.5 .1h0m1.6-4.3h0m0 4.2h0m2.1 .1h0m1-3.1h0m.1 3.1h0m.3 .2h0m.5-4.3h0m0 4.2h0m1.8-.1h0m.1-3.8h0m2.2 3.9h0m0-4.9h0m.1 4.7h0m.4-4.5h0m.9 5.1h0m.6-.6h0m.3 .1h0m.6-5.9h0m.8 6.8h0m.2-9h0m.4 8h0m1.1 0h0m0-12.5h0m.8 2.9h0m.3 9.9h0m.2-9.3h0m1.7 9h0m.2-6.6h0m.4 6.8h0m.2-7.1h0m1 6.9h0m.2 .1h0m.6 .2h0m0-.1h0m.3-9h0m1.3-2.6h0m0 13.3h0m0-9.1h0m.3 7.3h0m.7 0h0m.3-7.8h0m1.3 8h0m.2 0h0m.3-7.5h0m.8 7.4h0m.4 0h0m.5-.1h0m2.1 .2h0m0-4.6h0m.2 4.5h0m.8 .1h0m.1 0h0m.3-4h0m.4 3.9h0m.6 .1h0m.2-4.8h0m1.4 4.7h0m0-5.3h0m2.1 5.3h0m0 .1h0m.3 1.6h0m.1-7.4h0m1.1 5.1h0m.2-.7h0m.3-.4h0m.9-4.4h0m.3 4.9h0m0-5.4h0m.2 5.2h0m1-6.4h0m1 6h0m.1-6h0m0-.1h0m.6 6.3h0m.3-5.8h0m.4-.1h0m.1 4.8h0m.7-5.8h0m.3 5.3h0m.9-6.4h0m1.2-2.6h0m0 11.6h0m0-2.7h0m.9-9.3h0m0 11.4h0m.4-13.5h0m.3 13.4h0m.9-7.8h0m1.1 7.9h0m.3 .3h0m.9-7.2h0m.5 7.3h0m1-.2h0m0-9.5h0m.5 9.8h0m.8 0h0m0-9h0m1.2 8.8h0m.1-8.4h0m.6-4.4h0m.1 12.9h0m.6-9h0m1.1 9.1h0m.8 .4h0m1.3-.2h0m.5 .5h0m.3-.5h0m1.3-10.9h0m.8 11h0m.5-10.1h0m1.5-4.3h0m0 14.3h0m.7 .1h0m0-12h0m1.1 12.4h0m.3-14h0m.9 14h0m.5 1.7h0m.3-15.3h0m.1 13.8h0m1.2-19h0m.4 18.6h0m.7-10.8h0m.1 10.7h0m.4 .2h0m.7-8.9h0m.3 9h0m.1 0h0m.1-7.8h0m2.3-.7h0m.1 8.4h0m.6-5.6h0m.7 5.7h0m.6-.1h0m.4-6.5h0m.1 6.5h0m2.1-7.3h0m.3 7.3h0m.3-11.5h0m.4 11.7h0m.9-.3h0m1.4-7.8h0m.1 8h0m0 .2h0m.7-9.5h0m.1 9.5h0m1.3-11.6h0m0 11.2h0m1-.1h0m.4-13.3h0m.1 13.7h0m.5-17.9h0m.8 17.6h0m.9 1.9h0m.3-9.3h0m0 7.5h0m.7 0h0m1.9 .1h0m.2-6.4h0m.1 6.3h0m1 0h0m0 0h0m.2-7.1h0m.7 1.2h0m.5 5.9h0m1 .1h0m.9-7h0m.7-4.6h0m.5 11.7h0m.1-9.2h0m.7 9.4h0m.4-.3h0m1 0h0m.7-5.8h0m.5 5.9h0m.5-5.7h0m.8 5.9h0m1.5-.4h0m.2-8.2h0m.1 8.3h0m.2-7h0m.8 7h0m1.2-8.6h0m.7 1.4h0m.1 7.3h0m.1-.1h0m.4-.1h0m0 .2h0m.1-7.7h0m1 7.6h0m.6 1.7h0m.6-7.5h0m.2 5.7h0m.2 0h0m.2-5.3h0m1.9-2h0m.8 7.3h0m.6 .1h0m.7 0h0m.1-6.8h0m1.4 6.9h0m.1-9.5h0m1 9.1h0m0-10.6h0m1-2.8h0m.5 1.7h0m.2 11.9h0m.3-.3h0m.6 0h0m.2-9.9h0m.9 2.8h0m1.3 7.3h0m.4 0h0m.2-6.7h0m0 6.6h0m2.2 .4h0m.5-6.9h0m.6 6.5h0m1-9.4h0m.5 9.2h0m1.5-10.6h0m.1 11.1h0m.8-.6h0m0-12.3h0m1.4-3.8h0m.7 5.6h0m.4 10.4h0m.4 .3h0m.2-.3h0m.5-7.6h0m1.4 7.5h0m.1-7.3h0m.8-1.6h0m.1 9.2h0m.7-.1h0m.6-.1h0m.1-10h0m1.7 1h0m0 8.7h0m1.1-13.3h0m.6 13.6h0m.2-8.9h0m.6 8.7h0m1.1-8.3h0m.3 8.3h0m.4-8.6h0m1.2 8.4h0m.2 .1h0m.6 .2h0m.6-.3h0m.5-.1h0m.7-7.9h0m1.1 7.7h0m.9-14h0m.4 14h0m0-.2h0m.2-16.6h0m2.2 16.5h0m.1-20.9h0m.4 20.6h0m.5-23.9h0m.5 24h0m.3 .3h0m.1-30.6h0m.2-1.3h0m.5 3.3h0m.5 28.6h0m1-27.7h0m.6 27.6h0m.1 .2h0m1-23.4h0m.8-2.5h0m.1 25h0m1.4-14.6h0m.2 14.6h0m.2 0h0m1.3 .3h0m.7-.2h0m.1-11h0m.8 11.2h0m.3-.1h0m.3-8.7h0m1.1 9.6h0m.1-.6h0m.7-10.9h0m.2 11.5h0m.5-.5h0m1 .4h0m.6-13.5h0m1.3 14h0m.4-13.9h0m.3 13.8h0m.1-16.5h0m.6-3.3h0m0 21.6h0m.7-1.8h0m.1 .3h0m.8-15.8h0m.3 15.4h0m.9 .1h0m0 0h0m.3-13.5h0m1.6 .8h0m.5 12.4h0m.5 0h0m.4 .1h0m.2-11.4h0m.7-2.1h0m.7 13.2h0m1.1-16.7h0m.2 16.4h0m.8 .5h0m.5-15.2h0m.3-5.4h0m.1 20.4h0m.2-.3h0m1.1-.2h0m.5-12.9h0m.3 12.9h0m1.2-.1h0m.2-11.2h0m1.1-.7h0m.4 11.9h0m.3 .4h0m1.4-13.6h0m.7-1.6h0m0 14.5h0m.7 .3h0m.3-16.7h0m.8 16.4h0m.6-21.5h0m0 21.2h0m.6 .3h0m.8-18.4h0m.3 18.3h0m.9-.1h0m.1-14.6h0m.9 14.4h0m.3-11.7h0m.2 11.7h0m.3 .1h0m1.6 0h0m.3-.3h0m0-11h0m2.3-1.2h0m0 12.6h0m.5-12.4h0m.3 11.9h0m1.8-.1h0m.2-.1h0m.2-14.7h0m.6 .9h0m.7 13.6h0m.7 .3h0m.9-17.2h0m1 17h0m.5-18h0m.5 18.4h0m.2-26h0m.3 5h0m1.1 21h0m.4-17.6h0m.7 17.5h0m.3-19.4h0m.5 19.8h0m.7-20.2h0m.3 20.9h0m.7-20.8h0m.1-5.1h0m.6 .7h0m0 24.7h0m.1-.5h0m2 2.4h0m.3-26h0m.5 23.7h0m.3-32.7h0m.4 3.8h0m.4 29.4h0m.1-27h0m1.4 2.7h0m.3 23.9h0m1.2-26.2h0m.1 25.7h0m.2 0h0m1.1 .5h0m.2-24.5h0m.6 .9h0m.1-1.1h0m.6 24.2h0m.1-.2h0m1.1-.4h0m.2 .4h0m.3-29.3h0m.4 29.1h0m.4-42.4h0m0 2.7h0m0 6h0m.1 33.4h0m.3-38h0m.9 38.6h0m.9-33.4h0m.5 32.6h0m1.1-25.5h0m.1 25.7h0m.7 .5h0m.1-23h0m.6 22.4h0m.8 .3h0m.6 .2h0m.4-23.6h0m.4 25.4h0m0-1.9h0m.6-18.8h0m1.1-.1h0m.5 19.6h0m.6-.3h0m.2 .4h0m.1-19.5h0m1.2-4.7h0m.7 24h0m.3-.3h0m.8-22.4h0m.7 22.4h0m0 2.2h0m.5-1.5h0m.8-.6h0m.4-25.3h0m.9 25.7h0m.6-29.9h0m.2 3.4h0m1.3 25.6h0m.8-30.9h0m.7 31.8h0m.2-1.6h0m.1-34.9h0m.7-5h0m.3 7.5h0m.3 32.3h0m.5-29.6h0m.5 29.9h0m.1-34.8h0m.8 12.4h0m.7 23.1h0m.9-.8h0m.2-20.7h0m.7 20.8h0m.3-.1h0m.8-22.6h0m1.3 2.7h0m.3 20.2h0m.9-.2h0m.8-20.9h0m.4 .6h0m.8 20.3h0m.9-.5h0m.3-16.8h0m1.1 17h0m.4-20.1h0m1.6-3.9h0m.1 23.9h0m.6 0h0m.7-22.5h0m.2 2h0m.5 21.2h0m1-.5h0m0-21.8h0m.1-6.2h0m.4 28.7h0m.4 0h0m.2-24.6h0m.3-5.8h0m.5 2.5h0m.1 27.3h0m.5-22.2h0m.6-3.3h0m.2 25.6h0m.1 .6h0m1-21.7h0m0 21.4h0m.1-25.8h0m1.5 26.1h0m0-22.8h0m.2 2.9h0m.7 20.5h0m.7 1.5h0m0-20.5h0m.7-.3h0m.7 18.9h0m.1-21.2h0m1.4 21.1h0m.4-22.5h0m.4 22.1h0m.3-20h0m.2 20.2h0m1.2-22.7h0m.9 22.1h0m.4-28h0m.7 28.8h0m.4-26.2h0m.1 25.3h0m1.2-1h0m.2-35h0m1.2-1.3h0m.1 36.8h0m0-1h0m.1-38.7h0m.7-1.8h0m.6-5.9h0m.1 45.9h0m.9-48.2h0m.6-1.2h0m.1 48.2h0m.5 .6h0m.5-54.8h0m.2 53.7h0m1-68.9h0m.3 68.7h0m.2-74.9h0m.9 30.1h0m.2 45.1h0m.8 1.5h0m.2-51h0m.7 51.3h0m.5-34.5h0m.4 9.3h0m.1 2h0m.8 21.7h0m.6 .7h0m.4-21.9h0m0 1.1h0m.9 20.8h0m.3-21.9h0m.2 23h0m1.6 1.4h0m.2-25.2h0m.8 23.5h0m.8-36.5h0m.2 37.9h0m.4 .1h0m.2 1.1h0m.2-2.7h0m1-.2h0m.1-46.2h0m.2-9h0m.5 15.1h0m.2 39.5h0m.2 .3h0m.9-39.3h0m.1 38.4h0m.5-40.5h0m.3 41.1h0m.4-41.4h0m.4-3.8h0m.8 45.4h0m.4-45.6h0m.1 44h0m.2-37.2h0m.5 36.7h0m.2-47.6h0m.3 47.5h0m.1-34.9h0m1.2 35.7h0m1-36.7h0m.4 36.1h0m.1-36.5h0m.7 35.7h0m.2-35.4h0m.4 35.9h0m.3-46h0m1.2 46.9h0m0-1.7h0m.2-38h0m.1-5.3h0m.3 1.7h0m.1 43h0m1.2-1.2h0m.4-57h0m.8 9.1h0m1.5 7.8h0m.1 43.1h0m0-2.3h0m1.2-38.5h0m.4 39.7h0m.5-35.5h0m.4 37.2h0m.1-.3h0m.9-31.3h0m.1 32.1h0m0-40.3h0m.1 42.4h0m1-3.2h0m0-32.3h0m.4 1.8h0m1.1-7.2h0m.2 .3h0m.1 38.3h0m.1-1.7h0m1.5-.5h0m.3-.3h0m.1-30.9h0m.4-2.3h0m.3-.6h0m.5-2.9h0m.6 35.9h0m.4 .7h0m.2-37.9h0m0-7.9h0m1.4 47.4h0m.5-45.1h0m.1 44.8h0m0-49h0m0-14.4h0m0 2.8h0m.7 21.6h0m.6-8.5h0m0 47.2h0m.3 .5h0m.5 2.4h0m.6-43h0m1 39.3h0m.4-1.8h0m.3-46.3h0m.6-8.5h0m.4-5.3h0m.2-9.9h0m.9 10.2h0m.1 57.1h0m.4-58h0m0 54.4h0m.4-55.1h0m.6 55.7h0" style="fill:none;stroke:#1f77b4;stroke-width:5.50;stroke-linecap:round"/></g></g></g><g id="filtB"><g clip-path="url(#p6a3180595b)"><g transform="scale(0.72) translate(-0.0224 0.2625)"><path d="M117.2 1009.6 118.6 1017.7 120.2 1019.8 121.9 1018.8 123.5 1018.8 125.2 1014.7 127.2 1021.8 128.8 1005.5 130.5 1000.3 132.1 1000.3 134.2 1004.4 136.2 1008.5 138.7 1012 141.1 1012 143.8 1007.5 145.8 1007.5 147.3 999.3 148.9 993.2 150.1 958.4 151 896.9 152 840.6 153 876.4 154.2 927.6 155.5 958.4 156.7 972.7 158.3 976.8 160 989.1 161.6 1002.4 163.7 1003.4 164.9 991.1 166.3 980.9 167.8 993.2 169.4 1004.4 171.4 1008.5 173.5 1010.6 175.1 999.3 176.6 988 178.2 993.2 179.6 985 181.3 991.1 182.9 999.3 184.1 970.6 185.8 948.1 187 972.7 188.6 978.8 190.3 977.8 191.9 981.9 193.1 977.8 194.8 989.1 196.4 982.9 198.1 988 199.7 997.3 201.3 991.1 203 990.1 204.2 978.8 205.4 948.1 206.7 931.7 207.9 937.9 209.1 956.3 210.3 961.4 212 956.3 213.4 935.8 214.6 928.7 215.9 942 217.3 968.6 218.9 989.1 220.6 998.3 222.2 995.2 223.9 985 225.7 981.9 227.1 970.6 228.8 961.4 230.8 956.3 232.9 955.3 234.9 956.3 236.6 964.5 238.2 971.7 239.8 958.4 241.5 937.9 242.7 925.6 243.9 923.5 245.2 903.1 246.4 921.5 247.6 937.9 248.8 950.2 250.1 958.4 251.3 970.6 252.9 968.6 254.6 978.8 256.2 972.7 257.9 978.8 259.1 958.4 260.3 929.7 261.5 921.5 262.8 946.1 264.4 943 266.1 929.7 267.3 921.5 268.5 931.7 270.1 952.2 271.8 939.9 273 936.9 274.2 954.3 275.9 972.7 277.5 973.7 279.2 972.7 280.8 985 282.4 978.8 284.1 987 285.3 958.4 286.5 925.6 287.8 913.3 289 948.1 290 974.7 290.6 980.9 292.3 958.4 293.5 936.9 295.2 962.5 297.2 978.8 298.8 972.7 300.5 965.5 302.5 972.7 304.6 974.7 306.2 937.9 307.6 903.1 309.1 856 310.7 815 311.7 856 312.8 917.4 314 958.4 315.8 985 317.3 998.3 318.9 987 321 985 323 965.5 324.6 976.8 326.1 982.9 327.5 937.9 329.2 903.1 330.8 882.6 332 868.2 333.2 896.9 334.5 933.8 335.7 915.3 337.3 929.7 339.4 950.2 341 970.6 342.3 982.9 343.9 966.5 345.5 956.3 347.2 948.1 348.6 949.1 350 942 351.7 929.7 353.3 921.5 354.5 932.8 355.8 948.1 357.4 929.7 358.8 917.4 360.3 882.6 361.9 909.2 363.6 876.4 365 845.7 366.4 815 367.7 845.7 368.9 886.7 370.1 862.1 371.7 876.4 373.4 890.8 374.6 917.4 375.8 958.4 377.5 991.1 379.1 1002.4 380.8 989.1 382.4 970.6 383.6 960.4 384.9 966.5 386.5 946.1 388.1 978.8 389.8 1000.3 391.8 1008.5 393.9 989.1 395.5 968.6 397.1 956.3 399.2 954.3 400.8 954.3 402.5 964.5 403.7 917.4 404.9 889.7 406.2 917.4 407.4 954.3 409 970.6 410.7 982.9 412.3 964.5 413.9 991.1 415.6 958.4 417.2 939.9 418.8 970.6 420.1 990.1 421.7 958.4 423.4 939.9 425 970.6 426.6 987 428.3 976.8 429.9 987 431.5 958.4 433.6 940.9 435.2 962.5 436.9 978.8 438.5 970.6 440.1 978.8 441.8 999.3 443.4 991.1 445.1 1015.7 446.9 1009.6 449 1012.6 451 1011.6 453 1012.6 454.5 999.3 456.5 980.9 458.2 999.3 459.8 1011.6 461.4 985 463.1 972.7 464.7 978.8 466.4 993.2 468 1001.4 469.6 978.8 471.3 970.6 472.9 985 474.6 933.8 476.2 978.8 477.4 1000.3 479.1 970.6 480.7 972.7 482.3 948.1 484 999.3 485.6 976.8 486.8 958.4 488.5 917.4 489.7 882.6 490.9 851.9 492.2 917.4 493.4 866.2 494.6 833.4 495.9 876.4 497.1 917.4 498.3 948.1 499.9 970.6 501.6 982.9 503.2 970.6 504.9 962.5 506.5 985 508.1 956.3 509.8 991.1 511.4 1008.5 513.1 993.2 514.7 982.9 516.3 991.1 517.6 961.4 519.2 999.3 520.8 970.6 522.1 948.1 523.7 985 525.3 944 527 970.6 528.6 985 530.3 946.1 531.9 968.6 533.5 937.9 535.2 958.4 536.8 929.7 538.4 905.1 539.7 958.4 540.9 989.1 542.5 978.8 544.2 993.2 545.8 1002.4 547.5 978.8 548.7 958.4 550.3 999.3 552 958.4 553.2 921.5 554.4 942 555.7 899 556.9 929.7 558.1 946.1 559.7 890.8 561 933.8 562.2 958.4 563.8 920.5 565.1 937.9 566.7 958.4 568.3 948.1 569.6 917.4 570.8 880.5 572 917.4 573.3 985 574.9 976.8 576.9 966.5 578.6 989.1 580 999.3 582.3 996.2 583.9 993.2 585.2 958.4 586.4 917.4 588 907.2 589.7 911.3 590.9 944 592.1 907.2 593.3 937.9 594.6 967.6 596.2 919.4 597.9 929.7 599.1 958.4 600.7 977.8 602.4 958.4 604 937.9 605.2 904.1 606.5 929.7 608.1 954.3 609.7 950.2 611 942 612.2 978.8 613.4 937.9 614.6 908.2 615.9 958.4 617.1 990.1 618.7 974.7 620.4 958.4 622 948.1 623.2 937.9 624.5 928.7 625.7 958.4 627.3 976.8 628.6 944 630.2 985 631.4 962.5 633.1 970.6 634.7 965.5 635.9 978.8 637.2 965.5 638.4 972.7 639.6 997.3 640.9 958.4 641.7 933.8 642.9 961.4 644.1 937.9 645.4 956.3 646.6 937.9 647.8 902 649 937.9 650.3 999.3 651.5 1015.7 652.7 978.8 654 956.3 655.6 976.8 657.2 986 658.9 972.7 660.5 965.5 662.2 970.6 663.4 948.1 664.6 925.6 665.8 914.3 667.1 948.1 668.3 978.8 669.5 972.7 670.8 1013.6 672 958.4 673.2 917.4 674.4 985 675.7 937.9 676.9 896.9 677.9 864.2 678.9 907.2 680.2 952.2 681.4 929.7 682.6 911.3 683.9 929.7 685.1 946.1 686.3 937.9 687.6 950.2 688.8 966.5 690 946.1 691.2 933.8 692.5 958.4 693.7 981.9 694.9 970.6 696.6 996.2 698.2 985 699.8 970.6 701.5 953.2 703.1 980.9 704.8 971.7 706.4 991.1 708 1006.5 709.7 995.2 711.3 988 712.9 1011.6 714.6 1000.3 716.2 997.3 717.9 989.1 719.5 998.3 721.1 985 722.4 980.9 723.6 989.1 724.8 978.8 726.1 977.8 727.7 999.3 729.3 1000.3 731 997.3 732.6 1000.3 734.2 995.2 735.9 993.2 737.5 987 738.7 999.3 740 1022.9 741.6 1011.6 743.3 1007.5 744.9 1017.7 746.5 1001.4 748.2 1009.6 749.8 1020.8 751.4 1003.4 753.1 1007.5 754.7 1013.6 756.4 1017.7 758.4 1016.7 760.5 1021.8 762.1 1011.6 763.3 1003.4 765 1019.8 766.6 1011.6 768.2 992.1 769.9 1005.5 771.5 1017.7 773.2 1020.8 774.8 1017.7 776.8 1013.6 778.5 1010.6 780.1 1017.7 781.8 1016.7 783.8 1018.8 785.9 1017.7 787.9 1019.8 789.9 1020.8 792 1013.6 794 1017.7 796.1 1014.7 798.1 1016.7 800.2 1017.7 802.2 1012.6 803.9 1014.7 805.1 999.3 806.1 995.2 807.1 1007.5 808.4 1019.8 810.4 1017.7 812.5 1020.8 814.5 1017.7 816.6 1019.8 818.6 1018.8 820.7 1019.8 822.7 1017.7 824.8 1018.8 826.8 1019.8 828.9 1020.8 830.5 1021.8 831.7 1005.5 833.2 994.2 834.6 1005.5 836.2 1014.7 838.3 1009.6 840.3 1010.6 842.4 1008.5 844.4 1011.6 846.5 1012.6 848.1 1015.7 849.7 1010.6 851.4 1014.7 853 1018.8 854.7 1009.6 856.3 1019.8 857.9 1004.4 859.2 1017.7 860.4 1032.1 861.6 978.8 862.9 948.1 864.1 978.8 864.9 1014.7 866.9 958.4 868.6 956.3 870 962.5 871.9 1009.6 873.5 1007.5 875.2 1011.6 876.4 997.3 877.6 990.1 878.8 1001.4 880.5 1011.6 882.1 1016.7 883.8 1009.6 885.4 1007.5 887 1006.5 888.7 1013.6 890.3 1011.6 891.9 1014.7 893.2 999.3 894.4 991.1 895.4 989.1 896.9 999.3 898.5 1014.7 900.1 1019.8 901.8 1012.6 903.4 1014.7 905.1 1015.7 907.1 1012.6 909.2 1018.8 911.2 1016.7 913.2 1022.9 916.3 1023.9 918.4 1015.7 919.6 1013.6 921 1019.8 923.1 1022.9 925.1 1020.8 927.6 1018.8 930 1023.9 932.7 1025.9 935.4 1021.8 937.4 1019.8 939.9 1023.9 942.9 1024.9 946 1022.9 949.1 1024.9 951.7 1019.8 953.2 1016.7 954.6 1023.9 956.3 1025.9 958.3 1022.9 960.3 1020.8 962 1025.9 964.4 1023.9 966.9 1022.9 969.6 1024.9 972.6 1025.9 975.7 1024.9 978.4 1023.9 980.8 1025.9 983.9 1025.9 987 1024.9 989.4 1022.9 992.1 1027 995.2 1025.9 998.2 1027 1001.3 1024.9 1003.4 1022.9 1005.4 1025.9 1007.9 1021.8 1009.9 1025.9 1012.6 1021.8 1014.6 1020.8 1017.3 1023.9 1019.7 1025.5 1023.8 1025.9 1027.9 1024.9 1032 1025.9 1036.1 1025.5 1040.2 1024.9 1044.3 1027 1050.5 1028 1056.6 1028 1062.7 1028 1068.9 1029 1073 1027.6 1077.1 1028.4 1081.2 1028 1085.3 1029.6 1087.7 1025.9 1089 1023.9 1090.6 1028 1095.5 1027.6 1101.7 1028.4 1107.8 1028.4 1113.9 1028 1118 1027.2 1124.2 1028.4 1130.3 1028.4 1135.4 1025.9 1139.5 1025.5 1142.6 1028 1146.7 1027 1150.8 1028 1155.9 1027.6 1160 1027.2 1171 1024.9 1174.1 1025.9 1177.1 1027 1180.2 1025.9 1183.3 1025.5 1186.4 1023.9 1188.4 1027 1190.5 1021.8 1191.9 1021.4 1193.5 1027 1196.6 1027 1199.7 1025.9 1202.7 1024.9 1205.8 1027 1209.9 1025.5 1214 1028 1218.1 1027 1221.2 1025.5 1224.2 1027 1228.3 1025.9 1232.4 1028 1236.5 1026.3 1240.6 1025.5 1244.7 1025.9 1248.8 1027 1252.9 1024.9 1256 1024.9 1259.1 1023.9 1262.1 1023.5 1265.2 1025.9 1268.3 1027 1271.3 1024.9 1273.4 1021.8 1275 1017.7 1276.5 1013.2 1277.9 1014.7 1279.5 1017.7 1281.6 1016.7 1283.2 1025.9 1285.3 1023.9 1287.7 1024.9 1289.8 1025.9 1291.8 1022.9 1293.5 1021.8 1295.5 1024.9 1298 1022.9 1300.4 1023.9 1303.1 1019.8 1305.1 1020.8 1307.2 1023.9 1309.8 1024.9 1312.3 1020.8 1314.4 1019.8 1316.8 1021.4 1319.5 1021.8 1322.5 1023.9 1325.6 1021.8 1328.7 1020.8 1331.1 1017.7 1333.8 1022.9 1335.9 1020.8 1337.9 1014.7 1340 1016.7 1342 1014.7 1344.7 1019.8 1347.1 1017.7 1349.6 1016.7 1351.6 1012 1353.7 1016.7 1356.3 1018.8 1359 1016.7 1361.5 1017.7 1363.9 1015.7 1366.6 1016.7 1368.6 1014.7 1370.7 1012.6 1373.3 1017.7 1375.8 1019.8 1378.9 1018.8 1381.9 1015.7 1384.4 1013.6 1386 1010.6 1387.7 1014.7 1389.3 1011.6 1391.2 1017.7 1392.6 1021.8 1394.2 1016.7 1395.9 1019.8 1397.5 1015.7 1399.3 1018.8 1401.4 1016.7 1403.4 1011.6 1405.5 1006.5 1407.5 1003.4 1409 1008.5 1410.6 999.3 1412 994.8 1413.5 1003.4 1414.7 1011.6 1416.8 1012.6 1418.8 1011.6 1421.3 1014.7 1423.3 1009.6 1424.9 1004.4 1427 1006.5 1429 1004.4 1431.1 1005.5 1433.1 1009.6 1435.2 1011.6 1437.2 1004.4 1439.3 1000.3 1440.9 1007.5 1442.6 1011.6 1445 1012 1447.5 1010.6 1449.5 1006.5 1451.2 1001.4 1452.8 1004.4 1454.4 1001.4 1456.1 1011.6 1457.7 1005.5 1459.3 995.2 1460.8 994.2 1462.2 996.2" style="fill:none;stroke:#ff7f0e;stroke-width:2.08;stroke-linejoin:round;stroke-linecap:square"/></g></g></g><g id="patch_11"><path d="M 83.8639 759.133234 L 83.8639 414.051117" style="fill: none; stroke: #000000; stroke-width: 0.8; stroke-linejoin: miter; stroke-linecap: square"/></g><g id="patch_12"><path d="M 1052.9839 759.133234 L 1052.9839 414.051117" style="fill: none; stroke: #000000; stroke-width: 0.8; stroke-linejoin: miter; stroke-linecap: square"/></g><g id="patch_13"><path d="M 83.362837 759.4290 L 1052.623914 759.4290" style="fill: none; stroke: #000000; stroke-width: 0.8; stroke-linejoin: miter; stroke-linecap: square"/></g><g id="patch_14"><path d="M 83.362837 414.5490 L 1052.623914 414.5490" style="fill: none; stroke: #000000; stroke-width: 0.8; stroke-linejoin: miter; stroke-linecap: square"/></g><g id="text_28"><text style="font-weight: 700; font-size: 19px; font-family: 'DejaVu Sans', 'Liberation Sans', sans-serif; text-anchor: start" x="83.362837" y="408.051117">(b)</text></g><g id="legend_2"><g id="patch_15"><path d="M 756.265421 478.868097 L 1043.294314 478.868097 Q 1045.959914 478.868097 1045.959914 476.202497 L 1045.959914 423.380717 Q 1045.959914 420.715117 1043.294314 420.715117 L 756.265421 420.715117 Q 753.599821 420.715117 753.599821 423.380717 L 753.599821 476.202497 Q 753.599821 478.868097 756.265421 478.868097 z " style="fill: #ffffff; opacity: 0.8; stroke: #cccccc; stroke-linejoin: miter"/></g><g id="line2d_59"><g><use href="#m3a58cf84ba" x="772.259021" y="431.508715" style="fill: #1f77b4; stroke: #1f77b4"/></g></g><g id="text_29"><text style="font-weight: 700; font-size: 13.328px; font-family: 'DejaVu Sans', 'Liberation Sans', sans-serif; text-anchor: start" x="796.249421" y="436.173515">Raw Data</text></g><g id="line2d_60"><path d="M 758.931021 459.971908 L 772.259021 459.971908 L 785.587021 459.971908 " style="fill: none; stroke: #ff7f0e; stroke-width: 1.5; stroke-linecap: square"/></g><g id="text_30"><text style="font-weight: 700; font-size: 13.328px; font-family: 'DejaVu Sans', 'Liberation Sans', sans-serif" transform="translate(796.249421 455.73652)">Butterworth Filtered Data</text><text style="font-weight: 700; font-size: 13.328px; font-family: 'DejaVu Sans', 'Liberation Sans', sans-serif" transform="translate(796.249421 470.660964)">(N=6, Tc=3.3333 min, Type: low)</text></g></g></g></g><defs><clipPath id="p6ab9ace3d1"><rect x="83.362837" y="27.789" width="969.261077" height="345.082117"/></clipPath><clipPath id="p6a3180595b"><rect x="83.362837" y="414.051117" width="969.261077" height="345.082117"/></clipPath></defs></svg>
</body></html>
